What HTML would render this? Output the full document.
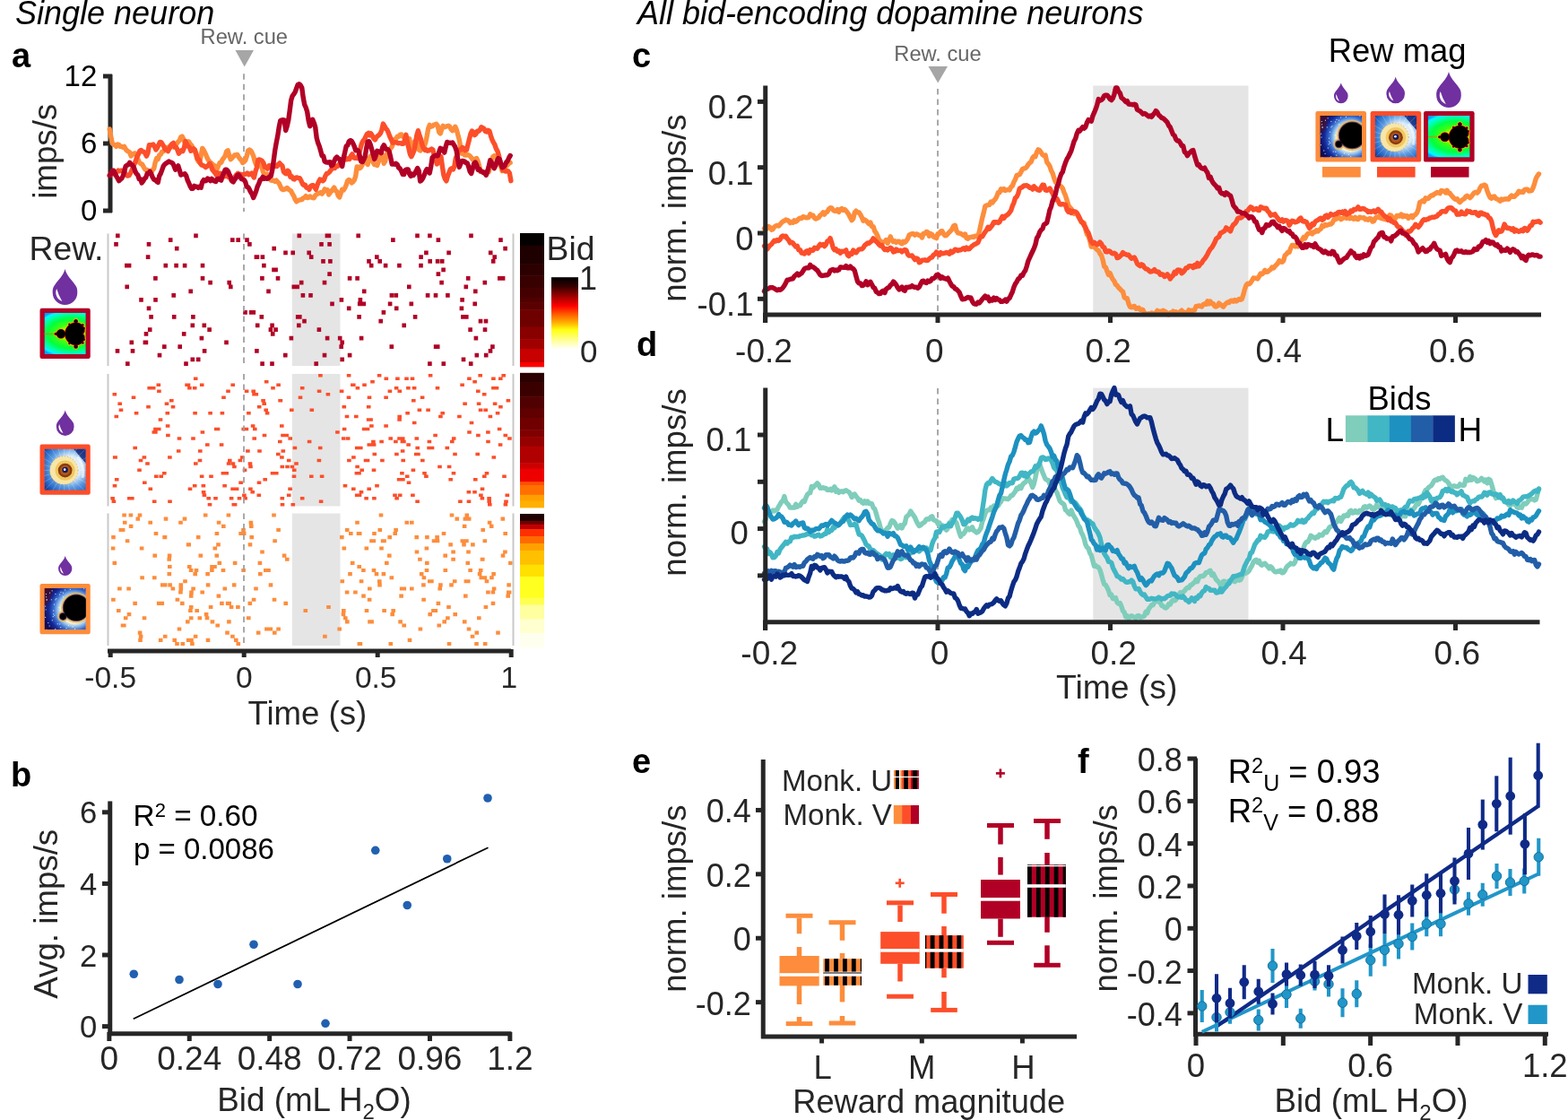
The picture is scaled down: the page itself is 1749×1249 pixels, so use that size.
<!DOCTYPE html><html><head><meta charset="utf-8"><title>Figure</title><style>html,body{margin:0;padding:0;background:#fff;overflow:hidden}svg{display:block}</style></head><body><svg width="1749" height="1249" viewBox="0 0 1749 1249" font-family="'Liberation Sans', Arial, sans-serif"><defs><linearGradient id="hot" x1="0" y1="0" x2="0" y2="1"><stop offset="0" stop-color="#000"/><stop offset="0.12" stop-color="#300000"/><stop offset="0.28" stop-color="#a80000"/><stop offset="0.4" stop-color="#ff0000"/><stop offset="0.52" stop-color="#ff6000"/><stop offset="0.63" stop-color="#ffb000"/><stop offset="0.73" stop-color="#ffff10"/><stop offset="0.87" stop-color="#ffff90"/><stop offset="1" stop-color="#ffffff"/></linearGradient><clipPath id="clip1"><rect x="0" y="0" width="100" height="100"/></clipPath><radialGradient id="g2" gradientUnits="userSpaceOnUse" cx="66" cy="50" r="95" gradientTransform="translate(66 50) scale(1 0.62) translate(-66 -50)"><stop offset="0" stop-color="#ffff00"/><stop offset="0.22" stop-color="#c0ff00"/><stop offset="0.38" stop-color="#40ff10"/><stop offset="0.62" stop-color="#00ff40"/><stop offset="0.8" stop-color="#00ffb0"/><stop offset="0.92" stop-color="#00f8ff"/><stop offset="1" stop-color="#00a0ff"/></radialGradient><clipPath id="clip3"><rect x="0" y="0" width="100" height="100"/></clipPath><radialGradient id="g4" gradientUnits="userSpaceOnUse" cx="62" cy="45" r="80"><stop offset="0" stop-color="#ffffff"/><stop offset="0.35" stop-color="#d8eaf8"/><stop offset="0.6" stop-color="#5a9ae0"/><stop offset="0.85" stop-color="#2060c0"/><stop offset="1" stop-color="#10308a"/></radialGradient><clipPath id="clip5"><rect x="0" y="0" width="100" height="100"/></clipPath><radialGradient id="g6" gradientUnits="userSpaceOnUse" cx="72" cy="52" r="85"><stop offset="0" stop-color="#ffffff"/><stop offset="0.38" stop-color="#fff4d0"/><stop offset="0.46" stop-color="#9cc8f0"/><stop offset="0.58" stop-color="#3a70d0"/><stop offset="0.72" stop-color="#142a98"/><stop offset="0.88" stop-color="#0a0c60"/><stop offset="1" stop-color="#2a0830"/></radialGradient><clipPath id="clip7"><rect x="0" y="0" width="100" height="100"/></clipPath><radialGradient id="g8" gradientUnits="userSpaceOnUse" cx="72" cy="52" r="85"><stop offset="0" stop-color="#ffffff"/><stop offset="0.38" stop-color="#fff4d0"/><stop offset="0.46" stop-color="#9cc8f0"/><stop offset="0.58" stop-color="#3a70d0"/><stop offset="0.72" stop-color="#142a98"/><stop offset="0.88" stop-color="#0a0c60"/><stop offset="1" stop-color="#2a0830"/></radialGradient><clipPath id="clip9"><rect x="0" y="0" width="100" height="100"/></clipPath><radialGradient id="g10" gradientUnits="userSpaceOnUse" cx="62" cy="45" r="80"><stop offset="0" stop-color="#ffffff"/><stop offset="0.35" stop-color="#d8eaf8"/><stop offset="0.6" stop-color="#5a9ae0"/><stop offset="0.85" stop-color="#2060c0"/><stop offset="1" stop-color="#10308a"/></radialGradient><clipPath id="clip11"><rect x="0" y="0" width="100" height="100"/></clipPath><radialGradient id="g12" gradientUnits="userSpaceOnUse" cx="66" cy="50" r="95" gradientTransform="translate(66 50) scale(1 0.62) translate(-66 -50)"><stop offset="0" stop-color="#ffff00"/><stop offset="0.22" stop-color="#c0ff00"/><stop offset="0.38" stop-color="#40ff10"/><stop offset="0.62" stop-color="#00ff40"/><stop offset="0.8" stop-color="#00ffb0"/><stop offset="0.92" stop-color="#00f8ff"/><stop offset="1" stop-color="#00a0ff"/></radialGradient></defs><rect width="1749" height="1249" fill="#fff"/><text x="17" y="27" font-size="36" fill="#000" font-style="italic">Single neuron</text>
<text x="711" y="27" font-size="36" fill="#000" font-style="italic">All bid-encoding dopamine neurons</text>
<text x="13" y="75" font-size="38" fill="#000" font-weight="bold">a</text>
<text x="12" y="877" font-size="38" fill="#000" font-weight="bold">b</text>
<text x="705" y="75" font-size="38" fill="#000" font-weight="bold">c</text>
<text x="710" y="397" font-size="38" fill="#000" font-weight="bold">d</text>
<text x="705" y="862" font-size="38" fill="#000" font-weight="bold">e</text>
<text x="1202" y="862" font-size="38" fill="#000" font-weight="bold">f</text>
<line x1="123.00" y1="83.00" x2="123.00" y2="237.00" stroke="#262626" stroke-width="5"/>
<line x1="115.00" y1="235.00" x2="125.00" y2="235.00" stroke="#262626" stroke-width="5"/>
<text x="108.3" y="246.4" font-size="33" fill="#000" text-anchor="end">0</text>
<line x1="115.00" y1="160.00" x2="125.00" y2="160.00" stroke="#262626" stroke-width="5"/>
<text x="108.3" y="171.4" font-size="33" fill="#000" text-anchor="end">6</text>
<line x1="115.00" y1="85.00" x2="125.00" y2="85.00" stroke="#262626" stroke-width="5"/>
<text x="108.3" y="96.4" font-size="33" fill="#000" text-anchor="end">12</text>
<text transform="translate(63,168.8) rotate(-90)" font-size="36.7" fill="#262626" text-anchor="middle">imps/s</text>
<text x="272.3" y="48.7" font-size="23.7" fill="#666" text-anchor="middle">Rew. cue</text>
<path d="M262.5 56 L283 56 L272.7 74.5Z" fill="#a6a6a6"/>
<line x1="272" y1="82.3" x2="272" y2="236" stroke="#a0a0a0" stroke-width="1.8" stroke-dasharray="6.5 5"/>
<path d="M122.2 144.0 L123.7 152.1 L125.2 159.8 L126.7 161.2 L128.2 161.7 L129.7 163.3 L131.2 161.0 L132.7 161.6 L134.2 163.4 L135.7 163.5 L137.2 164.2 L138.7 163.4 L140.2 166.4 L141.7 168.1 L143.2 168.9 L144.7 170.0 L146.2 174.0 L147.7 172.3 L149.2 171.4 L150.7 170.9 L152.2 173.0 L153.7 177.3 L155.2 180.9 L156.7 182.5 L158.2 182.8 L159.7 185.2 L161.2 188.0 L162.7 189.5 L164.2 189.5 L165.7 192.9 L167.2 192.8 L168.7 192.5 L170.2 189.5 L171.7 188.0 L173.2 180.8 L174.7 176.6 L176.2 177.6 L177.7 173.1 L179.2 172.2 L180.7 169.3 L182.2 168.7 L183.7 167.7 L185.2 165.2 L186.7 164.5 L188.2 164.3 L189.7 163.0 L191.2 163.9 L192.7 162.5 L194.2 164.1 L195.7 160.9 L197.2 160.1 L198.7 158.1 L200.2 156.7 L201.7 152.9 L203.2 152.1 L204.7 155.1 L206.2 158.7 L207.7 158.4 L209.2 157.9 L210.7 158.0 L212.2 160.7 L213.7 162.2 L215.2 165.1 L216.7 167.0 L218.2 171.0 L219.7 176.8 L221.2 180.0 L222.7 181.4 L224.2 173.1 L225.7 165.4 L227.2 167.4 L228.7 170.4 L230.2 173.8 L231.7 177.4 L233.2 179.6 L234.7 181.2 L236.2 182.4 L237.7 183.8 L239.2 184.6 L240.7 186.1 L242.2 188.1 L243.7 184.6 L245.2 181.5 L246.7 181.3 L248.2 177.9 L249.7 176.1 L251.2 173.8 L252.7 168.8 L254.2 167.9 L255.7 173.5 L257.2 177.7 L258.7 176.4 L260.2 174.7 L261.7 172.9 L263.2 172.7 L264.7 172.4 L266.2 175.1 L267.7 177.1 L269.2 178.7 L270.7 181.5 L272.2 180.5 L273.7 178.8 L275.2 174.3 L276.7 168.2 L278.2 167.0 L279.7 168.0 L281.2 170.5 L282.7 174.0 L284.2 179.8 L285.7 183.7 L287.2 184.7 L288.7 184.8 L290.2 184.5 L291.7 185.4 L293.2 190.8 L294.7 194.6 L296.2 194.9 L297.7 194.1 L299.2 195.4 L300.7 197.5 L302.2 201.1 L303.7 201.4 L305.2 201.3 L306.7 202.5 L308.2 201.2 L309.7 202.9 L311.2 204.4 L312.7 207.7 L314.2 210.7 L315.7 211.6 L317.2 211.1 L318.7 210.6 L320.2 209.5 L321.7 211.0 L323.2 212.1 L324.7 213.1 L326.2 216.2 L327.7 218.6 L329.2 222.4 L330.7 224.8 L332.2 223.6 L333.7 223.2 L335.2 222.8 L336.7 222.6 L338.2 220.9 L339.7 220.3 L341.2 218.7 L342.7 220.6 L344.2 220.4 L345.7 218.9 L347.2 219.8 L348.7 220.6 L350.2 220.7 L351.7 217.9 L353.2 216.8 L354.7 215.8 L356.2 215.6 L357.7 214.5 L359.2 216.1 L360.7 214.1 L362.2 210.9 L363.7 212.1 L365.2 211.8 L366.7 217.1 L368.2 214.9 L369.7 213.0 L371.2 211.1 L372.7 209.1 L374.2 212.5 L375.7 213.5 L377.2 218.3 L378.7 220.0 L380.2 215.5 L381.7 211.2 L383.2 212.0 L384.7 209.6 L386.2 206.3 L387.7 201.6 L389.2 200.5 L390.7 201.5 L392.2 203.9 L393.7 202.8 L395.2 200.9 L396.7 196.4 L398.2 185.9 L399.7 186.1 L401.2 187.7 L402.7 186.4 L404.2 183.5 L405.7 179.2 L407.2 176.7 L408.7 181.7 L410.2 183.4 L411.7 176.5 L413.2 174.2 L414.7 177.3 L416.2 181.0 L417.7 183.5 L419.2 183.6 L420.7 184.5 L422.2 180.4 L423.7 175.9 L425.2 171.5 L426.7 173.4 L428.2 182.3 L429.7 179.6 L431.2 171.6 L432.7 170.5 L434.2 167.5 L435.7 165.4 L437.2 163.6 L438.7 159.3 L440.2 155.3 L441.7 154.9 L443.2 152.2 L444.7 152.3 L446.2 150.3 L447.7 149.9 L449.2 152.3 L450.7 152.2 L452.2 155.5 L453.7 154.7 L455.2 154.4 L456.7 154.7 L458.2 163.9 L459.7 171.6 L461.2 165.8 L462.7 157.5 L464.2 156.5 L465.7 160.0 L467.2 166.8 L468.7 168.0 L470.2 165.5 L471.7 164.7 L473.2 162.9 L474.7 159.1 L476.2 151.7 L477.7 143.2 L479.2 139.4 L480.7 141.3 L482.2 140.8 L483.7 139.3 L485.2 138.9 L486.7 138.3 L488.2 140.2 L489.7 147.3 L491.2 148.9 L492.7 144.0 L494.2 140.4 L495.7 141.8 L497.2 141.2 L498.7 140.7 L500.2 140.3 L501.7 141.3 L503.2 144.1 L504.7 145.8 L506.2 144.8 L507.7 141.2 L509.2 144.6 L510.7 149.9 L512.2 155.6 L513.7 163.7 L515.2 171.2 L516.7 170.1 L518.2 172.9 L519.7 173.1 L521.2 172.7 L522.7 173.0 L524.2 174.0 L525.7 175.8 L527.2 177.9 L528.7 178.2 L530.2 177.1 L531.7 176.6 L533.2 180.0 L534.7 185.6 L536.2 191.5 L537.7 191.6 L539.2 191.4 L540.7 193.5 L542.2 192.8 L543.7 191.3 L545.2 191.7 L546.7 185.2 L548.2 180.1 L549.7 175.0 L551.2 173.6 L552.7 174.0 L554.2 175.2 L555.7 179.2 L557.2 183.7 L558.7 185.3 L560.2 190.7 L561.7 188.6 L563.2 186.9 L564.7 185.2 L566.2 184.1 L567.7 181.9 L569.2 181.5" fill="none" stroke="#fd8d3c" stroke-width="5.4" stroke-linejoin="round" stroke-linecap="round"/>
<path d="M122.9 194.4 L124.4 194.9 L125.9 194.0 L127.4 193.0 L128.9 193.3 L130.4 191.6 L131.9 190.1 L133.4 190.8 L134.9 190.1 L136.4 190.2 L137.9 191.0 L139.4 192.7 L140.9 194.8 L142.4 196.1 L143.9 195.7 L145.4 193.4 L146.9 190.3 L148.4 186.0 L149.9 183.1 L151.4 179.2 L152.9 174.5 L154.4 172.0 L155.9 168.3 L157.4 167.5 L158.9 168.9 L160.4 169.3 L161.9 171.0 L163.4 174.1 L164.9 170.7 L166.4 161.8 L167.9 161.9 L169.4 161.5 L170.9 161.1 L172.4 163.5 L173.9 167.0 L175.4 164.9 L176.9 161.6 L178.4 158.5 L179.9 158.7 L181.4 161.1 L182.9 163.6 L184.4 166.9 L185.9 167.2 L187.4 168.6 L188.9 165.5 L190.4 162.4 L191.9 160.4 L193.4 159.4 L194.9 163.8 L196.4 164.0 L197.9 167.0 L199.4 171.2 L200.9 169.5 L202.4 167.8 L203.9 168.6 L205.4 164.7 L206.9 157.6 L208.4 160.6 L209.9 163.1 L211.4 164.3 L212.9 168.3 L214.4 167.4 L215.9 165.9 L217.4 167.1 L218.9 171.6 L220.4 177.3 L221.9 177.8 L223.4 182.1 L224.9 184.0 L226.4 184.6 L227.9 185.2 L229.4 186.6 L230.9 185.5 L232.4 184.1 L233.9 182.3 L235.4 185.3 L236.9 189.3 L238.4 191.1 L239.9 192.9 L241.4 195.2 L242.9 192.7 L244.4 195.1 L245.9 193.3 L247.4 195.3 L248.9 196.1 L250.4 196.7 L251.9 194.5 L253.4 196.5 L254.9 197.6 L256.4 197.1 L257.9 200.9 L259.4 202.1 L260.9 200.3 L262.4 196.7 L263.9 194.7 L265.4 193.3 L266.9 194.7 L268.4 194.2 L269.9 197.3 L271.4 194.5 L272.9 194.3 L274.4 194.1 L275.9 193.1 L277.4 194.8 L278.9 194.1 L280.4 193.2 L281.9 195.6 L283.4 198.0 L284.9 191.3 L286.4 186.8 L287.9 178.4 L289.4 177.9 L290.9 178.6 L292.4 179.6 L293.9 181.7 L295.4 186.4 L296.9 186.4 L298.4 188.2 L299.9 184.7 L301.4 185.0 L302.9 184.6 L304.4 183.7 L305.9 183.7 L307.4 185.6 L308.9 185.6 L310.4 183.3 L311.9 181.9 L313.4 183.8 L314.9 184.9 L316.4 191.5 L317.9 193.0 L319.4 193.8 L320.9 190.2 L322.4 191.6 L323.9 197.2 L325.4 196.7 L326.9 199.4 L328.4 199.9 L329.9 198.2 L331.4 197.9 L332.9 198.6 L334.4 198.8 L335.9 201.5 L337.4 205.0 L338.9 206.5 L340.4 206.2 L341.9 209.4 L343.4 209.5 L344.9 211.4 L346.4 207.7 L347.9 206.7 L349.4 206.7 L350.9 208.9 L352.4 211.3 L353.9 206.3 L355.4 202.9 L356.9 200.0 L358.4 200.4 L359.9 201.7 L361.4 200.6 L362.9 196.2 L364.4 193.4 L365.9 193.2 L367.4 192.0 L368.9 189.9 L370.4 188.0 L371.9 187.6 L373.4 187.5 L374.9 185.1 L376.4 185.5 L377.9 183.7 L379.4 182.1 L380.9 179.7 L382.4 179.9 L383.9 178.2 L385.4 176.3 L386.9 177.8 L388.4 176.8 L389.9 177.4 L391.4 173.8 L392.9 171.9 L394.4 175.5 L395.9 176.3 L397.4 175.9 L398.9 176.6 L400.4 172.4 L401.9 165.9 L403.4 160.2 L404.9 157.2 L406.4 155.7 L407.9 152.5 L409.4 149.4 L410.9 148.4 L412.4 151.0 L413.9 148.9 L415.4 151.7 L416.9 154.3 L418.4 155.9 L419.9 152.8 L421.4 151.6 L422.9 150.4 L424.4 148.6 L425.9 144.7 L427.4 138.1 L428.9 140.6 L430.4 143.3 L431.9 145.0 L433.4 148.4 L434.9 152.5 L436.4 155.7 L437.9 159.2 L439.4 158.8 L440.9 158.9 L442.4 158.8 L443.9 159.8 L445.4 159.6 L446.9 159.6 L448.4 160.4 L449.9 160.4 L451.4 156.1 L452.9 150.3 L454.4 158.7 L455.9 165.1 L457.4 171.9 L458.9 174.7 L460.4 171.5 L461.9 168.0 L463.4 160.0 L464.9 150.7 L466.4 145.7 L467.9 150.9 L469.4 155.0 L470.9 161.4 L472.4 165.5 L473.9 167.5 L475.4 166.8 L476.9 168.2 L478.4 167.8 L479.9 167.0 L481.4 166.1 L482.9 167.0 L484.4 174.2 L485.9 178.1 L487.4 182.9 L488.9 181.2 L490.4 176.9 L491.9 174.6 L493.4 185.7 L494.9 195.4 L496.4 199.5 L497.9 201.8 L499.4 196.6 L500.9 192.5 L502.4 188.7 L503.9 187.7 L505.4 189.0 L506.9 185.2 L508.4 176.2 L509.9 173.4 L511.4 167.7 L512.9 166.7 L514.4 166.8 L515.9 164.5 L517.4 165.5 L518.9 167.8 L520.4 167.3 L521.9 161.4 L523.4 155.5 L524.9 149.3 L526.4 146.0 L527.9 147.2 L529.4 150.6 L530.9 149.4 L532.4 146.2 L533.9 146.4 L535.4 144.9 L536.9 141.7 L538.4 142.6 L539.9 143.6 L541.4 146.5 L542.9 147.0 L544.4 145.3 L545.9 146.1 L547.4 151.3 L548.9 155.7 L550.4 158.7 L551.9 161.4 L553.4 165.9 L554.9 168.4 L556.4 173.3 L557.9 180.4 L559.4 184.9 L560.9 189.8 L562.4 188.6 L563.9 191.1 L565.4 190.7 L566.9 191.0 L568.4 193.1 L569.9 201.7" fill="none" stroke="#fc4e2a" stroke-width="5.4" stroke-linejoin="round" stroke-linecap="round"/>
<path d="M122.2 195.7 L123.7 194.1 L125.2 190.3 L126.7 190.3 L128.2 193.2 L129.7 196.4 L131.2 198.9 L132.7 201.6 L134.2 200.3 L135.7 199.0 L137.2 196.3 L138.7 191.0 L140.2 185.2 L141.7 184.3 L143.2 183.6 L144.7 181.3 L146.2 183.3 L147.7 184.2 L149.2 186.4 L150.7 190.7 L152.2 193.7 L153.7 195.2 L155.2 199.7 L156.7 199.7 L158.2 204.0 L159.7 202.0 L161.2 199.1 L162.7 198.0 L164.2 193.5 L165.7 193.3 L167.2 191.2 L168.7 194.1 L170.2 197.6 L171.7 200.1 L173.2 200.6 L174.7 202.3 L176.2 203.4 L177.7 196.3 L179.2 193.6 L180.7 189.6 L182.2 185.4 L183.7 183.3 L185.2 182.1 L186.7 181.2 L188.2 180.0 L189.7 180.7 L191.2 181.2 L192.7 182.2 L194.2 185.4 L195.7 189.2 L197.2 186.4 L198.7 184.9 L200.2 189.5 L201.7 195.1 L203.2 194.3 L204.7 194.4 L206.2 193.7 L207.7 196.0 L209.2 201.0 L210.7 204.2 L212.2 207.8 L213.7 210.2 L215.2 210.3 L216.7 207.3 L218.2 208.2 L219.7 208.1 L221.2 209.4 L222.7 208.0 L224.2 209.2 L225.7 202.9 L227.2 200.6 L228.7 201.8 L230.2 201.4 L231.7 199.0 L233.2 200.2 L234.7 201.7 L236.2 199.4 L237.7 201.1 L239.2 202.0 L240.7 202.5 L242.2 199.6 L243.7 199.3 L245.2 200.4 L246.7 201.1 L248.2 195.9 L249.7 192.8 L251.2 189.3 L252.7 189.3 L254.2 190.7 L255.7 194.1 L257.2 197.1 L258.7 201.7 L260.2 202.8 L261.7 200.2 L263.2 198.4 L264.7 195.5 L266.2 194.8 L267.7 196.7 L269.2 199.4 L270.7 200.0 L272.2 200.5 L273.7 202.9 L275.2 208.4 L276.7 208.6 L278.2 211.2 L279.7 214.2 L281.2 216.5 L282.7 220.5 L284.2 217.0 L285.7 213.1 L287.2 208.0 L288.7 204.9 L290.2 200.7 L291.7 199.9 L293.2 197.3 L294.7 199.3 L296.2 198.6 L297.7 199.3 L299.2 199.1 L300.7 196.8 L302.2 196.4 L303.7 189.7 L305.2 179.4 L306.7 167.9 L308.2 159.2 L309.7 151.8 L311.2 142.1 L312.7 134.7 L314.2 133.9 L315.7 133.8 L317.2 133.9 L318.7 145.5 L320.2 140.6 L321.7 134.2 L323.2 123.4 L324.7 111.7 L326.2 106.9 L327.7 105.0 L329.2 102.6 L330.7 98.5 L332.2 94.4 L333.7 93.8 L335.2 94.9 L336.7 97.7 L338.2 108.8 L339.7 116.7 L341.2 120.0 L342.7 124.8 L344.2 134.7 L345.7 140.7 L347.2 137.6 L348.7 133.2 L350.2 136.9 L351.7 141.7 L353.2 153.8 L354.7 159.4 L356.2 163.0 L357.7 168.2 L359.2 173.7 L360.7 174.0 L362.2 180.0 L363.7 180.9 L365.2 181.2 L366.7 180.9 L368.2 180.7 L369.7 184.8 L371.2 183.8 L372.7 179.8 L374.2 176.6 L375.7 175.0 L377.2 176.7 L378.7 177.5 L380.2 181.0 L381.7 185.6 L383.2 176.2 L384.7 169.8 L386.2 163.1 L387.7 162.1 L389.2 157.8 L390.7 156.6 L392.2 157.2 L393.7 159.9 L395.2 163.1 L396.7 167.7 L398.2 167.3 L399.7 168.1 L401.2 173.6 L402.7 180.0 L404.2 180.6 L405.7 177.9 L407.2 174.4 L408.7 165.4 L410.2 157.9 L411.7 157.7 L413.2 161.3 L414.7 166.8 L416.2 172.2 L417.7 177.5 L419.2 173.5 L420.7 168.3 L422.2 169.3 L423.7 168.9 L425.2 170.6 L426.7 164.3 L428.2 161.8 L429.7 164.7 L431.2 166.6 L432.7 166.7 L434.2 169.2 L435.7 175.4 L437.2 183.0 L438.7 182.8 L440.2 183.3 L441.7 182.3 L443.2 183.5 L444.7 187.1 L446.2 187.9 L447.7 190.7 L449.2 194.4 L450.7 194.5 L452.2 189.7 L453.7 188.9 L455.2 188.9 L456.7 193.9 L458.2 196.5 L459.7 194.2 L461.2 195.5 L462.7 193.5 L464.2 190.6 L465.7 187.5 L467.2 190.4 L468.7 202.1 L470.2 201.0 L471.7 198.8 L473.2 195.3 L474.7 191.4 L476.2 188.6 L477.7 190.7 L479.2 192.9 L480.7 185.7 L482.2 175.6 L483.7 174.5 L485.2 173.5 L486.7 173.5 L488.2 173.8 L489.7 169.6 L491.2 165.4 L492.7 166.0 L494.2 167.8 L495.7 170.1 L497.2 163.6 L498.7 158.4 L500.2 159.3 L501.7 159.2 L503.2 159.6 L504.7 159.0 L506.2 161.4 L507.7 163.8 L509.2 168.1 L510.7 178.0 L512.2 186.4 L513.7 183.0 L515.2 179.4 L516.7 179.5 L518.2 180.0 L519.7 181.5 L521.2 181.9 L522.7 186.0 L524.2 191.3 L525.7 193.5 L527.2 188.1 L528.7 182.5 L530.2 181.0 L531.7 183.8 L533.2 189.4 L534.7 188.6 L536.2 191.0 L537.7 191.4 L539.2 192.5 L540.7 192.4 L542.2 195.3 L543.7 191.0 L545.2 185.7 L546.7 178.7 L548.2 181.2 L549.7 184.5 L551.2 187.7 L552.7 184.7 L554.2 180.1 L555.7 176.5 L557.2 177.7 L558.7 182.3 L560.2 186.7 L561.7 186.0 L563.2 184.5 L564.7 181.0 L566.2 179.5 L567.7 176.0 L569.2 173.5" fill="none" stroke="#b10026" stroke-width="5.4" stroke-linejoin="round" stroke-linecap="round"/>
<rect x="325.84" y="260.50" width="53.64" height="147.50" fill="#e5e5e5"/>
<path d="M523.2 260.5h4.6v4.76h-4.6zM331.5 260.5h4.6v4.76h-4.6zM364.6 260.5h4.6v4.76h-4.6zM129.0 260.5h4.6v4.76h-4.6zM463.2 260.5h4.6v4.76h-4.6zM477.1 260.5h4.6v4.76h-4.6zM397.4 260.5h4.6v4.76h-4.6zM216.2 260.5h4.6v4.76h-4.6zM362.6 260.5h4.6v4.76h-4.6zM187.9 265.3h4.6v4.76h-4.6zM257.0 265.3h4.6v4.76h-4.6zM273.2 265.3h4.6v4.76h-4.6zM486.6 265.3h4.6v4.76h-4.6zM263.4 265.3h4.6v4.76h-4.6zM436.1 265.3h4.6v4.76h-4.6zM556.2 265.3h4.6v4.76h-4.6zM127.2 270.0h4.6v4.76h-4.6zM276.1 270.0h4.6v4.76h-4.6zM356.2 270.0h4.6v4.76h-4.6zM163.7 270.0h4.6v4.76h-4.6zM365.3 270.0h4.6v4.76h-4.6zM194.9 274.8h4.6v4.76h-4.6zM561.3 274.8h4.6v4.76h-4.6zM303.4 274.8h4.6v4.76h-4.6zM342.4 279.5h4.6v4.76h-4.6zM544.9 279.5h4.6v4.76h-4.6zM473.1 279.5h4.6v4.76h-4.6zM316.2 279.5h4.6v4.76h-4.6zM498.3 279.5h4.6v4.76h-4.6zM324.4 279.5h4.6v4.76h-4.6zM290.6 284.3h4.6v4.76h-4.6zM549.4 284.3h4.6v4.76h-4.6zM344.9 284.3h4.6v4.76h-4.6zM162.8 284.3h4.6v4.76h-4.6zM283.6 284.3h4.6v4.76h-4.6zM467.3 284.3h4.6v4.76h-4.6zM418.0 284.3h4.6v4.76h-4.6zM284.6 284.3h4.6v4.76h-4.6zM366.1 289.0h4.6v4.76h-4.6zM421.4 289.0h4.6v4.76h-4.6zM485.8 289.0h4.6v4.76h-4.6zM477.4 289.0h4.6v4.76h-4.6zM409.2 289.0h4.6v4.76h-4.6zM490.9 289.0h4.6v4.76h-4.6zM547.9 289.0h4.6v4.76h-4.6zM358.2 289.0h4.6v4.76h-4.6zM467.2 293.8h4.6v4.76h-4.6zM443.1 293.8h4.6v4.76h-4.6zM194.3 293.8h4.6v4.76h-4.6zM411.9 293.8h4.6v4.76h-4.6zM427.8 293.8h4.6v4.76h-4.6zM141.8 293.8h4.6v4.76h-4.6zM223.7 293.8h4.6v4.76h-4.6zM182.5 293.8h4.6v4.76h-4.6zM203.8 293.8h4.6v4.76h-4.6zM139.0 293.8h4.6v4.76h-4.6zM292.1 293.8h4.6v4.76h-4.6zM303.2 298.6h4.6v4.76h-4.6zM305.3 298.6h4.6v4.76h-4.6zM492.3 298.6h4.6v4.76h-4.6zM365.3 303.3h4.6v4.76h-4.6zM486.6 303.3h4.6v4.76h-4.6zM519.9 308.1h4.6v4.76h-4.6zM171.1 308.1h4.6v4.76h-4.6zM396.3 308.1h4.6v4.76h-4.6zM290.1 308.1h4.6v4.76h-4.6zM223.7 308.1h4.6v4.76h-4.6zM555.0 308.1h4.6v4.76h-4.6zM387.8 308.1h4.6v4.76h-4.6zM558.8 308.1h4.6v4.76h-4.6zM307.7 308.1h4.6v4.76h-4.6zM490.3 312.8h4.6v4.76h-4.6zM359.7 312.8h4.6v4.76h-4.6zM538.5 312.8h4.6v4.76h-4.6zM232.3 312.8h4.6v4.76h-4.6zM253.4 312.8h4.6v4.76h-4.6zM333.9 312.8h4.6v4.76h-4.6zM255.0 317.6h4.6v4.76h-4.6zM329.4 317.6h4.6v4.76h-4.6zM454.0 317.6h4.6v4.76h-4.6zM139.4 317.6h4.6v4.76h-4.6zM325.5 317.6h4.6v4.76h-4.6zM517.5 317.6h4.6v4.76h-4.6zM403.9 322.4h4.6v4.76h-4.6zM528.0 322.4h4.6v4.76h-4.6zM297.2 322.4h4.6v4.76h-4.6zM210.4 322.4h4.6v4.76h-4.6zM335.6 327.1h4.6v4.76h-4.6zM344.2 327.1h4.6v4.76h-4.6zM191.4 327.1h4.6v4.76h-4.6zM483.7 327.1h4.6v4.76h-4.6zM474.8 327.1h4.6v4.76h-4.6zM434.6 327.1h4.6v4.76h-4.6zM497.1 327.1h4.6v4.76h-4.6zM439.5 327.1h4.6v4.76h-4.6zM399.6 331.9h4.6v4.76h-4.6zM171.2 331.9h4.6v4.76h-4.6zM155.2 331.9h4.6v4.76h-4.6zM378.6 331.9h4.6v4.76h-4.6zM513.3 331.9h4.6v4.76h-4.6zM432.8 336.6h4.6v4.76h-4.6zM403.5 336.6h4.6v4.76h-4.6zM527.4 336.6h4.6v4.76h-4.6zM398.9 336.6h4.6v4.76h-4.6zM368.2 336.6h4.6v4.76h-4.6zM456.5 336.6h4.6v4.76h-4.6zM439.9 341.4h4.6v4.76h-4.6zM163.7 341.4h4.6v4.76h-4.6zM386.9 341.4h4.6v4.76h-4.6zM512.6 341.4h4.6v4.76h-4.6zM425.6 346.1h4.6v4.76h-4.6zM280.5 346.1h4.6v4.76h-4.6zM271.2 346.1h4.6v4.76h-4.6zM278.0 346.1h4.6v4.76h-4.6zM166.3 350.9h4.6v4.76h-4.6zM213.1 350.9h4.6v4.76h-4.6zM518.0 350.9h4.6v4.76h-4.6zM460.8 350.9h4.6v4.76h-4.6zM332.0 350.9h4.6v4.76h-4.6zM398.3 350.9h4.6v4.76h-4.6zM329.9 350.9h4.6v4.76h-4.6zM191.9 350.9h4.6v4.76h-4.6zM289.5 350.9h4.6v4.76h-4.6zM514.1 350.9h4.6v4.76h-4.6zM337.2 355.7h4.6v4.76h-4.6zM533.7 355.7h4.6v4.76h-4.6zM539.7 355.7h4.6v4.76h-4.6zM422.4 355.7h4.6v4.76h-4.6zM212.5 360.4h4.6v4.76h-4.6zM225.5 360.4h4.6v4.76h-4.6zM301.3 360.4h4.6v4.76h-4.6zM284.9 360.4h4.6v4.76h-4.6zM331.0 360.4h4.6v4.76h-4.6zM448.4 360.4h4.6v4.76h-4.6zM305.3 365.2h4.6v4.76h-4.6zM353.6 365.2h4.6v4.76h-4.6zM164.9 365.2h4.6v4.76h-4.6zM522.3 365.2h4.6v4.76h-4.6zM538.7 365.2h4.6v4.76h-4.6zM231.3 365.2h4.6v4.76h-4.6zM299.6 365.2h4.6v4.76h-4.6zM202.9 369.9h4.6v4.76h-4.6zM301.9 369.9h4.6v4.76h-4.6zM160.7 369.9h4.6v4.76h-4.6zM362.8 374.7h4.6v4.76h-4.6zM376.9 374.7h4.6v4.76h-4.6zM400.8 374.7h4.6v4.76h-4.6zM528.6 374.7h4.6v4.76h-4.6zM322.6 374.7h4.6v4.76h-4.6zM222.6 374.7h4.6v4.76h-4.6zM159.6 379.5h4.6v4.76h-4.6zM160.6 379.5h4.6v4.76h-4.6zM379.4 379.5h4.6v4.76h-4.6zM144.5 379.5h4.6v4.76h-4.6zM250.2 379.5h4.6v4.76h-4.6zM378.4 384.2h4.6v4.76h-4.6zM485.9 384.2h4.6v4.76h-4.6zM547.1 384.2h4.6v4.76h-4.6zM434.5 384.2h4.6v4.76h-4.6zM483.8 384.2h4.6v4.76h-4.6zM181.0 384.2h4.6v4.76h-4.6zM198.4 384.2h4.6v4.76h-4.6zM145.7 389.0h4.6v4.76h-4.6zM544.7 389.0h4.6v4.76h-4.6zM225.8 389.0h4.6v4.76h-4.6zM284.1 389.0h4.6v4.76h-4.6zM128.7 389.0h4.6v4.76h-4.6zM539.9 393.7h4.6v4.76h-4.6zM175.7 393.7h4.6v4.76h-4.6zM529.5 393.7h4.6v4.76h-4.6zM316.0 393.7h4.6v4.76h-4.6zM359.7 393.7h4.6v4.76h-4.6zM387.8 393.7h4.6v4.76h-4.6zM379.4 398.5h4.6v4.76h-4.6zM514.7 398.5h4.6v4.76h-4.6zM218.9 398.5h4.6v4.76h-4.6zM212.5 398.5h4.6v4.76h-4.6zM301.2 403.2h4.6v4.76h-4.6zM492.5 403.2h4.6v4.76h-4.6zM140.0 403.2h4.6v4.76h-4.6zM522.9 403.2h4.6v4.76h-4.6zM477.1 403.2h4.6v4.76h-4.6zM290.3 403.2h4.6v4.76h-4.6zM350.4 403.2h4.6v4.76h-4.6zM205.2 403.2h4.6v4.76h-4.6z" fill="#b10026"/>
<line x1="120.50" y1="260.50" x2="120.50" y2="408.00" stroke="#c8c8c8" stroke-width="2"/>
<line x1="572.50" y1="260.50" x2="572.50" y2="408.00" stroke="#c8c8c8" stroke-width="2"/>
<line x1="272" y1="260.5" x2="272" y2="408" stroke="#a0a0a0" stroke-width="1.8" stroke-dasharray="6.5 5"/>
<rect x="325.84" y="417.00" width="53.64" height="147.50" fill="#e5e5e5"/>
<path d="M559.4 417.0h4.6v3.51h-4.6zM533.4 417.0h4.6v3.51h-4.6zM420.8 417.0h4.6v3.51h-4.6zM477.8 417.0h4.6v3.51h-4.6zM386.8 417.0h4.6v3.51h-4.6zM355.1 417.0h4.6v3.51h-4.6zM441.1 420.5h4.6v3.51h-4.6zM457.7 420.5h4.6v3.51h-4.6zM548.1 420.5h4.6v3.51h-4.6zM428.5 420.5h4.6v3.51h-4.6zM451.2 420.5h4.6v3.51h-4.6zM215.9 420.5h4.6v3.51h-4.6zM521.1 420.5h4.6v3.51h-4.6zM556.0 420.5h4.6v3.51h-4.6zM413.2 424.0h4.6v3.51h-4.6zM527.3 424.0h4.6v3.51h-4.6zM294.9 424.0h4.6v3.51h-4.6zM404.2 427.5h4.6v3.51h-4.6zM222.9 427.5h4.6v3.51h-4.6zM513.3 427.5h4.6v3.51h-4.6zM308.3 427.5h4.6v3.51h-4.6zM257.4 427.5h4.6v3.51h-4.6zM392.0 427.5h4.6v3.51h-4.6zM206.3 427.5h4.6v3.51h-4.6zM174.5 427.5h4.6v3.51h-4.6zM391.1 427.5h4.6v3.51h-4.6zM207.7 427.5h4.6v3.51h-4.6zM334.9 431.0h4.6v3.51h-4.6zM209.1 431.0h4.6v3.51h-4.6zM164.4 431.0h4.6v3.51h-4.6zM396.6 431.0h4.6v3.51h-4.6zM459.8 431.0h4.6v3.51h-4.6zM485.7 431.0h4.6v3.51h-4.6zM439.8 431.0h4.6v3.51h-4.6zM548.1 431.0h4.6v3.51h-4.6zM551.7 431.0h4.6v3.51h-4.6zM168.9 431.0h4.6v3.51h-4.6zM214.9 431.0h4.6v3.51h-4.6zM453.1 431.0h4.6v3.51h-4.6zM302.2 431.0h4.6v3.51h-4.6zM443.5 434.6h4.6v3.51h-4.6zM175.1 434.6h4.6v3.51h-4.6zM280.4 434.6h4.6v3.51h-4.6zM531.0 434.6h4.6v3.51h-4.6zM252.2 434.6h4.6v3.51h-4.6zM432.6 434.6h4.6v3.51h-4.6zM378.8 434.6h4.6v3.51h-4.6zM272.8 434.6h4.6v3.51h-4.6zM353.8 434.6h4.6v3.51h-4.6zM363.6 438.1h4.6v3.51h-4.6zM537.9 438.1h4.6v3.51h-4.6zM281.2 438.1h4.6v3.51h-4.6zM125.5 438.1h4.6v3.51h-4.6zM283.5 438.1h4.6v3.51h-4.6zM332.7 441.6h4.6v3.51h-4.6zM247.2 441.6h4.6v3.51h-4.6zM428.3 441.6h4.6v3.51h-4.6zM146.7 441.6h4.6v3.51h-4.6zM468.8 441.6h4.6v3.51h-4.6zM386.7 441.6h4.6v3.51h-4.6zM409.7 441.6h4.6v3.51h-4.6zM291.3 445.1h4.6v3.51h-4.6zM459.0 445.1h4.6v3.51h-4.6zM189.0 445.1h4.6v3.51h-4.6zM310.6 445.1h4.6v3.51h-4.6zM564.6 445.1h4.6v3.51h-4.6zM310.3 445.1h4.6v3.51h-4.6zM292.4 448.6h4.6v3.51h-4.6zM516.3 448.6h4.6v3.51h-4.6zM131.4 448.6h4.6v3.51h-4.6zM549.8 448.6h4.6v3.51h-4.6zM183.7 448.6h4.6v3.51h-4.6zM531.8 448.6h4.6v3.51h-4.6zM190.7 452.1h4.6v3.51h-4.6zM556.1 452.1h4.6v3.51h-4.6zM163.2 452.1h4.6v3.51h-4.6zM408.9 452.1h4.6v3.51h-4.6zM286.9 452.1h4.6v3.51h-4.6zM381.5 452.1h4.6v3.51h-4.6zM465.6 455.6h4.6v3.51h-4.6zM475.3 455.6h4.6v3.51h-4.6zM345.5 455.6h4.6v3.51h-4.6zM294.4 455.6h4.6v3.51h-4.6zM132.7 455.6h4.6v3.51h-4.6zM323.0 455.6h4.6v3.51h-4.6zM533.8 455.6h4.6v3.51h-4.6zM539.4 455.6h4.6v3.51h-4.6zM184.5 459.1h4.6v3.51h-4.6zM215.3 459.1h4.6v3.51h-4.6zM149.8 459.1h4.6v3.51h-4.6zM275.1 459.1h4.6v3.51h-4.6zM552.8 459.1h4.6v3.51h-4.6zM245.6 459.1h4.6v3.51h-4.6zM452.3 459.1h4.6v3.51h-4.6zM491.4 459.1h4.6v3.51h-4.6zM295.8 459.1h4.6v3.51h-4.6zM232.3 459.1h4.6v3.51h-4.6zM127.5 462.7h4.6v3.51h-4.6zM489.1 462.7h4.6v3.51h-4.6zM510.1 462.7h4.6v3.51h-4.6zM384.7 462.7h4.6v3.51h-4.6zM443.4 462.7h4.6v3.51h-4.6zM395.0 462.7h4.6v3.51h-4.6zM544.6 462.7h4.6v3.51h-4.6zM411.3 466.2h4.6v3.51h-4.6zM443.3 466.2h4.6v3.51h-4.6zM408.8 466.2h4.6v3.51h-4.6zM176.7 466.2h4.6v3.51h-4.6zM459.9 469.7h4.6v3.51h-4.6zM523.7 469.7h4.6v3.51h-4.6zM279.8 473.2h4.6v3.51h-4.6zM312.0 473.2h4.6v3.51h-4.6zM412.1 473.2h4.6v3.51h-4.6zM184.8 473.2h4.6v3.51h-4.6zM428.3 473.2h4.6v3.51h-4.6zM171.1 476.7h4.6v3.51h-4.6zM282.0 476.7h4.6v3.51h-4.6zM240.7 476.7h4.6v3.51h-4.6zM407.7 476.7h4.6v3.51h-4.6zM174.9 476.7h4.6v3.51h-4.6zM272.6 476.7h4.6v3.51h-4.6zM403.8 476.7h4.6v3.51h-4.6zM381.8 476.7h4.6v3.51h-4.6zM554.8 476.7h4.6v3.51h-4.6zM405.7 476.7h4.6v3.51h-4.6zM238.9 476.7h4.6v3.51h-4.6zM269.4 476.7h4.6v3.51h-4.6zM542.1 480.2h4.6v3.51h-4.6zM521.2 480.2h4.6v3.51h-4.6zM169.5 480.2h4.6v3.51h-4.6zM223.6 480.2h4.6v3.51h-4.6zM374.1 480.2h4.6v3.51h-4.6zM171.1 480.2h4.6v3.51h-4.6zM561.5 483.7h4.6v3.51h-4.6zM317.4 483.7h4.6v3.51h-4.6zM313.2 483.7h4.6v3.51h-4.6zM292.7 483.7h4.6v3.51h-4.6zM531.1 483.7h4.6v3.51h-4.6zM483.3 483.7h4.6v3.51h-4.6zM185.1 483.7h4.6v3.51h-4.6zM213.2 487.2h4.6v3.51h-4.6zM446.9 487.2h4.6v3.51h-4.6zM566.1 487.2h4.6v3.51h-4.6zM197.7 487.2h4.6v3.51h-4.6zM321.4 487.2h4.6v3.51h-4.6zM503.9 487.2h4.6v3.51h-4.6zM433.4 487.2h4.6v3.51h-4.6zM380.9 487.2h4.6v3.51h-4.6zM281.4 487.2h4.6v3.51h-4.6zM443.2 487.2h4.6v3.51h-4.6zM462.5 487.2h4.6v3.51h-4.6zM385.9 487.2h4.6v3.51h-4.6zM414.1 490.8h4.6v3.51h-4.6zM446.6 490.8h4.6v3.51h-4.6zM542.2 490.8h4.6v3.51h-4.6zM502.0 490.8h4.6v3.51h-4.6zM310.0 490.8h4.6v3.51h-4.6zM423.3 490.8h4.6v3.51h-4.6zM448.1 490.8h4.6v3.51h-4.6zM439.1 490.8h4.6v3.51h-4.6zM476.6 490.8h4.6v3.51h-4.6zM342.8 490.8h4.6v3.51h-4.6zM555.8 494.3h4.6v3.51h-4.6zM229.0 494.3h4.6v3.51h-4.6zM412.3 494.3h4.6v3.51h-4.6zM409.5 494.3h4.6v3.51h-4.6zM244.8 494.3h4.6v3.51h-4.6zM414.8 494.3h4.6v3.51h-4.6zM453.3 494.3h4.6v3.51h-4.6zM496.5 497.8h4.6v3.51h-4.6zM148.4 497.8h4.6v3.51h-4.6zM463.4 497.8h4.6v3.51h-4.6zM326.6 497.8h4.6v3.51h-4.6zM479.7 497.8h4.6v3.51h-4.6zM354.9 497.8h4.6v3.51h-4.6zM476.3 497.8h4.6v3.51h-4.6zM400.0 497.8h4.6v3.51h-4.6zM395.9 497.8h4.6v3.51h-4.6zM274.1 501.3h4.6v3.51h-4.6zM287.2 501.3h4.6v3.51h-4.6zM221.0 501.3h4.6v3.51h-4.6zM313.5 501.3h4.6v3.51h-4.6zM446.8 501.3h4.6v3.51h-4.6zM196.9 501.3h4.6v3.51h-4.6zM464.1 504.8h4.6v3.51h-4.6zM505.2 504.8h4.6v3.51h-4.6zM461.9 504.8h4.6v3.51h-4.6zM530.4 504.8h4.6v3.51h-4.6zM308.0 504.8h4.6v3.51h-4.6zM415.5 504.8h4.6v3.51h-4.6zM440.1 504.8h4.6v3.51h-4.6zM392.1 508.3h4.6v3.51h-4.6zM187.1 508.3h4.6v3.51h-4.6zM126.3 508.3h4.6v3.51h-4.6zM312.1 508.3h4.6v3.51h-4.6zM125.9 508.3h4.6v3.51h-4.6zM548.5 508.3h4.6v3.51h-4.6zM268.0 508.3h4.6v3.51h-4.6zM158.6 508.3h4.6v3.51h-4.6zM126.2 508.3h4.6v3.51h-4.6zM254.0 511.8h4.6v3.51h-4.6zM154.7 511.8h4.6v3.51h-4.6zM220.7 511.8h4.6v3.51h-4.6zM387.1 511.8h4.6v3.51h-4.6zM447.4 511.8h4.6v3.51h-4.6zM265.6 511.8h4.6v3.51h-4.6zM469.0 511.8h4.6v3.51h-4.6zM424.1 511.8h4.6v3.51h-4.6zM353.6 511.8h4.6v3.51h-4.6zM407.7 511.8h4.6v3.51h-4.6zM405.7 511.8h4.6v3.51h-4.6zM319.9 511.8h4.6v3.51h-4.6zM257.6 515.3h4.6v3.51h-4.6zM252.8 515.3h4.6v3.51h-4.6zM276.7 515.3h4.6v3.51h-4.6zM162.2 515.3h4.6v3.51h-4.6zM216.0 515.3h4.6v3.51h-4.6zM328.2 515.3h4.6v3.51h-4.6zM488.2 518.8h4.6v3.51h-4.6zM277.2 518.8h4.6v3.51h-4.6zM498.8 518.8h4.6v3.51h-4.6zM323.6 518.8h4.6v3.51h-4.6zM396.3 518.8h4.6v3.51h-4.6zM312.5 518.8h4.6v3.51h-4.6zM318.2 518.8h4.6v3.51h-4.6zM259.1 518.8h4.6v3.51h-4.6zM458.6 522.4h4.6v3.51h-4.6zM153.2 522.4h4.6v3.51h-4.6zM401.4 522.4h4.6v3.51h-4.6zM414.7 522.4h4.6v3.51h-4.6zM325.9 522.4h4.6v3.51h-4.6zM270.7 522.4h4.6v3.51h-4.6zM471.2 525.9h4.6v3.51h-4.6zM540.7 525.9h4.6v3.51h-4.6zM503.7 525.9h4.6v3.51h-4.6zM181.0 525.9h4.6v3.51h-4.6zM446.1 525.9h4.6v3.51h-4.6zM246.6 525.9h4.6v3.51h-4.6zM306.0 525.9h4.6v3.51h-4.6zM301.7 525.9h4.6v3.51h-4.6zM398.2 525.9h4.6v3.51h-4.6zM395.6 525.9h4.6v3.51h-4.6zM250.4 525.9h4.6v3.51h-4.6zM538.0 529.4h4.6v3.51h-4.6zM345.0 529.4h4.6v3.51h-4.6zM356.8 529.4h4.6v3.51h-4.6zM222.8 529.4h4.6v3.51h-4.6zM473.1 529.4h4.6v3.51h-4.6zM325.7 529.4h4.6v3.51h-4.6zM177.4 529.4h4.6v3.51h-4.6zM560.2 529.4h4.6v3.51h-4.6zM233.2 529.4h4.6v3.51h-4.6zM172.0 529.4h4.6v3.51h-4.6zM451.9 529.4h4.6v3.51h-4.6zM442.8 532.9h4.6v3.51h-4.6zM127.9 532.9h4.6v3.51h-4.6zM500.4 532.9h4.6v3.51h-4.6zM447.1 532.9h4.6v3.51h-4.6zM528.0 532.9h4.6v3.51h-4.6zM293.4 532.9h4.6v3.51h-4.6zM159.0 536.4h4.6v3.51h-4.6zM286.7 536.4h4.6v3.51h-4.6zM453.7 536.4h4.6v3.51h-4.6zM266.3 536.4h4.6v3.51h-4.6zM382.7 539.9h4.6v3.51h-4.6zM125.7 539.9h4.6v3.51h-4.6zM224.6 539.9h4.6v3.51h-4.6zM418.2 539.9h4.6v3.51h-4.6zM248.3 539.9h4.6v3.51h-4.6zM214.9 539.9h4.6v3.51h-4.6zM165.5 543.4h4.6v3.51h-4.6zM277.1 543.4h4.6v3.51h-4.6zM257.3 543.4h4.6v3.51h-4.6zM392.0 543.4h4.6v3.51h-4.6zM261.8 543.4h4.6v3.51h-4.6zM409.4 543.4h4.6v3.51h-4.6zM321.3 543.4h4.6v3.51h-4.6zM209.7 543.4h4.6v3.51h-4.6zM535.7 543.4h4.6v3.51h-4.6zM527.2 546.9h4.6v3.51h-4.6zM279.4 546.9h4.6v3.51h-4.6zM400.7 546.9h4.6v3.51h-4.6zM224.8 546.9h4.6v3.51h-4.6zM520.6 546.9h4.6v3.51h-4.6zM270.1 550.5h4.6v3.51h-4.6zM286.5 550.5h4.6v3.51h-4.6zM395.9 550.5h4.6v3.51h-4.6zM534.1 550.5h4.6v3.51h-4.6zM438.2 550.5h4.6v3.51h-4.6zM225.6 550.5h4.6v3.51h-4.6zM398.7 550.5h4.6v3.51h-4.6zM458.1 550.5h4.6v3.51h-4.6zM443.9 550.5h4.6v3.51h-4.6zM319.9 550.5h4.6v3.51h-4.6zM563.5 550.5h4.6v3.51h-4.6zM312.5 554.0h4.6v3.51h-4.6zM543.3 554.0h4.6v3.51h-4.6zM271.3 554.0h4.6v3.51h-4.6zM406.3 554.0h4.6v3.51h-4.6zM440.3 554.0h4.6v3.51h-4.6zM415.1 554.0h4.6v3.51h-4.6zM145.0 554.0h4.6v3.51h-4.6zM264.7 554.0h4.6v3.51h-4.6zM142.0 554.0h4.6v3.51h-4.6zM535.6 554.0h4.6v3.51h-4.6zM255.8 554.0h4.6v3.51h-4.6zM230.4 554.0h4.6v3.51h-4.6zM334.9 554.0h4.6v3.51h-4.6zM238.2 554.0h4.6v3.51h-4.6zM123.3 554.0h4.6v3.51h-4.6zM355.8 557.5h4.6v3.51h-4.6zM187.2 557.5h4.6v3.51h-4.6zM169.9 557.5h4.6v3.51h-4.6zM463.3 557.5h4.6v3.51h-4.6zM511.1 557.5h4.6v3.51h-4.6zM543.4 557.5h4.6v3.51h-4.6zM520.7 557.5h4.6v3.51h-4.6zM124.6 557.5h4.6v3.51h-4.6zM562.2 557.5h4.6v3.51h-4.6zM561.6 561.0h4.6v3.51h-4.6zM258.5 561.0h4.6v3.51h-4.6zM312.7 561.0h4.6v3.51h-4.6zM324.5 561.0h4.6v3.51h-4.6zM544.0 561.0h4.6v3.51h-4.6zM259.8 561.0h4.6v3.51h-4.6zM231.7 561.0h4.6v3.51h-4.6z" fill="#fc4e2a"/>
<line x1="120.50" y1="417.00" x2="120.50" y2="564.50" stroke="#c8c8c8" stroke-width="2"/>
<line x1="572.50" y1="417.00" x2="572.50" y2="564.50" stroke="#c8c8c8" stroke-width="2"/>
<line x1="272" y1="417" x2="272" y2="564.5" stroke="#a0a0a0" stroke-width="1.8" stroke-dasharray="6.5 5"/>
<rect x="325.84" y="572.50" width="53.64" height="147.50" fill="#e5e5e5"/>
<path d="M136.3 572.5h4.6v4.10h-4.6zM303.2 572.5h4.6v4.10h-4.6zM422.7 572.5h4.6v4.10h-4.6zM226.9 572.5h4.6v4.10h-4.6zM501.7 572.5h4.6v4.10h-4.6zM153.7 572.5h4.6v4.10h-4.6zM518.5 572.5h4.6v4.10h-4.6zM252.6 572.5h4.6v4.10h-4.6zM143.6 572.5h4.6v4.10h-4.6zM151.5 576.6h4.6v4.10h-4.6zM203.7 576.6h4.6v4.10h-4.6zM520.9 576.6h4.6v4.10h-4.6zM182.7 576.6h4.6v4.10h-4.6zM507.5 576.6h4.6v4.10h-4.6zM516.6 576.6h4.6v4.10h-4.6zM558.5 576.6h4.6v4.10h-4.6zM277.6 580.7h4.6v4.10h-4.6zM199.2 580.7h4.6v4.10h-4.6zM241.8 580.7h4.6v4.10h-4.6zM543.8 580.7h4.6v4.10h-4.6zM457.0 580.7h4.6v4.10h-4.6zM136.9 580.7h4.6v4.10h-4.6zM165.4 580.7h4.6v4.10h-4.6zM451.5 580.7h4.6v4.10h-4.6zM396.2 580.7h4.6v4.10h-4.6zM545.9 584.8h4.6v4.10h-4.6zM278.0 584.8h4.6v4.10h-4.6zM247.0 584.8h4.6v4.10h-4.6zM515.8 584.8h4.6v4.10h-4.6zM143.8 584.8h4.6v4.10h-4.6zM536.4 588.9h4.6v4.10h-4.6zM384.9 588.9h4.6v4.10h-4.6zM439.3 588.9h4.6v4.10h-4.6zM308.3 588.9h4.6v4.10h-4.6zM132.6 588.9h4.6v4.10h-4.6zM269.2 588.9h4.6v4.10h-4.6zM134.8 588.9h4.6v4.10h-4.6zM421.5 588.9h4.6v4.10h-4.6zM438.4 593.0h4.6v4.10h-4.6zM492.7 593.0h4.6v4.10h-4.6zM397.7 593.0h4.6v4.10h-4.6zM266.3 593.0h4.6v4.10h-4.6zM269.9 593.0h4.6v4.10h-4.6zM415.2 593.0h4.6v4.10h-4.6zM239.6 593.0h4.6v4.10h-4.6zM171.7 593.0h4.6v4.10h-4.6zM389.0 593.0h4.6v4.10h-4.6zM398.9 593.0h4.6v4.10h-4.6zM561.4 593.0h4.6v4.10h-4.6zM379.0 597.1h4.6v4.10h-4.6zM181.3 597.1h4.6v4.10h-4.6zM278.4 597.1h4.6v4.10h-4.6zM485.3 597.1h4.6v4.10h-4.6zM462.4 597.1h4.6v4.10h-4.6zM181.7 597.1h4.6v4.10h-4.6zM218.9 597.1h4.6v4.10h-4.6zM432.4 597.1h4.6v4.10h-4.6zM124.2 597.1h4.6v4.10h-4.6zM474.1 597.1h4.6v4.10h-4.6zM412.2 601.2h4.6v4.10h-4.6zM304.3 601.2h4.6v4.10h-4.6zM426.2 601.2h4.6v4.10h-4.6zM139.8 601.2h4.6v4.10h-4.6zM414.5 601.2h4.6v4.10h-4.6zM485.7 601.2h4.6v4.10h-4.6zM424.8 601.2h4.6v4.10h-4.6zM518.1 601.2h4.6v4.10h-4.6zM513.5 601.2h4.6v4.10h-4.6zM481.7 601.2h4.6v4.10h-4.6zM538.5 601.2h4.6v4.10h-4.6zM500.3 605.3h4.6v4.10h-4.6zM207.8 605.3h4.6v4.10h-4.6zM276.7 605.3h4.6v4.10h-4.6zM208.4 605.3h4.6v4.10h-4.6zM515.2 605.3h4.6v4.10h-4.6zM241.2 605.3h4.6v4.10h-4.6zM525.1 605.3h4.6v4.10h-4.6zM123.8 609.4h4.6v4.10h-4.6zM237.5 609.4h4.6v4.10h-4.6zM155.8 609.4h4.6v4.10h-4.6zM423.2 609.4h4.6v4.10h-4.6zM381.5 609.4h4.6v4.10h-4.6zM473.6 609.4h4.6v4.10h-4.6zM406.5 609.4h4.6v4.10h-4.6zM520.2 613.5h4.6v4.10h-4.6zM503.3 613.5h4.6v4.10h-4.6zM290.2 613.5h4.6v4.10h-4.6zM462.7 613.5h4.6v4.10h-4.6zM561.1 613.5h4.6v4.10h-4.6zM221.5 617.6h4.6v4.10h-4.6zM186.8 617.6h4.6v4.10h-4.6zM239.5 617.6h4.6v4.10h-4.6zM170.4 617.6h4.6v4.10h-4.6zM558.7 617.6h4.6v4.10h-4.6zM494.4 617.6h4.6v4.10h-4.6zM432.0 617.6h4.6v4.10h-4.6zM314.8 617.6h4.6v4.10h-4.6zM186.4 621.7h4.6v4.10h-4.6zM318.0 621.7h4.6v4.10h-4.6zM466.1 621.7h4.6v4.10h-4.6zM503.3 621.7h4.6v4.10h-4.6zM536.0 621.7h4.6v4.10h-4.6zM535.7 621.7h4.6v4.10h-4.6zM242.5 625.8h4.6v4.10h-4.6zM287.6 625.8h4.6v4.10h-4.6zM125.5 625.8h4.6v4.10h-4.6zM519.5 625.8h4.6v4.10h-4.6zM429.0 625.8h4.6v4.10h-4.6zM390.9 625.8h4.6v4.10h-4.6zM474.0 625.8h4.6v4.10h-4.6zM259.8 625.8h4.6v4.10h-4.6zM567.1 625.8h4.6v4.10h-4.6zM237.2 629.9h4.6v4.10h-4.6zM234.2 629.9h4.6v4.10h-4.6zM187.0 629.9h4.6v4.10h-4.6zM209.0 629.9h4.6v4.10h-4.6zM398.4 629.9h4.6v4.10h-4.6zM216.7 634.0h4.6v4.10h-4.6zM473.7 634.0h4.6v4.10h-4.6zM234.1 634.0h4.6v4.10h-4.6zM533.9 634.0h4.6v4.10h-4.6zM246.7 634.0h4.6v4.10h-4.6zM297.2 634.0h4.6v4.10h-4.6zM414.7 634.0h4.6v4.10h-4.6zM522.3 634.0h4.6v4.10h-4.6zM294.0 634.0h4.6v4.10h-4.6zM210.8 634.0h4.6v4.10h-4.6zM494.5 634.0h4.6v4.10h-4.6zM269.3 634.0h4.6v4.10h-4.6zM403.1 634.0h4.6v4.10h-4.6zM532.8 638.1h4.6v4.10h-4.6zM425.6 638.1h4.6v4.10h-4.6zM229.3 638.1h4.6v4.10h-4.6zM548.3 638.1h4.6v4.10h-4.6zM186.5 638.1h4.6v4.10h-4.6zM288.0 638.1h4.6v4.10h-4.6zM467.9 638.1h4.6v4.10h-4.6zM215.4 638.1h4.6v4.10h-4.6zM388.2 638.1h4.6v4.10h-4.6zM417.7 638.1h4.6v4.10h-4.6zM434.5 642.2h4.6v4.10h-4.6zM470.6 642.2h4.6v4.10h-4.6zM534.5 642.2h4.6v4.10h-4.6zM156.3 642.2h4.6v4.10h-4.6zM546.1 642.2h4.6v4.10h-4.6zM538.5 642.2h4.6v4.10h-4.6zM170.0 642.2h4.6v4.10h-4.6zM479.1 646.2h4.6v4.10h-4.6zM421.0 646.2h4.6v4.10h-4.6zM540.7 646.2h4.6v4.10h-4.6zM400.8 646.2h4.6v4.10h-4.6zM504.9 646.2h4.6v4.10h-4.6zM517.6 646.2h4.6v4.10h-4.6zM477.0 646.2h4.6v4.10h-4.6zM204.2 646.2h4.6v4.10h-4.6zM379.5 646.2h4.6v4.10h-4.6zM519.9 646.2h4.6v4.10h-4.6zM421.2 650.3h4.6v4.10h-4.6zM470.1 650.3h4.6v4.10h-4.6zM489.1 650.3h4.6v4.10h-4.6zM199.5 650.3h4.6v4.10h-4.6zM179.0 650.3h4.6v4.10h-4.6zM565.3 650.3h4.6v4.10h-4.6zM229.8 650.3h4.6v4.10h-4.6zM501.2 650.3h4.6v4.10h-4.6zM258.9 650.3h4.6v4.10h-4.6zM181.9 650.3h4.6v4.10h-4.6zM299.7 650.3h4.6v4.10h-4.6zM187.3 650.3h4.6v4.10h-4.6zM190.6 654.4h4.6v4.10h-4.6zM548.8 654.4h4.6v4.10h-4.6zM248.5 654.4h4.6v4.10h-4.6zM199.5 654.4h4.6v4.10h-4.6zM131.1 654.4h4.6v4.10h-4.6zM445.8 654.4h4.6v4.10h-4.6zM410.0 654.4h4.6v4.10h-4.6zM283.2 654.4h4.6v4.10h-4.6zM141.3 654.4h4.6v4.10h-4.6zM448.5 654.4h4.6v4.10h-4.6zM213.3 654.4h4.6v4.10h-4.6zM457.0 654.4h4.6v4.10h-4.6zM488.4 654.4h4.6v4.10h-4.6zM542.1 658.5h4.6v4.10h-4.6zM565.8 658.5h4.6v4.10h-4.6zM211.2 658.5h4.6v4.10h-4.6zM199.1 658.5h4.6v4.10h-4.6zM547.6 658.5h4.6v4.10h-4.6zM223.4 658.5h4.6v4.10h-4.6zM384.8 658.5h4.6v4.10h-4.6zM565.0 658.5h4.6v4.10h-4.6zM394.1 658.5h4.6v4.10h-4.6zM564.4 662.6h4.6v4.10h-4.6zM403.2 662.6h4.6v4.10h-4.6zM517.0 662.6h4.6v4.10h-4.6zM445.3 662.6h4.6v4.10h-4.6zM210.9 662.6h4.6v4.10h-4.6zM241.6 662.6h4.6v4.10h-4.6zM409.8 666.7h4.6v4.10h-4.6zM280.8 666.7h4.6v4.10h-4.6zM195.6 666.7h4.6v4.10h-4.6zM470.3 666.7h4.6v4.10h-4.6zM124.1 666.7h4.6v4.10h-4.6zM303.7 666.7h4.6v4.10h-4.6zM486.6 670.8h4.6v4.10h-4.6zM245.1 670.8h4.6v4.10h-4.6zM148.3 670.8h4.6v4.10h-4.6zM547.7 670.8h4.6v4.10h-4.6zM253.4 670.8h4.6v4.10h-4.6zM174.9 670.8h4.6v4.10h-4.6zM276.5 670.8h4.6v4.10h-4.6zM251.8 670.8h4.6v4.10h-4.6zM316.4 670.8h4.6v4.10h-4.6zM201.0 670.8h4.6v4.10h-4.6zM178.5 670.8h4.6v4.10h-4.6zM364.2 674.9h4.6v4.10h-4.6zM255.8 674.9h4.6v4.10h-4.6zM498.2 674.9h4.6v4.10h-4.6zM263.1 674.9h4.6v4.10h-4.6zM232.8 674.9h4.6v4.10h-4.6zM539.6 674.9h4.6v4.10h-4.6zM210.9 674.9h4.6v4.10h-4.6zM217.4 679.0h4.6v4.10h-4.6zM338.5 679.0h4.6v4.10h-4.6zM381.0 679.0h4.6v4.10h-4.6zM426.3 679.0h4.6v4.10h-4.6zM436.4 679.0h4.6v4.10h-4.6zM406.7 679.0h4.6v4.10h-4.6zM130.0 679.0h4.6v4.10h-4.6zM483.5 679.0h4.6v4.10h-4.6zM481.1 679.0h4.6v4.10h-4.6zM210.1 679.0h4.6v4.10h-4.6zM227.8 683.1h4.6v4.10h-4.6zM435.4 683.1h4.6v4.10h-4.6zM380.7 683.1h4.6v4.10h-4.6zM477.4 683.1h4.6v4.10h-4.6zM505.4 683.1h4.6v4.10h-4.6zM141.7 683.1h4.6v4.10h-4.6zM220.5 687.2h4.6v4.10h-4.6zM210.9 687.2h4.6v4.10h-4.6zM497.1 687.2h4.6v4.10h-4.6zM383.0 687.2h4.6v4.10h-4.6zM228.7 687.2h4.6v4.10h-4.6zM532.0 687.2h4.6v4.10h-4.6zM137.9 687.2h4.6v4.10h-4.6zM158.7 687.2h4.6v4.10h-4.6zM275.0 687.2h4.6v4.10h-4.6zM412.3 691.3h4.6v4.10h-4.6zM493.4 691.3h4.6v4.10h-4.6zM444.3 691.3h4.6v4.10h-4.6zM207.0 691.3h4.6v4.10h-4.6zM253.1 691.3h4.6v4.10h-4.6zM234.6 691.3h4.6v4.10h-4.6zM410.2 691.3h4.6v4.10h-4.6zM385.0 691.3h4.6v4.10h-4.6zM515.9 691.3h4.6v4.10h-4.6zM448.4 695.4h4.6v4.10h-4.6zM487.5 695.4h4.6v4.10h-4.6zM134.7 695.4h4.6v4.10h-4.6zM240.4 695.4h4.6v4.10h-4.6zM136.0 695.4h4.6v4.10h-4.6zM520.7 699.5h4.6v4.10h-4.6zM376.4 699.5h4.6v4.10h-4.6zM299.5 699.5h4.6v4.10h-4.6zM295.1 699.5h4.6v4.10h-4.6zM197.7 699.5h4.6v4.10h-4.6zM308.3 699.5h4.6v4.10h-4.6zM466.6 699.5h4.6v4.10h-4.6zM304.0 703.6h4.6v4.10h-4.6zM251.2 703.6h4.6v4.10h-4.6zM529.5 703.6h4.6v4.10h-4.6zM553.2 703.6h4.6v4.10h-4.6zM153.8 703.6h4.6v4.10h-4.6zM285.9 703.6h4.6v4.10h-4.6zM257.1 707.7h4.6v4.10h-4.6zM215.8 707.7h4.6v4.10h-4.6zM154.8 707.7h4.6v4.10h-4.6zM181.9 707.7h4.6v4.10h-4.6zM524.7 707.7h4.6v4.10h-4.6zM360.1 707.7h4.6v4.10h-4.6zM192.4 711.8h4.6v4.10h-4.6zM211.2 711.8h4.6v4.10h-4.6zM229.7 711.8h4.6v4.10h-4.6zM207.9 711.8h4.6v4.10h-4.6zM154.2 711.8h4.6v4.10h-4.6zM176.9 711.8h4.6v4.10h-4.6zM261.0 711.8h4.6v4.10h-4.6zM454.7 711.8h4.6v4.10h-4.6zM538.9 715.9h4.6v4.10h-4.6zM201.5 715.9h4.6v4.10h-4.6zM398.6 715.9h4.6v4.10h-4.6zM498.7 715.9h4.6v4.10h-4.6zM399.6 715.9h4.6v4.10h-4.6zM263.5 715.9h4.6v4.10h-4.6zM433.5 715.9h4.6v4.10h-4.6zM212.1 715.9h4.6v4.10h-4.6zM195.2 715.9h4.6v4.10h-4.6zM529.2 715.9h4.6v4.10h-4.6z" fill="#fd8d3c"/>
<line x1="120.50" y1="572.50" x2="120.50" y2="720.00" stroke="#c8c8c8" stroke-width="2"/>
<line x1="572.50" y1="572.50" x2="572.50" y2="720.00" stroke="#c8c8c8" stroke-width="2"/>
<line x1="272" y1="572.5" x2="272" y2="720" stroke="#a0a0a0" stroke-width="1.8" stroke-dasharray="6.5 5"/>
<rect x="580.00" y="260.00" width="27.00" height="14.29" fill="#050000"/>
<rect x="580.00" y="273.69" width="27.00" height="20.98" fill="#1e0000"/>
<rect x="580.00" y="294.06" width="27.00" height="13.69" fill="#2c0000"/>
<rect x="580.00" y="307.15" width="27.00" height="14.14" fill="#380000"/>
<rect x="580.00" y="320.69" width="27.00" height="11.61" fill="#440000"/>
<rect x="580.00" y="331.70" width="27.00" height="5.96" fill="#500000"/>
<rect x="580.00" y="337.05" width="27.00" height="8.78" fill="#5a0000"/>
<rect x="580.00" y="345.23" width="27.00" height="19.79" fill="#6e0000"/>
<rect x="580.00" y="364.42" width="27.00" height="14.29" fill="#880000"/>
<rect x="580.00" y="378.11" width="27.00" height="11.46" fill="#a00000"/>
<rect x="580.00" y="388.97" width="27.00" height="15.62" fill="#c80000"/>
<rect x="580.00" y="403.99" width="27.00" height="5.36" fill="#ff0000"/>
<rect x="580.00" y="415.80" width="27.00" height="11.16" fill="#2a0000"/>
<rect x="580.00" y="426.36" width="27.00" height="16.45" fill="#3a0000"/>
<rect x="580.00" y="442.21" width="27.00" height="13.80" fill="#500000"/>
<rect x="580.00" y="455.41" width="27.00" height="11.16" fill="#600000"/>
<rect x="580.00" y="465.98" width="27.00" height="13.80" fill="#700000"/>
<rect x="580.00" y="479.18" width="27.00" height="8.52" fill="#800000"/>
<rect x="580.00" y="487.10" width="27.00" height="11.16" fill="#950000"/>
<rect x="580.00" y="497.67" width="27.00" height="19.09" fill="#b00000"/>
<rect x="580.00" y="516.15" width="27.00" height="7.20" fill="#cc0000"/>
<rect x="580.00" y="522.75" width="27.00" height="15.12" fill="#ee0000"/>
<rect x="580.00" y="537.28" width="27.00" height="4.56" fill="#ff5000"/>
<rect x="580.00" y="541.24" width="27.00" height="11.16" fill="#ff7000"/>
<rect x="580.00" y="551.80" width="27.00" height="7.20" fill="#ffa000"/>
<rect x="580.00" y="558.41" width="27.00" height="7.99" fill="#ffb000"/>
<rect x="580.00" y="573.00" width="27.00" height="8.51" fill="#200000"/>
<rect x="580.00" y="580.91" width="27.00" height="4.56" fill="#700000"/>
<rect x="580.00" y="584.87" width="27.00" height="5.87" fill="#c00000"/>
<rect x="580.00" y="590.14" width="27.00" height="8.51" fill="#ff3000"/>
<rect x="580.00" y="598.05" width="27.00" height="8.51" fill="#ff6a00"/>
<rect x="580.00" y="605.96" width="27.00" height="8.51" fill="#ffa000"/>
<rect x="580.00" y="613.88" width="27.00" height="16.42" fill="#ffc000"/>
<rect x="580.00" y="629.70" width="27.00" height="13.79" fill="#ffe000"/>
<rect x="580.00" y="642.88" width="27.00" height="24.33" fill="#ffff20"/>
<rect x="580.00" y="666.62" width="27.00" height="8.51" fill="#ffff50"/>
<rect x="580.00" y="674.53" width="27.00" height="16.42" fill="#ffffa0"/>
<rect x="580.00" y="690.35" width="27.00" height="16.42" fill="#ffffd0"/>
<rect x="580.00" y="706.18" width="27.00" height="16.42" fill="#fffff0"/>
<rect x="615.00" y="309.20" width="30.00" height="80.30" fill="url(#hot)"/>
<text x="609.5" y="290" font-size="37.3" fill="#262626">Bid</text>
<text x="646" y="322.5" font-size="36" fill="#262626">1</text>
<text x="647" y="403.5" font-size="35" fill="#262626">0</text>
<text x="32.5" y="289.6" font-size="37.3" fill="#262626">Rew.</text>
<path d="M72.50 300.00 C74.16 307.20 80.09 312.00 83.82 317.64 C86.58 321.37 86.30 324.13 86.30 326.20 A13.80 13.80 0 0 1 58.70 326.20 C58.70 324.13 58.42 321.37 61.18 317.64 C64.91 312.00 70.84 307.20 72.50 300.00Z" fill="#7030a0"/>
<path d="M63.24 321.88 A10.21 10.21 0 0 0 69.34 335.91 A51.06 51.06 0 0 1 63.24 321.88 Z" fill="#fff"/>
<rect x="44.50" y="343.75" width="56.25" height="56.25" rx="2.2" fill="#b10026"/>
<g transform="translate(49.50,348.75) scale(0.4625)" clip-path="url(#clip1)"><rect x="0" y="0" width="100" height="100" fill="url(#g2)"/><line x1="-1.00" y1="51.00" x2="31.80" y2="51.00" stroke="#ffe000" stroke-width="1.30"/><line x1="-1.00" y1="51.00" x2="31.80" y2="51.00" stroke="#ff3000" stroke-width="0.80"/><line x1="-1.00" y1="51.00" x2="31.80" y2="51.00" stroke="#700000" stroke-width="0.35"/><path d="M91.25 51.00 L91.28 51.00 L91.36 50.99 L91.50 50.96 L91.69 50.91 L91.92 50.82 L92.20 50.69 L92.52 50.51 L92.87 50.28 L93.24 49.99 L93.63 49.63 L94.02 49.20 L94.42 48.70 L94.80 48.12 L95.16 47.48 L95.50 46.75 L95.79 45.96 L96.03 45.09 L96.22 44.16 L96.33 43.17 L96.38 42.12 L96.33 41.03 L96.20 39.89 L95.96 38.72 L95.63 37.53 L95.18 36.32 L94.63 35.12 L93.96 33.92 L93.17 32.74 L92.27 31.60 L91.25 30.50 L90.12 29.46 L88.88 28.48 L87.54 27.58 L86.10 26.78 L84.57 26.07 L82.96 25.48 L81.27 25.00 L79.52 24.66 L77.72 24.44 L75.88 24.37 L74.00 24.44 L72.12 24.67 L70.23 25.04 L68.35 25.57 L66.50 26.25 L64.69 27.09 L62.94 28.07 L61.25 29.20 L59.64 30.47 L58.12 31.87 L56.71 33.40 L55.41 35.04 L54.24 36.79 L53.21 38.64 L52.32 40.57 L51.58 42.57 L51.00 44.63 L50.59 46.73 L50.33 48.86 L50.25 51.00 L50.33 53.14 L50.59 55.27 L51.00 57.37 L51.58 59.43 L52.32 61.43 L53.21 63.36 L54.24 65.21 L55.41 66.96 L56.71 68.60 L58.12 70.13 L59.64 71.53 L61.25 72.80 L62.94 73.93 L64.69 74.91 L66.50 75.75 L68.35 76.43 L70.23 76.96 L72.12 77.33 L74.00 77.56 L75.87 77.63 L77.72 77.56 L79.52 77.34 L81.27 77.00 L82.96 76.52 L84.57 75.93 L86.10 75.22 L87.54 74.42 L88.88 73.52 L90.12 72.54 L91.25 71.50 L92.27 70.40 L93.17 69.26 L93.96 68.08 L94.63 66.88 L95.18 65.68 L95.63 64.47 L95.96 63.28 L96.20 62.11 L96.33 60.97 L96.38 59.88 L96.33 58.83 L96.22 57.84 L96.03 56.91 L95.79 56.04 L95.50 55.25 L95.16 54.52 L94.80 53.88 L94.42 53.30 L94.02 52.80 L93.63 52.37 L93.24 52.01 L92.87 51.72 L92.52 51.49 L92.20 51.31 L91.92 51.18 L91.69 51.09 L91.50 51.04 L91.36 51.01 L91.28 51.00 L91.25 51.00Z" fill="#ffe000" stroke="#ffe000" stroke-width="5.20" stroke-linejoin="round"/><circle cx="40.00" cy="51.00" r="10.25" fill="#ffe000" stroke="#ffe000" stroke-width="5.20"/><circle cx="75.97" cy="20.46" r="3.90" fill="#ffe000" stroke="#ffe000" stroke-width="5.20"/><circle cx="75.97" cy="81.54" r="3.90" fill="#ffe000" stroke="#ffe000" stroke-width="5.20"/><circle cx="27.26" cy="51.00" r="2.38" fill="#ffe000" stroke="#ffe000" stroke-width="5.20"/><circle cx="92.57" cy="29.27" r="1.80" fill="#ffe000" stroke="#ffe000" stroke-width="5.20"/><circle cx="92.57" cy="72.73" r="1.80" fill="#ffe000" stroke="#ffe000" stroke-width="5.20"/><circle cx="60.32" cy="27.93" r="1.52" fill="#ffe000" stroke="#ffe000" stroke-width="5.20"/><circle cx="60.32" cy="74.07" r="1.52" fill="#ffe000" stroke="#ffe000" stroke-width="5.20"/><circle cx="96.56" cy="37.27" r="1.23" fill="#ffe000" stroke="#ffe000" stroke-width="5.20"/><circle cx="96.56" cy="64.73" r="1.23" fill="#ffe000" stroke="#ffe000" stroke-width="5.20"/><path d="M91.25 51.00 L91.28 51.00 L91.36 50.99 L91.50 50.96 L91.69 50.91 L91.92 50.82 L92.20 50.69 L92.52 50.51 L92.87 50.28 L93.24 49.99 L93.63 49.63 L94.02 49.20 L94.42 48.70 L94.80 48.12 L95.16 47.48 L95.50 46.75 L95.79 45.96 L96.03 45.09 L96.22 44.16 L96.33 43.17 L96.38 42.12 L96.33 41.03 L96.20 39.89 L95.96 38.72 L95.63 37.53 L95.18 36.32 L94.63 35.12 L93.96 33.92 L93.17 32.74 L92.27 31.60 L91.25 30.50 L90.12 29.46 L88.88 28.48 L87.54 27.58 L86.10 26.78 L84.57 26.07 L82.96 25.48 L81.27 25.00 L79.52 24.66 L77.72 24.44 L75.88 24.37 L74.00 24.44 L72.12 24.67 L70.23 25.04 L68.35 25.57 L66.50 26.25 L64.69 27.09 L62.94 28.07 L61.25 29.20 L59.64 30.47 L58.12 31.87 L56.71 33.40 L55.41 35.04 L54.24 36.79 L53.21 38.64 L52.32 40.57 L51.58 42.57 L51.00 44.63 L50.59 46.73 L50.33 48.86 L50.25 51.00 L50.33 53.14 L50.59 55.27 L51.00 57.37 L51.58 59.43 L52.32 61.43 L53.21 63.36 L54.24 65.21 L55.41 66.96 L56.71 68.60 L58.12 70.13 L59.64 71.53 L61.25 72.80 L62.94 73.93 L64.69 74.91 L66.50 75.75 L68.35 76.43 L70.23 76.96 L72.12 77.33 L74.00 77.56 L75.87 77.63 L77.72 77.56 L79.52 77.34 L81.27 77.00 L82.96 76.52 L84.57 75.93 L86.10 75.22 L87.54 74.42 L88.88 73.52 L90.12 72.54 L91.25 71.50 L92.27 70.40 L93.17 69.26 L93.96 68.08 L94.63 66.88 L95.18 65.68 L95.63 64.47 L95.96 63.28 L96.20 62.11 L96.33 60.97 L96.38 59.88 L96.33 58.83 L96.22 57.84 L96.03 56.91 L95.79 56.04 L95.50 55.25 L95.16 54.52 L94.80 53.88 L94.42 53.30 L94.02 52.80 L93.63 52.37 L93.24 52.01 L92.87 51.72 L92.52 51.49 L92.20 51.31 L91.92 51.18 L91.69 51.09 L91.50 51.04 L91.36 51.01 L91.28 51.00 L91.25 51.00Z" fill="#ff3000" stroke="#ff3000" stroke-width="3.20" stroke-linejoin="round"/><circle cx="40.00" cy="51.00" r="10.25" fill="#ff3000" stroke="#ff3000" stroke-width="3.20"/><circle cx="75.97" cy="20.46" r="3.90" fill="#ff3000" stroke="#ff3000" stroke-width="3.20"/><circle cx="75.97" cy="81.54" r="3.90" fill="#ff3000" stroke="#ff3000" stroke-width="3.20"/><circle cx="27.26" cy="51.00" r="2.38" fill="#ff3000" stroke="#ff3000" stroke-width="3.20"/><circle cx="92.57" cy="29.27" r="1.80" fill="#ff3000" stroke="#ff3000" stroke-width="3.20"/><circle cx="92.57" cy="72.73" r="1.80" fill="#ff3000" stroke="#ff3000" stroke-width="3.20"/><circle cx="60.32" cy="27.93" r="1.52" fill="#ff3000" stroke="#ff3000" stroke-width="3.20"/><circle cx="60.32" cy="74.07" r="1.52" fill="#ff3000" stroke="#ff3000" stroke-width="3.20"/><circle cx="96.56" cy="37.27" r="1.23" fill="#ff3000" stroke="#ff3000" stroke-width="3.20"/><circle cx="96.56" cy="64.73" r="1.23" fill="#ff3000" stroke="#ff3000" stroke-width="3.20"/><path d="M91.25 51.00 L91.28 51.00 L91.36 50.99 L91.50 50.96 L91.69 50.91 L91.92 50.82 L92.20 50.69 L92.52 50.51 L92.87 50.28 L93.24 49.99 L93.63 49.63 L94.02 49.20 L94.42 48.70 L94.80 48.12 L95.16 47.48 L95.50 46.75 L95.79 45.96 L96.03 45.09 L96.22 44.16 L96.33 43.17 L96.38 42.12 L96.33 41.03 L96.20 39.89 L95.96 38.72 L95.63 37.53 L95.18 36.32 L94.63 35.12 L93.96 33.92 L93.17 32.74 L92.27 31.60 L91.25 30.50 L90.12 29.46 L88.88 28.48 L87.54 27.58 L86.10 26.78 L84.57 26.07 L82.96 25.48 L81.27 25.00 L79.52 24.66 L77.72 24.44 L75.88 24.37 L74.00 24.44 L72.12 24.67 L70.23 25.04 L68.35 25.57 L66.50 26.25 L64.69 27.09 L62.94 28.07 L61.25 29.20 L59.64 30.47 L58.12 31.87 L56.71 33.40 L55.41 35.04 L54.24 36.79 L53.21 38.64 L52.32 40.57 L51.58 42.57 L51.00 44.63 L50.59 46.73 L50.33 48.86 L50.25 51.00 L50.33 53.14 L50.59 55.27 L51.00 57.37 L51.58 59.43 L52.32 61.43 L53.21 63.36 L54.24 65.21 L55.41 66.96 L56.71 68.60 L58.12 70.13 L59.64 71.53 L61.25 72.80 L62.94 73.93 L64.69 74.91 L66.50 75.75 L68.35 76.43 L70.23 76.96 L72.12 77.33 L74.00 77.56 L75.87 77.63 L77.72 77.56 L79.52 77.34 L81.27 77.00 L82.96 76.52 L84.57 75.93 L86.10 75.22 L87.54 74.42 L88.88 73.52 L90.12 72.54 L91.25 71.50 L92.27 70.40 L93.17 69.26 L93.96 68.08 L94.63 66.88 L95.18 65.68 L95.63 64.47 L95.96 63.28 L96.20 62.11 L96.33 60.97 L96.38 59.88 L96.33 58.83 L96.22 57.84 L96.03 56.91 L95.79 56.04 L95.50 55.25 L95.16 54.52 L94.80 53.88 L94.42 53.30 L94.02 52.80 L93.63 52.37 L93.24 52.01 L92.87 51.72 L92.52 51.49 L92.20 51.31 L91.92 51.18 L91.69 51.09 L91.50 51.04 L91.36 51.01 L91.28 51.00 L91.25 51.00Z" fill="#700000" stroke="#700000" stroke-width="1.40" stroke-linejoin="round"/><circle cx="40.00" cy="51.00" r="10.25" fill="#700000" stroke="#700000" stroke-width="1.40"/><circle cx="75.97" cy="20.46" r="3.90" fill="#700000" stroke="#700000" stroke-width="1.40"/><circle cx="75.97" cy="81.54" r="3.90" fill="#700000" stroke="#700000" stroke-width="1.40"/><circle cx="27.26" cy="51.00" r="2.38" fill="#700000" stroke="#700000" stroke-width="1.40"/><circle cx="92.57" cy="29.27" r="1.80" fill="#700000" stroke="#700000" stroke-width="1.40"/><circle cx="92.57" cy="72.73" r="1.80" fill="#700000" stroke="#700000" stroke-width="1.40"/><circle cx="60.32" cy="27.93" r="1.52" fill="#700000" stroke="#700000" stroke-width="1.40"/><circle cx="60.32" cy="74.07" r="1.52" fill="#700000" stroke="#700000" stroke-width="1.40"/><circle cx="96.56" cy="37.27" r="1.23" fill="#700000" stroke="#700000" stroke-width="1.40"/><circle cx="96.56" cy="64.73" r="1.23" fill="#700000" stroke="#700000" stroke-width="1.40"/><path d="M91.25 51.00 L91.28 51.00 L91.36 50.99 L91.50 50.96 L91.69 50.91 L91.92 50.82 L92.20 50.69 L92.52 50.51 L92.87 50.28 L93.24 49.99 L93.63 49.63 L94.02 49.20 L94.42 48.70 L94.80 48.12 L95.16 47.48 L95.50 46.75 L95.79 45.96 L96.03 45.09 L96.22 44.16 L96.33 43.17 L96.38 42.12 L96.33 41.03 L96.20 39.89 L95.96 38.72 L95.63 37.53 L95.18 36.32 L94.63 35.12 L93.96 33.92 L93.17 32.74 L92.27 31.60 L91.25 30.50 L90.12 29.46 L88.88 28.48 L87.54 27.58 L86.10 26.78 L84.57 26.07 L82.96 25.48 L81.27 25.00 L79.52 24.66 L77.72 24.44 L75.88 24.37 L74.00 24.44 L72.12 24.67 L70.23 25.04 L68.35 25.57 L66.50 26.25 L64.69 27.09 L62.94 28.07 L61.25 29.20 L59.64 30.47 L58.12 31.87 L56.71 33.40 L55.41 35.04 L54.24 36.79 L53.21 38.64 L52.32 40.57 L51.58 42.57 L51.00 44.63 L50.59 46.73 L50.33 48.86 L50.25 51.00 L50.33 53.14 L50.59 55.27 L51.00 57.37 L51.58 59.43 L52.32 61.43 L53.21 63.36 L54.24 65.21 L55.41 66.96 L56.71 68.60 L58.12 70.13 L59.64 71.53 L61.25 72.80 L62.94 73.93 L64.69 74.91 L66.50 75.75 L68.35 76.43 L70.23 76.96 L72.12 77.33 L74.00 77.56 L75.87 77.63 L77.72 77.56 L79.52 77.34 L81.27 77.00 L82.96 76.52 L84.57 75.93 L86.10 75.22 L87.54 74.42 L88.88 73.52 L90.12 72.54 L91.25 71.50 L92.27 70.40 L93.17 69.26 L93.96 68.08 L94.63 66.88 L95.18 65.68 L95.63 64.47 L95.96 63.28 L96.20 62.11 L96.33 60.97 L96.38 59.88 L96.33 58.83 L96.22 57.84 L96.03 56.91 L95.79 56.04 L95.50 55.25 L95.16 54.52 L94.80 53.88 L94.42 53.30 L94.02 52.80 L93.63 52.37 L93.24 52.01 L92.87 51.72 L92.52 51.49 L92.20 51.31 L91.92 51.18 L91.69 51.09 L91.50 51.04 L91.36 51.01 L91.28 51.00 L91.25 51.00Z" fill="#000"/><circle cx="40.00" cy="51.00" r="10.25" fill="#000"/><circle cx="75.97" cy="20.46" r="3.90" fill="#000"/><circle cx="75.97" cy="81.54" r="3.90" fill="#000"/><circle cx="27.26" cy="51.00" r="2.38" fill="#000"/><circle cx="92.57" cy="29.27" r="1.80" fill="#000"/><circle cx="92.57" cy="72.73" r="1.80" fill="#000"/><circle cx="60.32" cy="27.93" r="1.52" fill="#000"/><circle cx="60.32" cy="74.07" r="1.52" fill="#000"/><circle cx="96.56" cy="37.27" r="1.23" fill="#000"/><circle cx="96.56" cy="64.73" r="1.23" fill="#000"/></g>
<path d="M72.70 457.50 C73.88 462.63 78.11 466.05 80.76 470.07 C82.73 472.73 82.53 474.69 82.53 476.17 A9.83 9.83 0 0 1 62.87 476.17 C62.87 474.69 62.67 472.73 64.64 470.07 C67.29 466.05 71.52 462.63 72.70 457.50Z" fill="#7030a0"/>
<path d="M66.11 473.09 A7.28 7.28 0 0 0 70.45 483.09 A36.38 36.38 0 0 1 66.11 473.09 Z" fill="#fff"/>
<rect x="44.50" y="495.50" width="56.25" height="56.25" rx="2.2" fill="#fc4e2a"/>
<g transform="translate(49.50,500.50) scale(0.4625)" clip-path="url(#clip3)"><rect x="0" y="0" width="100" height="100" fill="url(#g4)"/><path d="M70 0 L100 0 L100 35 Z" fill="#0a1c70" opacity="0.8"/><line x1="68.0" y1="52.0" x2="123.0" y2="52.0" stroke="#ffffff" stroke-width="0.9" opacity="0.55"/><line x1="67.3" y1="57.2" x2="120.4" y2="71.4" stroke="#ffffff" stroke-width="0.9" opacity="0.55"/><line x1="65.3" y1="62.0" x2="113.0" y2="89.5" stroke="#ffffff" stroke-width="0.9" opacity="0.55"/><line x1="62.1" y1="66.1" x2="101.0" y2="105.0" stroke="#ffffff" stroke-width="0.9" opacity="0.55"/><line x1="58.0" y1="69.3" x2="85.5" y2="117.0" stroke="#ffffff" stroke-width="0.9" opacity="0.55"/><line x1="53.2" y1="71.3" x2="67.4" y2="124.4" stroke="#ffffff" stroke-width="0.9" opacity="0.55"/><line x1="48.0" y1="72.0" x2="48.0" y2="127.0" stroke="#ffffff" stroke-width="0.9" opacity="0.55"/><line x1="42.8" y1="71.3" x2="28.6" y2="124.4" stroke="#ffffff" stroke-width="0.9" opacity="0.55"/><line x1="38.0" y1="69.3" x2="10.5" y2="117.0" stroke="#ffffff" stroke-width="0.9" opacity="0.55"/><line x1="33.9" y1="66.1" x2="-5.0" y2="105.0" stroke="#ffffff" stroke-width="0.9" opacity="0.55"/><line x1="30.7" y1="62.0" x2="-17.0" y2="89.5" stroke="#ffffff" stroke-width="0.9" opacity="0.55"/><line x1="28.7" y1="57.2" x2="-24.4" y2="71.4" stroke="#ffffff" stroke-width="0.9" opacity="0.55"/><line x1="28.0" y1="52.0" x2="-27.0" y2="52.0" stroke="#ffffff" stroke-width="0.9" opacity="0.55"/><line x1="28.7" y1="46.8" x2="-24.4" y2="32.6" stroke="#ffffff" stroke-width="0.9" opacity="0.55"/><line x1="30.7" y1="42.0" x2="-17.0" y2="14.5" stroke="#ffffff" stroke-width="0.9" opacity="0.55"/><line x1="33.9" y1="37.9" x2="-5.0" y2="-1.0" stroke="#ffffff" stroke-width="0.9" opacity="0.55"/><line x1="38.0" y1="34.7" x2="10.5" y2="-13.0" stroke="#ffffff" stroke-width="0.9" opacity="0.55"/><line x1="42.8" y1="32.7" x2="28.6" y2="-20.4" stroke="#ffffff" stroke-width="0.9" opacity="0.55"/><line x1="48.0" y1="32.0" x2="48.0" y2="-23.0" stroke="#ffffff" stroke-width="0.9" opacity="0.55"/><line x1="53.2" y1="32.7" x2="67.4" y2="-20.4" stroke="#ffffff" stroke-width="0.9" opacity="0.55"/><line x1="58.0" y1="34.7" x2="85.5" y2="-13.0" stroke="#ffffff" stroke-width="0.9" opacity="0.55"/><line x1="62.1" y1="37.9" x2="101.0" y2="-1.0" stroke="#ffffff" stroke-width="0.9" opacity="0.55"/><line x1="65.3" y1="42.0" x2="113.0" y2="14.5" stroke="#ffffff" stroke-width="0.9" opacity="0.55"/><line x1="67.3" y1="46.8" x2="120.4" y2="32.6" stroke="#ffffff" stroke-width="0.9" opacity="0.55"/><circle cx="47" cy="52" r="34" fill="#f8e6a8"/><circle cx="47" cy="52" r="34" fill="none" stroke="#d09030" stroke-width="1.5" stroke-dasharray="2 5"/><circle cx="50" cy="52" r="24" fill="#f0c860"/><circle cx="50" cy="52" r="17" fill="#8a3a10"/><circle cx="50" cy="52" r="12" fill="#b05a18"/><circle cx="50" cy="51" r="7" fill="#101a60"/><circle cx="49" cy="50" r="2.8" fill="#ffffff"/><path d="M80 20 Q98 40 92 70" stroke="#ffffff" stroke-width="6" fill="none" opacity="0.6"/></g>
<path d="M72.70 620.00 C73.61 623.96 76.87 626.60 78.92 629.70 C80.44 631.75 80.29 633.27 80.29 634.41 A7.59 7.59 0 0 1 65.11 634.41 C65.11 633.27 64.96 631.75 66.48 629.70 C68.53 626.60 71.79 623.96 72.70 620.00Z" fill="#7030a0"/>
<path d="M67.61 632.04 A5.62 5.62 0 0 0 70.96 639.75 A28.08 28.08 0 0 1 67.61 632.04 Z" fill="#fff"/>
<rect x="44.50" y="651.00" width="56.25" height="56.25" rx="2.2" fill="#fd8d3c"/>
<g transform="translate(49.50,656.00) scale(0.4625)" clip-path="url(#clip5)"><rect x="0" y="0" width="100" height="100" fill="url(#g6)"/><path d="M0 0 L20 0 L14 30 L0 45Z" fill="#5a1020" opacity="0.55"/><rect x="11.0" y="89.8" width="2.4" height="2.4" fill="#ffffff" opacity="0.75"/><rect x="25.5" y="12.7" width="2.4" height="2.4" fill="#ffffff" opacity="0.75"/><rect x="35.8" y="13.8" width="2.4" height="2.4" fill="#ffffff" opacity="0.75"/><rect x="38.1" y="93.5" width="2.4" height="2.4" fill="#ffffff" opacity="0.75"/><rect x="17.6" y="4.9" width="2.4" height="2.4" fill="#ffffff" opacity="0.75"/><rect x="34.5" y="45.4" width="2.4" height="2.4" fill="#ffffff" opacity="0.75"/><rect x="4.5" y="27.0" width="2.4" height="2.4" fill="#ffffff" opacity="0.75"/><rect x="72.4" y="96.9" width="2.4" height="2.4" fill="#ffffff" opacity="0.75"/><rect x="17.9" y="76.2" width="2.4" height="2.4" fill="#ffffff" opacity="0.75"/><rect x="45.0" y="77.1" width="2.4" height="2.4" fill="#ffffff" opacity="0.75"/><rect x="43.9" y="9.9" width="2.4" height="2.4" fill="#ffffff" opacity="0.75"/><rect x="2.9" y="12.8" width="2.4" height="2.4" fill="#ffffff" opacity="0.75"/><rect x="51.8" y="95.2" width="2.4" height="2.4" fill="#ffffff" opacity="0.75"/><rect x="3.2" y="19.9" width="2.4" height="2.4" fill="#ffffff" opacity="0.75"/><rect x="30.8" y="84.8" width="2.4" height="2.4" fill="#ffffff" opacity="0.75"/><rect x="72.5" y="84.7" width="2.4" height="2.4" fill="#ffffff" opacity="0.75"/><rect x="2.3" y="50.5" width="2.4" height="2.4" fill="#ffffff" opacity="0.75"/><rect x="20.7" y="61.0" width="2.4" height="2.4" fill="#ffffff" opacity="0.75"/><rect x="61.2" y="1.7" width="2.4" height="2.4" fill="#ffffff" opacity="0.75"/><rect x="11.8" y="10.0" width="2.4" height="2.4" fill="#ffffff" opacity="0.75"/><rect x="67.3" y="91.9" width="2.4" height="2.4" fill="#ffffff" opacity="0.75"/><rect x="48.6" y="2.9" width="2.4" height="2.4" fill="#ffffff" opacity="0.75"/><rect x="39.5" y="74.5" width="2.4" height="2.4" fill="#ffffff" opacity="0.75"/><rect x="4.0" y="98.9" width="2.4" height="2.4" fill="#ffffff" opacity="0.75"/><rect x="35.9" y="85.3" width="2.4" height="2.4" fill="#ffffff" opacity="0.75"/><rect x="23.0" y="64.2" width="2.4" height="2.4" fill="#ffffff" opacity="0.75"/><rect x="20.6" y="52.9" width="2.4" height="2.4" fill="#ffffff" opacity="0.75"/><rect x="27.7" y="24.0" width="2.4" height="2.4" fill="#ffffff" opacity="0.75"/><rect x="44.3" y="19.8" width="2.4" height="2.4" fill="#ffffff" opacity="0.75"/><rect x="94.4" y="0.2" width="2.4" height="2.4" fill="#ffffff" opacity="0.75"/><rect x="22.3" y="99.5" width="2.4" height="2.4" fill="#ffffff" opacity="0.75"/><rect x="38.6" y="8.2" width="2.4" height="2.4" fill="#ffffff" opacity="0.75"/><rect x="1.1" y="68.9" width="2.4" height="2.4" fill="#ffffff" opacity="0.75"/><rect x="1.3" y="42.3" width="2.4" height="2.4" fill="#ffffff" opacity="0.75"/><rect x="19.9" y="67.1" width="2.4" height="2.4" fill="#ffffff" opacity="0.75"/><rect x="8.0" y="82.4" width="2.4" height="2.4" fill="#ffffff" opacity="0.75"/><rect x="22.4" y="38.0" width="2.4" height="2.4" fill="#ffffff" opacity="0.75"/><rect x="25.6" y="26.5" width="2.4" height="2.4" fill="#ffffff" opacity="0.75"/><rect x="15.7" y="26.5" width="2.4" height="2.4" fill="#ffffff" opacity="0.75"/><rect x="25.2" y="97.1" width="2.4" height="2.4" fill="#ffffff" opacity="0.75"/><rect x="56.9" y="88.8" width="2.4" height="2.4" fill="#ffffff" opacity="0.75"/><rect x="4.6" y="26.4" width="2.4" height="2.4" fill="#ffffff" opacity="0.75"/><circle cx="77" cy="47" r="37" fill="#e8b860" opacity="0.85"/><circle cx="45" cy="68" r="13.5" fill="#e8b860" opacity="0.85"/><circle cx="77" cy="47" r="33.2" fill="#604060"/><circle cx="45" cy="68" r="9.7" fill="#604060"/><circle cx="77" cy="47" r="31" fill="#000"/><circle cx="45" cy="68" r="7.5" fill="#000"/></g>
<line x1="120.00" y1="726.00" x2="570.00" y2="726.00" stroke="#262626" stroke-width="5"/>
<line x1="123.20" y1="724.00" x2="123.20" y2="733.00" stroke="#262626" stroke-width="5"/>
<text x="123.2" y="766.8" font-size="33.5" fill="#262626" text-anchor="middle">-0.5</text>
<line x1="272.20" y1="724.00" x2="272.20" y2="733.00" stroke="#262626" stroke-width="5"/>
<text x="272.2" y="766.8" font-size="33.5" fill="#262626" text-anchor="middle">0</text>
<line x1="421.20" y1="724.00" x2="421.20" y2="733.00" stroke="#262626" stroke-width="5"/>
<text x="419.2" y="766.8" font-size="33.5" fill="#262626" text-anchor="middle">0.5</text>
<line x1="570.20" y1="724.00" x2="570.20" y2="733.00" stroke="#262626" stroke-width="5"/>
<text x="567.7" y="766.8" font-size="33.5" fill="#262626" text-anchor="middle">1</text>
<text x="342.8" y="807.5" font-size="36.6" fill="#262626" text-anchor="middle">Time (s)</text>
<line x1="122.75" y1="893.50" x2="122.75" y2="1155.00" stroke="#262626" stroke-width="5"/>
<line x1="120.50" y1="1152.75" x2="570.50" y2="1152.75" stroke="#262626" stroke-width="5"/>
<line x1="114.00" y1="1144.60" x2="124.00" y2="1144.60" stroke="#262626" stroke-width="5"/>
<text x="108.2" y="1157.1999999999998" font-size="34.6" fill="#262626" text-anchor="end">0</text>
<line x1="114.00" y1="1065.00" x2="124.00" y2="1065.00" stroke="#262626" stroke-width="5"/>
<text x="108.2" y="1077.6" font-size="34.6" fill="#262626" text-anchor="end">2</text>
<line x1="114.00" y1="985.40" x2="124.00" y2="985.40" stroke="#262626" stroke-width="5"/>
<text x="108.2" y="997.9999999999999" font-size="34.6" fill="#262626" text-anchor="end">4</text>
<line x1="114.00" y1="905.80" x2="124.00" y2="905.80" stroke="#262626" stroke-width="5"/>
<text x="108.2" y="918.4" font-size="34.6" fill="#262626" text-anchor="end">6</text>
<line x1="121.85" y1="1151.00" x2="121.85" y2="1161.00" stroke="#262626" stroke-width="5"/>
<text x="121.85" y="1192.5" font-size="37" fill="#262626" text-anchor="middle">0</text>
<line x1="211.25" y1="1151.00" x2="211.25" y2="1161.00" stroke="#262626" stroke-width="5"/>
<text x="211.25" y="1192.5" font-size="37" fill="#262626" text-anchor="middle">0.24</text>
<line x1="300.65" y1="1151.00" x2="300.65" y2="1161.00" stroke="#262626" stroke-width="5"/>
<text x="300.65" y="1192.5" font-size="37" fill="#262626" text-anchor="middle">0.48</text>
<line x1="390.05" y1="1151.00" x2="390.05" y2="1161.00" stroke="#262626" stroke-width="5"/>
<text x="390.04999999999995" y="1192.5" font-size="37" fill="#262626" text-anchor="middle">0.72</text>
<line x1="479.45" y1="1151.00" x2="479.45" y2="1161.00" stroke="#262626" stroke-width="5"/>
<text x="479.44999999999993" y="1192.5" font-size="37" fill="#262626" text-anchor="middle">0.96</text>
<line x1="568.85" y1="1151.00" x2="568.85" y2="1161.00" stroke="#262626" stroke-width="5"/>
<text x="568.85" y="1192.5" font-size="37" fill="#262626" text-anchor="middle">1.2</text>
<text transform="translate(64,1019.3) rotate(-90)" font-size="36.7" fill="#262626" text-anchor="middle">Avg. imps/s</text>
<text x="350.5" y="1239.3" font-size="36.8" fill="#262626" text-anchor="middle">Bid (mL H<tspan font-size="24" dy="9">2</tspan><tspan dy="-9">O)</tspan></text>
<text x="148.6" y="921" font-size="33.3" fill="#000">R<tspan font-size="22" dy="-10.2">2</tspan><tspan dy="10.2"> = 0.60</tspan></text>
<text x="149" y="957.5" font-size="33" fill="#000">p = 0.0086</text>
<line x1="148.75" y1="1136.25" x2="544.50" y2="945.25" stroke="#000" stroke-width="1.8"/>
<circle cx="149.25" cy="1086.25" r="4.8" fill="#2160b0"/>
<circle cx="200" cy="1092.5" r="4.8" fill="#2160b0"/>
<circle cx="243" cy="1097.5" r="4.8" fill="#2160b0"/>
<circle cx="283" cy="1053.25" r="4.8" fill="#2160b0"/>
<circle cx="332" cy="1097.5" r="4.8" fill="#2160b0"/>
<circle cx="363" cy="1141.3" r="4.8" fill="#2160b0"/>
<circle cx="418.75" cy="948.3" r="4.8" fill="#2160b0"/>
<circle cx="454.25" cy="1009.5" r="4.8" fill="#2160b0"/>
<circle cx="498.75" cy="957.75" r="4.8" fill="#2160b0"/>
<circle cx="544" cy="890" r="4.8" fill="#2160b0"/>
<rect x="1219.25" y="95.50" width="173.25" height="255.00" fill="#e5e5e5"/>
<line x1="1046" y1="99" x2="1046" y2="349" stroke="#a0a0a0" stroke-width="1.8" stroke-dasharray="6.5 5"/>
<text x="1046" y="67.7" font-size="23.7" fill="#666" text-anchor="middle">Rew. cue</text>
<path d="M1035.5 74 L1057 74 L1046.2 92.5Z" fill="#a6a6a6"/>
<path d="M852.5 254.8 L854.1 256.2 L855.7 253.9 L857.3 252.5 L858.9 253.5 L860.5 256.2 L862.1 255.6 L863.7 253.0 L865.3 252.0 L866.9 251.4 L868.5 252.0 L870.1 250.4 L871.7 248.4 L873.3 247.0 L874.9 246.3 L876.5 245.0 L878.1 245.5 L879.7 246.2 L881.3 248.6 L882.9 247.4 L884.5 248.3 L886.1 245.8 L887.7 247.2 L889.3 246.0 L890.9 244.0 L892.5 243.1 L894.1 243.6 L895.7 241.7 L897.3 242.2 L898.9 242.7 L900.5 242.8 L902.1 242.4 L903.7 238.8 L905.3 240.3 L906.9 240.2 L908.5 243.2 L910.1 244.1 L911.7 243.4 L913.3 242.5 L914.9 240.0 L916.5 239.0 L918.1 236.8 L919.7 239.1 L921.3 236.7 L922.9 236.1 L924.5 233.1 L926.1 231.8 L927.7 231.9 L929.3 234.3 L930.9 235.4 L932.5 235.2 L934.1 233.7 L935.7 236.4 L937.3 233.5 L938.9 232.5 L940.5 234.4 L942.1 233.5 L943.7 235.0 L945.3 237.2 L946.9 239.3 L948.5 242.8 L950.1 245.7 L951.7 243.8 L953.3 237.1 L954.9 235.2 L956.5 236.8 L958.1 236.9 L959.7 239.2 L961.3 242.3 L962.9 246.2 L964.5 245.0 L966.1 246.1 L967.7 247.9 L969.3 249.7 L970.9 248.2 L972.5 252.6 L974.1 252.6 L975.7 257.6 L977.3 259.8 L978.9 263.0 L980.5 267.2 L982.1 269.0 L983.7 270.1 L985.3 270.0 L986.9 269.6 L988.5 267.5 L990.1 271.2 L991.7 267.6 L993.3 263.9 L994.9 267.8 L996.5 269.6 L998.1 268.8 L999.7 270.5 L1001.3 269.2 L1002.9 269.1 L1004.5 270.9 L1006.1 271.8 L1007.7 269.3 L1009.3 270.2 L1010.9 268.7 L1012.5 266.3 L1014.1 262.2 L1015.7 261.3 L1017.3 260.6 L1018.9 260.8 L1020.5 262.2 L1022.1 260.9 L1023.7 261.5 L1025.3 262.5 L1026.9 262.4 L1028.5 265.0 L1030.1 260.4 L1031.7 260.3 L1033.3 258.4 L1034.9 259.0 L1036.5 263.3 L1038.1 260.6 L1039.7 261.5 L1041.3 263.9 L1042.9 264.9 L1044.5 265.6 L1046.1 260.6 L1047.7 260.7 L1049.3 258.0 L1050.9 257.8 L1052.5 260.8 L1054.1 262.7 L1055.7 262.5 L1057.3 260.7 L1058.9 259.0 L1060.5 257.4 L1062.1 255.3 L1063.7 252.0 L1065.3 251.2 L1066.9 257.3 L1068.5 259.9 L1070.1 260.2 L1071.7 260.5 L1073.3 261.5 L1074.9 262.7 L1076.5 261.0 L1078.1 265.6 L1079.7 266.3 L1081.3 264.8 L1082.9 264.6 L1084.5 264.0 L1086.1 264.5 L1087.7 263.1 L1089.3 263.6 L1090.9 264.0 L1092.5 257.7 L1094.1 250.4 L1095.7 243.0 L1097.3 237.0 L1098.9 229.9 L1100.5 229.0 L1102.1 228.7 L1103.7 228.3 L1105.3 225.0 L1106.9 226.0 L1108.5 223.9 L1110.1 222.1 L1111.7 219.4 L1113.3 214.8 L1114.9 214.7 L1116.5 210.7 L1118.1 211.9 L1119.7 210.6 L1121.3 212.4 L1122.9 211.8 L1124.5 211.4 L1126.1 211.9 L1127.7 208.5 L1129.3 207.3 L1130.9 203.0 L1132.5 200.0 L1134.1 195.7 L1135.7 195.2 L1137.3 194.5 L1138.9 191.8 L1140.5 188.5 L1142.1 187.9 L1143.7 187.7 L1145.3 186.1 L1146.9 183.3 L1148.5 181.6 L1150.1 180.7 L1151.7 176.1 L1153.3 174.3 L1154.9 174.8 L1156.5 169.6 L1158.1 166.9 L1159.7 167.7 L1161.3 170.1 L1162.9 172.7 L1164.5 173.5 L1166.1 173.1 L1167.7 180.7 L1169.3 182.7 L1170.9 185.2 L1172.5 190.1 L1174.1 193.0 L1175.7 198.4 L1177.3 202.9 L1178.9 204.6 L1180.5 206.2 L1182.1 207.1 L1183.7 208.0 L1185.3 209.9 L1186.9 214.7 L1188.5 218.2 L1190.1 223.4 L1191.7 228.8 L1193.3 231.1 L1194.9 232.6 L1196.5 236.6 L1198.1 238.4 L1199.7 237.1 L1201.3 238.4 L1202.9 241.7 L1204.5 243.3 L1206.1 247.8 L1207.7 247.7 L1209.3 248.7 L1210.9 255.9 L1212.5 261.4 L1214.1 263.1 L1215.7 268.4 L1217.3 275.2 L1218.9 274.9 L1220.5 275.5 L1222.1 276.7 L1223.7 278.6 L1225.3 279.4 L1226.9 282.7 L1228.5 284.7 L1230.1 289.8 L1231.7 297.2 L1233.3 297.9 L1234.9 302.6 L1236.5 306.5 L1238.1 304.6 L1239.7 308.4 L1241.3 311.5 L1242.9 313.7 L1244.5 317.3 L1246.1 318.3 L1247.7 320.9 L1249.3 322.2 L1250.9 324.1 L1252.5 325.2 L1254.1 331.6 L1255.7 332.7 L1257.3 332.8 L1258.9 338.6 L1260.5 342.2 L1262.1 342.7 L1263.7 342.0 L1265.3 341.4 L1266.9 344.3 L1268.5 343.8 L1270.1 343.2 L1271.7 345.4 L1273.3 345.2 L1274.9 345.7 L1276.5 349.1 L1278.1 349.6 L1279.7 350.3 L1281.3 349.6 L1282.9 350.5 L1284.5 348.9 L1286.1 349.8 L1287.7 350.5 L1289.3 348.8 L1290.9 346.4 L1292.5 347.5 L1294.1 347.1 L1295.7 347.8 L1297.3 346.3 L1298.9 347.0 L1300.5 347.9 L1302.1 350.4 L1303.7 350.8 L1305.3 348.8 L1306.9 349.6 L1308.5 347.1 L1310.1 348.4 L1311.7 347.7 L1313.3 349.2 L1314.9 348.6 L1316.5 347.5 L1318.1 346.2 L1319.7 348.6 L1321.3 348.1 L1322.9 349.0 L1324.5 349.2 L1326.1 345.6 L1327.7 347.6 L1329.3 346.3 L1330.9 346.2 L1332.5 345.8 L1334.1 341.7 L1335.7 341.3 L1337.3 341.0 L1338.9 341.2 L1340.5 342.0 L1342.1 339.7 L1343.7 338.8 L1345.3 339.3 L1346.9 335.7 L1348.5 338.8 L1350.1 336.1 L1351.7 338.7 L1353.3 338.7 L1354.9 341.5 L1356.5 342.1 L1358.1 341.0 L1359.7 338.2 L1361.3 339.6 L1362.9 340.9 L1364.5 342.2 L1366.1 339.9 L1367.7 338.3 L1369.3 337.0 L1370.9 337.5 L1372.5 335.5 L1374.1 335.1 L1375.7 336.1 L1377.3 334.5 L1378.9 336.0 L1380.5 335.0 L1382.1 333.4 L1383.7 334.2 L1385.3 333.5 L1386.9 328.4 L1388.5 322.4 L1390.1 317.8 L1391.7 316.2 L1393.3 316.8 L1394.9 315.4 L1396.5 312.9 L1398.1 310.0 L1399.7 310.3 L1401.3 310.3 L1402.9 310.9 L1404.5 308.2 L1406.1 305.0 L1407.7 305.8 L1409.3 304.3 L1410.9 301.3 L1412.5 303.4 L1414.1 303.1 L1415.7 301.5 L1417.3 300.5 L1418.9 298.1 L1420.5 299.0 L1422.1 297.0 L1423.7 295.4 L1425.3 293.6 L1426.9 290.7 L1428.5 291.6 L1430.1 292.3 L1431.7 290.7 L1433.3 284.8 L1434.9 283.5 L1436.5 281.5 L1438.1 281.3 L1439.7 276.6 L1441.3 273.4 L1442.9 273.4 L1444.5 274.8 L1446.1 273.1 L1447.7 275.0 L1449.3 270.8 L1450.9 269.1 L1452.5 267.2 L1454.1 264.6 L1455.7 265.8 L1457.3 262.5 L1458.9 260.6 L1460.5 260.2 L1462.1 259.3 L1463.7 260.8 L1465.3 258.7 L1466.9 258.7 L1468.5 256.8 L1470.1 257.9 L1471.7 256.2 L1473.3 255.2 L1474.9 251.4 L1476.5 252.4 L1478.1 250.5 L1479.7 251.3 L1481.3 250.7 L1482.9 250.0 L1484.5 250.1 L1486.1 248.6 L1487.7 245.4 L1489.3 244.8 L1490.9 244.1 L1492.5 241.6 L1494.1 242.9 L1495.7 244.6 L1497.3 243.6 L1498.9 242.7 L1500.5 242.5 L1502.1 243.5 L1503.7 242.1 L1505.3 243.7 L1506.9 242.2 L1508.5 243.5 L1510.1 244.3 L1511.7 242.3 L1513.3 244.1 L1514.9 244.6 L1516.5 242.2 L1518.1 242.7 L1519.7 242.9 L1521.3 242.8 L1522.9 244.7 L1524.5 244.1 L1526.1 245.2 L1527.7 243.8 L1529.3 244.0 L1530.9 247.1 L1532.5 246.5 L1534.1 243.1 L1535.7 242.0 L1537.3 242.5 L1538.9 240.4 L1540.5 243.5 L1542.1 243.9 L1543.7 244.2 L1545.3 244.7 L1546.9 244.0 L1548.5 243.1 L1550.1 239.8 L1551.7 240.4 L1553.3 242.6 L1554.9 244.3 L1556.5 243.6 L1558.1 240.4 L1559.7 240.7 L1561.3 241.1 L1562.9 239.0 L1564.5 241.7 L1566.1 240.3 L1567.7 241.4 L1569.3 240.7 L1570.9 243.5 L1572.5 241.5 L1574.1 240.5 L1575.7 242.6 L1577.3 240.0 L1578.9 239.4 L1580.5 237.4 L1582.1 233.2 L1583.7 225.6 L1585.3 225.0 L1586.9 223.7 L1588.5 224.9 L1590.1 220.7 L1591.7 221.7 L1593.3 221.3 L1594.9 219.4 L1596.5 217.9 L1598.1 218.1 L1599.7 216.5 L1601.3 215.8 L1602.9 214.5 L1604.5 214.9 L1606.1 215.7 L1607.7 212.5 L1609.3 212.9 L1610.9 213.2 L1612.5 215.0 L1614.1 212.3 L1615.7 215.3 L1617.3 215.5 L1618.9 217.9 L1620.5 219.6 L1622.1 221.4 L1623.7 222.3 L1625.3 221.8 L1626.9 224.3 L1628.5 225.6 L1630.1 223.7 L1631.7 222.5 L1633.3 221.6 L1634.9 219.3 L1636.5 218.3 L1638.1 219.5 L1639.7 220.6 L1641.3 219.0 L1642.9 216.7 L1644.5 214.9 L1646.1 214.2 L1647.7 215.2 L1649.3 213.5 L1650.9 209.6 L1652.5 207.1 L1654.1 207.1 L1655.7 206.2 L1657.3 207.1 L1658.9 213.1 L1660.5 217.0 L1662.1 220.2 L1663.7 221.3 L1665.3 219.4 L1666.9 219.0 L1668.5 221.4 L1670.1 222.0 L1671.7 222.9 L1673.3 224.3 L1674.9 222.1 L1676.5 222.8 L1678.1 222.0 L1679.7 222.0 L1681.3 221.8 L1682.9 222.2 L1684.5 219.5 L1686.1 218.1 L1687.7 219.3 L1689.3 219.4 L1690.9 217.4 L1692.5 216.3 L1694.1 213.2 L1695.7 214.4 L1697.3 213.8 L1698.9 214.4 L1700.5 211.6 L1702.1 211.1 L1703.7 211.1 L1705.3 213.0 L1706.9 212.8 L1708.5 212.5 L1710.1 209.3 L1711.7 204.6 L1713.3 199.1 L1714.9 196.1 L1716.5 194.0" fill="none" stroke="#fd8d3c" stroke-width="5.4" stroke-linejoin="round" stroke-linecap="round"/>
<path d="M852.5 274.5 L854.1 273.3 L855.7 277.9 L857.3 275.6 L858.9 273.6 L860.5 272.5 L862.1 270.2 L863.7 268.3 L865.3 268.9 L866.9 267.5 L868.5 268.5 L870.1 267.2 L871.7 263.8 L873.3 263.0 L874.9 264.0 L876.5 263.2 L878.1 266.1 L879.7 267.7 L881.3 270.9 L882.9 270.1 L884.5 271.1 L886.1 273.3 L887.7 275.1 L889.3 274.4 L890.9 278.8 L892.5 278.6 L894.1 282.0 L895.7 282.3 L897.3 283.0 L898.9 280.5 L900.5 279.7 L902.1 282.5 L903.7 278.5 L905.3 279.0 L906.9 279.2 L908.5 276.3 L910.1 276.8 L911.7 277.2 L913.3 274.5 L914.9 272.4 L916.5 273.5 L918.1 272.6 L919.7 274.6 L921.3 272.7 L922.9 268.9 L924.5 268.2 L926.1 265.7 L927.7 270.5 L929.3 276.4 L930.9 278.8 L932.5 277.9 L934.1 280.3 L935.7 279.8 L937.3 282.2 L938.9 280.3 L940.5 280.5 L942.1 280.0 L943.7 278.9 L945.3 284.3 L946.9 285.6 L948.5 282.6 L950.1 283.3 L951.7 279.1 L953.3 281.2 L954.9 281.8 L956.5 279.6 L958.1 278.1 L959.7 277.9 L961.3 277.9 L962.9 276.3 L964.5 273.7 L966.1 272.5 L967.7 271.0 L969.3 271.4 L970.9 269.9 L972.5 268.7 L974.1 265.9 L975.7 267.7 L977.3 269.3 L978.9 270.7 L980.5 272.7 L982.1 274.1 L983.7 273.4 L985.3 276.6 L986.9 278.5 L988.5 277.5 L990.1 278.9 L991.7 277.4 L993.3 276.3 L994.9 277.4 L996.5 280.9 L998.1 280.4 L999.7 278.0 L1001.3 279.6 L1002.9 279.4 L1004.5 279.2 L1006.1 280.9 L1007.7 279.2 L1009.3 278.5 L1010.9 279.1 L1012.5 283.7 L1014.1 285.1 L1015.7 285.1 L1017.3 285.0 L1018.9 287.2 L1020.5 289.6 L1022.1 287.9 L1023.7 288.7 L1025.3 292.7 L1026.9 292.1 L1028.5 290.1 L1030.1 290.1 L1031.7 289.8 L1033.3 290.5 L1034.9 290.4 L1036.5 288.7 L1038.1 287.3 L1039.7 286.8 L1041.3 284.3 L1042.9 283.6 L1044.5 281.1 L1046.1 282.6 L1047.7 284.5 L1049.3 281.7 L1050.9 282.9 L1052.5 282.5 L1054.1 282.2 L1055.7 281.5 L1057.3 281.9 L1058.9 283.2 L1060.5 280.1 L1062.1 281.7 L1063.7 280.4 L1065.3 278.2 L1066.9 278.4 L1068.5 279.5 L1070.1 278.8 L1071.7 278.9 L1073.3 277.8 L1074.9 276.7 L1076.5 278.4 L1078.1 276.2 L1079.7 277.8 L1081.3 277.6 L1082.9 275.7 L1084.5 274.3 L1086.1 273.0 L1087.7 272.3 L1089.3 271.4 L1090.9 270.4 L1092.5 266.5 L1094.1 263.6 L1095.7 263.8 L1097.3 261.2 L1098.9 258.6 L1100.5 256.6 L1102.1 253.2 L1103.7 255.2 L1105.3 253.1 L1106.9 251.0 L1108.5 247.7 L1110.1 248.2 L1111.7 247.6 L1113.3 248.5 L1114.9 247.7 L1116.5 244.2 L1118.1 241.3 L1119.7 243.4 L1121.3 241.0 L1122.9 240.2 L1124.5 238.9 L1126.1 237.0 L1127.7 234.7 L1129.3 229.6 L1130.9 226.1 L1132.5 220.8 L1134.1 219.5 L1135.7 216.0 L1137.3 210.1 L1138.9 209.3 L1140.5 208.5 L1142.1 206.9 L1143.7 207.0 L1145.3 206.8 L1146.9 207.7 L1148.5 209.2 L1150.1 209.2 L1151.7 211.1 L1153.3 207.8 L1154.9 209.4 L1156.5 211.0 L1158.1 212.1 L1159.7 212.2 L1161.3 209.1 L1162.9 206.2 L1164.5 206.4 L1166.1 212.0 L1167.7 212.4 L1169.3 211.5 L1170.9 210.1 L1172.5 213.1 L1174.1 215.6 L1175.7 219.7 L1177.3 222.7 L1178.9 221.6 L1180.5 224.6 L1182.1 227.9 L1183.7 228.0 L1185.3 227.6 L1186.9 227.9 L1188.5 228.1 L1190.1 233.9 L1191.7 236.3 L1193.3 234.9 L1194.9 237.5 L1196.5 235.5 L1198.1 235.8 L1199.7 236.1 L1201.3 237.7 L1202.9 240.3 L1204.5 244.4 L1206.1 246.9 L1207.7 248.6 L1209.3 251.4 L1210.9 253.8 L1212.5 257.6 L1214.1 259.9 L1215.7 264.7 L1217.3 269.5 L1218.9 271.4 L1220.5 270.2 L1222.1 271.7 L1223.7 272.7 L1225.3 272.0 L1226.9 270.1 L1228.5 271.8 L1230.1 275.3 L1231.7 275.9 L1233.3 280.6 L1234.9 281.0 L1236.5 279.7 L1238.1 280.3 L1239.7 282.0 L1241.3 282.8 L1242.9 282.2 L1244.5 283.2 L1246.1 287.6 L1247.7 287.1 L1249.3 285.8 L1250.9 284.3 L1252.5 281.5 L1254.1 283.3 L1255.7 283.5 L1257.3 284.4 L1258.9 284.3 L1260.5 286.4 L1262.1 288.2 L1263.7 287.5 L1265.3 287.0 L1266.9 290.1 L1268.5 294.1 L1270.1 295.5 L1271.7 296.6 L1273.3 294.8 L1274.9 295.6 L1276.5 298.3 L1278.1 299.8 L1279.7 300.1 L1281.3 301.5 L1282.9 303.0 L1284.5 302.9 L1286.1 302.0 L1287.7 300.7 L1289.3 302.7 L1290.9 303.2 L1292.5 303.3 L1294.1 306.2 L1295.7 305.6 L1297.3 306.3 L1298.9 308.5 L1300.5 307.8 L1302.1 305.9 L1303.7 307.8 L1305.3 311.0 L1306.9 308.7 L1308.5 307.2 L1310.1 303.2 L1311.7 305.0 L1313.3 301.2 L1314.9 301.0 L1316.5 301.4 L1318.1 304.7 L1319.7 303.6 L1321.3 301.5 L1322.9 298.9 L1324.5 298.8 L1326.1 296.9 L1327.7 296.5 L1329.3 296.9 L1330.9 298.5 L1332.5 295.5 L1334.1 297.5 L1335.7 293.4 L1337.3 296.7 L1338.9 294.4 L1340.5 293.2 L1342.1 290.3 L1343.7 288.7 L1345.3 286.3 L1346.9 283.5 L1348.5 280.3 L1350.1 277.7 L1351.7 276.1 L1353.3 273.3 L1354.9 270.4 L1356.5 266.4 L1358.1 265.2 L1359.7 264.0 L1361.3 259.9 L1362.9 259.5 L1364.5 258.2 L1366.1 257.5 L1367.7 253.9 L1369.3 255.2 L1370.9 256.5 L1372.5 257.8 L1374.1 253.5 L1375.7 250.7 L1377.3 249.5 L1378.9 247.5 L1380.5 243.7 L1382.1 242.7 L1383.7 243.1 L1385.3 242.2 L1386.9 240.3 L1388.5 240.3 L1390.1 235.5 L1391.7 235.1 L1393.3 232.5 L1394.9 230.8 L1396.5 231.7 L1398.1 234.0 L1399.7 233.4 L1401.3 232.5 L1402.9 234.3 L1404.5 234.6 L1406.1 230.8 L1407.7 231.4 L1409.3 232.1 L1410.9 232.7 L1412.5 232.2 L1414.1 235.5 L1415.7 236.8 L1417.3 240.2 L1418.9 239.3 L1420.5 239.7 L1422.1 238.9 L1423.7 241.4 L1425.3 243.4 L1426.9 245.7 L1428.5 246.4 L1430.1 244.8 L1431.7 247.1 L1433.3 245.6 L1434.9 245.6 L1436.5 246.7 L1438.1 251.2 L1439.7 248.7 L1441.3 246.3 L1442.9 246.6 L1444.5 247.9 L1446.1 247.4 L1447.7 246.8 L1449.3 244.1 L1450.9 243.0 L1452.5 246.3 L1454.1 247.0 L1455.7 246.8 L1457.3 247.6 L1458.9 251.2 L1460.5 254.3 L1462.1 253.1 L1463.7 249.5 L1465.3 250.7 L1466.9 247.4 L1468.5 246.2 L1470.1 245.4 L1471.7 244.1 L1473.3 243.2 L1474.9 245.2 L1476.5 244.2 L1478.1 240.9 L1479.7 240.1 L1481.3 242.4 L1482.9 240.9 L1484.5 238.6 L1486.1 239.9 L1487.7 239.7 L1489.3 238.7 L1490.9 238.6 L1492.5 236.8 L1494.1 236.5 L1495.7 237.3 L1497.3 236.0 L1498.9 237.9 L1500.5 235.6 L1502.1 239.0 L1503.7 237.8 L1505.3 237.7 L1506.9 235.0 L1508.5 235.8 L1510.1 233.5 L1511.7 233.8 L1513.3 232.9 L1514.9 230.8 L1516.5 233.2 L1518.1 233.2 L1519.7 232.5 L1521.3 232.6 L1522.9 233.9 L1524.5 234.6 L1526.1 236.4 L1527.7 235.6 L1529.3 236.5 L1530.9 235.6 L1532.5 234.9 L1534.1 236.7 L1535.7 235.3 L1537.3 233.3 L1538.9 235.6 L1540.5 236.0 L1542.1 238.5 L1543.7 240.2 L1545.3 241.6 L1546.9 242.3 L1548.5 245.4 L1550.1 243.8 L1551.7 246.8 L1553.3 247.0 L1554.9 248.3 L1556.5 248.5 L1558.1 251.4 L1559.7 253.2 L1561.3 253.5 L1562.9 255.2 L1564.5 257.4 L1566.1 258.5 L1567.7 262.2 L1569.3 260.6 L1570.9 257.9 L1572.5 258.1 L1574.1 256.8 L1575.7 254.5 L1577.3 253.2 L1578.9 250.2 L1580.5 251.7 L1582.1 253.3 L1583.7 251.5 L1585.3 249.0 L1586.9 246.0 L1588.5 244.7 L1590.1 245.4 L1591.7 244.5 L1593.3 244.3 L1594.9 242.9 L1596.5 242.7 L1598.1 242.2 L1599.7 242.2 L1601.3 241.6 L1602.9 241.1 L1604.5 239.0 L1606.1 238.3 L1607.7 236.1 L1609.3 235.6 L1610.9 235.7 L1612.5 236.1 L1614.1 233.3 L1615.7 231.9 L1617.3 231.7 L1618.9 231.7 L1620.5 233.4 L1622.1 234.8 L1623.7 235.2 L1625.3 239.2 L1626.9 238.8 L1628.5 239.1 L1630.1 236.1 L1631.7 238.3 L1633.3 238.7 L1634.9 238.7 L1636.5 235.1 L1638.1 236.2 L1639.7 235.8 L1641.3 237.1 L1642.9 237.3 L1644.5 236.8 L1646.1 236.7 L1647.7 239.2 L1649.3 240.5 L1650.9 237.1 L1652.5 237.2 L1654.1 238.9 L1655.7 238.5 L1657.3 239.8 L1658.9 239.7 L1660.5 242.8 L1662.1 243.5 L1663.7 246.9 L1665.3 254.1 L1666.9 259.5 L1668.5 262.5 L1670.1 259.8 L1671.7 256.7 L1673.3 258.3 L1674.9 257.9 L1676.5 254.9 L1678.1 250.1 L1679.7 253.1 L1681.3 254.6 L1682.9 254.2 L1684.5 254.8 L1686.1 256.2 L1687.7 254.8 L1689.3 258.1 L1690.9 256.3 L1692.5 257.5 L1694.1 258.2 L1695.7 257.6 L1697.3 256.3 L1698.9 257.7 L1700.5 254.5 L1702.1 254.8 L1703.7 257.1 L1705.3 254.6 L1706.9 251.7 L1708.5 251.4 L1710.1 247.2 L1711.7 247.8 L1713.3 247.2 L1714.9 247.1 L1716.5 246.6 L1718.1 248.2" fill="none" stroke="#fc4e2a" stroke-width="5.4" stroke-linejoin="round" stroke-linecap="round"/>
<path d="M852.5 324.8 L854.1 321.8 L855.7 322.4 L857.3 321.9 L858.9 320.8 L860.5 320.7 L862.1 320.8 L863.7 321.6 L865.3 322.7 L866.9 323.7 L868.5 322.8 L870.1 323.3 L871.7 322.4 L873.3 320.8 L874.9 318.5 L876.5 315.5 L878.1 312.3 L879.7 312.1 L881.3 311.3 L882.9 311.0 L884.5 310.8 L886.1 307.9 L887.7 306.8 L889.3 305.2 L890.9 307.0 L892.5 305.6 L894.1 304.7 L895.7 302.2 L897.3 299.7 L898.9 298.9 L900.5 298.6 L902.1 298.7 L903.7 295.4 L905.3 297.5 L906.9 297.7 L908.5 298.9 L910.1 300.3 L911.7 301.5 L913.3 304.0 L914.9 306.5 L916.5 307.6 L918.1 307.2 L919.7 307.1 L921.3 306.6 L922.9 306.7 L924.5 305.5 L926.1 301.8 L927.7 300.8 L929.3 300.5 L930.9 302.0 L932.5 301.0 L934.1 301.7 L935.7 300.9 L937.3 298.0 L938.9 298.0 L940.5 298.4 L942.1 298.4 L943.7 296.6 L945.3 298.8 L946.9 298.9 L948.5 297.0 L950.1 299.2 L951.7 299.7 L953.3 301.9 L954.9 308.0 L956.5 313.8 L958.1 315.9 L959.7 316.0 L961.3 318.6 L962.9 318.3 L964.5 316.5 L966.1 313.9 L967.7 317.8 L969.3 315.8 L970.9 314.4 L972.5 317.3 L974.1 320.5 L975.7 321.4 L977.3 325.3 L978.9 326.2 L980.5 327.6 L982.1 327.4 L983.7 325.0 L985.3 324.3 L986.9 326.5 L988.5 322.3 L990.1 321.1 L991.7 320.5 L993.3 318.0 L994.9 316.8 L996.5 314.0 L998.1 315.6 L999.7 317.7 L1001.3 320.9 L1002.9 322.9 L1004.5 321.6 L1006.1 320.0 L1007.7 323.5 L1009.3 324.1 L1010.9 320.3 L1012.5 320.6 L1014.1 320.0 L1015.7 320.1 L1017.3 318.6 L1018.9 319.8 L1020.5 320.3 L1022.1 320.2 L1023.7 321.3 L1025.3 320.1 L1026.9 316.8 L1028.5 313.6 L1030.1 313.2 L1031.7 315.0 L1033.3 315.5 L1034.9 313.1 L1036.5 314.1 L1038.1 313.2 L1039.7 310.7 L1041.3 310.6 L1042.9 309.4 L1044.5 306.8 L1046.1 306.1 L1047.7 307.5 L1049.3 310.4 L1050.9 308.8 L1052.5 310.1 L1054.1 310.7 L1055.7 311.3 L1057.3 310.1 L1058.9 313.5 L1060.5 316.5 L1062.1 319.2 L1063.7 319.6 L1065.3 322.0 L1066.9 322.6 L1068.5 324.2 L1070.1 326.0 L1071.7 330.2 L1073.3 333.7 L1074.9 333.6 L1076.5 333.4 L1078.1 332.2 L1079.7 331.5 L1081.3 332.1 L1082.9 332.0 L1084.5 336.1 L1086.1 338.5 L1087.7 339.1 L1089.3 339.2 L1090.9 337.1 L1092.5 337.9 L1094.1 335.9 L1095.7 333.7 L1097.3 331.9 L1098.9 330.1 L1100.5 332.3 L1102.1 331.2 L1103.7 335.6 L1105.3 333.8 L1106.9 335.0 L1108.5 332.1 L1110.1 334.5 L1111.7 332.7 L1113.3 334.0 L1114.9 334.6 L1116.5 336.3 L1118.1 336.2 L1119.7 335.6 L1121.3 334.1 L1122.9 336.2 L1124.5 333.4 L1126.1 332.4 L1127.7 328.8 L1129.3 325.5 L1130.9 320.3 L1132.5 316.6 L1134.1 314.3 L1135.7 311.1 L1137.3 310.1 L1138.9 306.9 L1140.5 307.3 L1142.1 303.8 L1143.7 301.7 L1145.3 296.7 L1146.9 291.0 L1148.5 287.5 L1150.1 283.9 L1151.7 280.5 L1153.3 277.1 L1154.9 272.8 L1156.5 265.6 L1158.1 263.2 L1159.7 258.8 L1161.3 256.4 L1162.9 255.2 L1164.5 250.4 L1166.1 249.6 L1167.7 248.3 L1169.3 241.7 L1170.9 234.3 L1172.5 230.4 L1174.1 224.0 L1175.7 220.3 L1177.3 216.7 L1178.9 208.7 L1180.5 205.1 L1182.1 198.4 L1183.7 194.1 L1185.3 191.7 L1186.9 185.8 L1188.5 181.3 L1190.1 177.4 L1191.7 174.8 L1193.3 171.5 L1194.9 168.1 L1196.5 162.7 L1198.1 157.4 L1199.7 154.4 L1201.3 148.8 L1202.9 145.3 L1204.5 146.1 L1206.1 143.7 L1207.7 141.7 L1209.3 143.1 L1210.9 141.5 L1212.5 136.5 L1214.1 133.7 L1215.7 134.7 L1217.3 135.2 L1218.9 129.3 L1220.5 125.7 L1222.1 121.8 L1223.7 117.2 L1225.3 110.6 L1226.9 112.1 L1228.5 111.5 L1230.1 110.0 L1231.7 106.7 L1233.3 106.1 L1234.9 106.1 L1236.5 108.0 L1238.1 110.5 L1239.7 111.6 L1241.3 109.5 L1242.9 105.2 L1244.5 98.0 L1246.1 98.0 L1247.7 101.9 L1249.3 103.8 L1250.9 109.0 L1252.5 110.1 L1254.1 111.7 L1255.7 113.6 L1257.3 112.6 L1258.9 116.1 L1260.5 116.4 L1262.1 116.4 L1263.7 116.9 L1265.3 116.3 L1266.9 116.9 L1268.5 122.2 L1270.1 123.1 L1271.7 123.9 L1273.3 125.5 L1274.9 127.2 L1276.5 126.4 L1278.1 127.2 L1279.7 128.7 L1281.3 130.0 L1282.9 129.1 L1284.5 130.4 L1286.1 128.1 L1287.7 126.3 L1289.3 123.5 L1290.9 125.1 L1292.5 128.4 L1294.1 129.7 L1295.7 131.4 L1297.3 131.9 L1298.9 133.2 L1300.5 134.7 L1302.1 136.6 L1303.7 140.1 L1305.3 141.9 L1306.9 145.9 L1308.5 149.9 L1310.1 151.1 L1311.7 155.4 L1313.3 157.0 L1314.9 157.0 L1316.5 159.3 L1318.1 162.4 L1319.7 162.7 L1321.3 169.5 L1322.9 170.7 L1324.5 173.7 L1326.1 171.1 L1327.7 169.6 L1329.3 168.1 L1330.9 167.6 L1332.5 173.6 L1334.1 178.9 L1335.7 183.9 L1337.3 183.4 L1338.9 186.5 L1340.5 187.7 L1342.1 188.2 L1343.7 187.2 L1345.3 190.4 L1346.9 192.6 L1348.5 198.6 L1350.1 197.3 L1351.7 201.3 L1353.3 204.1 L1354.9 205.8 L1356.5 207.5 L1358.1 210.0 L1359.7 209.4 L1361.3 214.5 L1362.9 215.8 L1364.5 215.8 L1366.1 217.5 L1367.7 214.8 L1369.3 216.0 L1370.9 217.4 L1372.5 218.1 L1374.1 223.2 L1375.7 229.1 L1377.3 231.1 L1378.9 232.9 L1380.5 236.1 L1382.1 235.8 L1383.7 236.7 L1385.3 237.9 L1386.9 237.8 L1388.5 237.9 L1390.1 239.5 L1391.7 240.9 L1393.3 243.1 L1394.9 241.6 L1396.5 241.9 L1398.1 243.6 L1399.7 247.2 L1401.3 247.5 L1402.9 252.3 L1404.5 256.2 L1406.1 255.9 L1407.7 259.5 L1409.3 255.1 L1410.9 254.1 L1412.5 250.5 L1414.1 251.7 L1415.7 251.2 L1417.3 249.7 L1418.9 247.4 L1420.5 247.2 L1422.1 250.0 L1423.7 250.8 L1425.3 253.6 L1426.9 252.4 L1428.5 255.3 L1430.1 257.3 L1431.7 254.6 L1433.3 255.1 L1434.9 256.6 L1436.5 258.1 L1438.1 257.6 L1439.7 260.4 L1441.3 260.8 L1442.9 264.0 L1444.5 264.0 L1446.1 265.9 L1447.7 270.7 L1449.3 270.6 L1450.9 273.9 L1452.5 276.4 L1454.1 276.2 L1455.7 272.6 L1457.3 275.6 L1458.9 272.7 L1460.5 272.9 L1462.1 274.0 L1463.7 273.6 L1465.3 275.4 L1466.9 271.8 L1468.5 274.7 L1470.1 276.9 L1471.7 277.6 L1473.3 278.5 L1474.9 280.6 L1476.5 281.6 L1478.1 280.0 L1479.7 281.4 L1481.3 282.9 L1482.9 282.3 L1484.5 283.1 L1486.1 280.3 L1487.7 280.9 L1489.3 284.8 L1490.9 284.9 L1492.5 289.2 L1494.1 292.7 L1495.7 292.2 L1497.3 290.1 L1498.9 288.8 L1500.5 287.8 L1502.1 287.2 L1503.7 284.4 L1505.3 282.4 L1506.9 279.8 L1508.5 282.1 L1510.1 282.3 L1511.7 285.6 L1513.3 287.5 L1514.9 285.6 L1516.5 288.0 L1518.1 285.4 L1519.7 286.7 L1521.3 283.9 L1522.9 285.3 L1524.5 284.8 L1526.1 284.0 L1527.7 280.0 L1529.3 276.1 L1530.9 274.6 L1532.5 269.5 L1534.1 268.0 L1535.7 266.0 L1537.3 264.6 L1538.9 260.8 L1540.5 259.7 L1542.1 259.4 L1543.7 264.2 L1545.3 264.4 L1546.9 266.1 L1548.5 266.1 L1550.1 266.2 L1551.7 268.8 L1553.3 263.7 L1554.9 263.7 L1556.5 262.5 L1558.1 261.2 L1559.7 259.2 L1561.3 257.8 L1562.9 257.2 L1564.5 260.1 L1566.1 260.2 L1567.7 260.9 L1569.3 262.1 L1570.9 264.4 L1572.5 266.6 L1574.1 266.9 L1575.7 268.7 L1577.3 271.8 L1578.9 272.8 L1580.5 276.0 L1582.1 280.9 L1583.7 279.2 L1585.3 278.1 L1586.9 276.7 L1588.5 278.5 L1590.1 280.5 L1591.7 280.2 L1593.3 278.2 L1594.9 278.2 L1596.5 275.5 L1598.1 274.1 L1599.7 271.3 L1601.3 275.3 L1602.9 277.8 L1604.5 278.6 L1606.1 279.3 L1607.7 285.3 L1609.3 284.1 L1610.9 284.5 L1612.5 283.3 L1614.1 288.3 L1615.7 291.0 L1617.3 292.6 L1618.9 287.9 L1620.5 286.4 L1622.1 283.2 L1623.7 279.6 L1625.3 279.0 L1626.9 280.3 L1628.5 280.3 L1630.1 279.8 L1631.7 281.4 L1633.3 281.5 L1634.9 280.7 L1636.5 281.6 L1638.1 281.3 L1639.7 281.5 L1641.3 281.1 L1642.9 280.4 L1644.5 277.6 L1646.1 278.6 L1647.7 278.2 L1649.3 274.9 L1650.9 275.1 L1652.5 272.9 L1654.1 269.4 L1655.7 269.2 L1657.3 267.7 L1658.9 270.5 L1660.5 268.5 L1662.1 271.6 L1663.7 269.9 L1665.3 270.1 L1666.9 272.4 L1668.5 273.7 L1670.1 272.8 L1671.7 275.5 L1673.3 275.4 L1674.9 280.0 L1676.5 278.7 L1678.1 279.2 L1679.7 279.3 L1681.3 277.1 L1682.9 278.6 L1684.5 281.4 L1686.1 278.9 L1687.7 277.8 L1689.3 278.6 L1690.9 281.1 L1692.5 280.6 L1694.1 282.6 L1695.7 284.7 L1697.3 287.6 L1698.9 285.6 L1700.5 289.2 L1702.1 290.4 L1703.7 285.9 L1705.3 284.2 L1706.9 284.9 L1708.5 284.0 L1710.1 284.0 L1711.7 284.9 L1713.3 284.5 L1714.9 284.6 L1716.5 286.1 L1718.1 286.1" fill="none" stroke="#b10026" stroke-width="5.4" stroke-linejoin="round" stroke-linecap="round"/>
<line x1="853.75" y1="95.50" x2="853.75" y2="360.00" stroke="#262626" stroke-width="5"/>
<line x1="851.50" y1="351.00" x2="1719.00" y2="351.00" stroke="#262626" stroke-width="5"/>
<line x1="845.00" y1="113.40" x2="855.00" y2="113.40" stroke="#262626" stroke-width="5"/>
<text x="840.5" y="132.4" font-size="36.5" fill="#262626" text-anchor="end">0.2</text>
<line x1="845.00" y1="186.70" x2="855.00" y2="186.70" stroke="#262626" stroke-width="5"/>
<text x="840.5" y="205.7" font-size="36.5" fill="#262626" text-anchor="end">0.1</text>
<line x1="845.00" y1="260.00" x2="855.00" y2="260.00" stroke="#262626" stroke-width="5"/>
<text x="840.5" y="279" font-size="36.5" fill="#262626" text-anchor="end">0</text>
<line x1="845.00" y1="333.30" x2="855.00" y2="333.30" stroke="#262626" stroke-width="5"/>
<text x="840.5" y="352.3" font-size="36.5" fill="#262626" text-anchor="end">-0.1</text>
<line x1="853.50" y1="349.00" x2="853.50" y2="360.00" stroke="#262626" stroke-width="5"/>
<text x="852.0" y="403.75" font-size="37" fill="#262626" text-anchor="middle">-0.2</text>
<line x1="1046.00" y1="349.00" x2="1046.00" y2="360.00" stroke="#262626" stroke-width="5"/>
<text x="1042.2" y="403.75" font-size="37" fill="#262626" text-anchor="middle">0</text>
<line x1="1238.50" y1="349.00" x2="1238.50" y2="360.00" stroke="#262626" stroke-width="5"/>
<text x="1236.2" y="403.75" font-size="37" fill="#262626" text-anchor="middle">0.2</text>
<line x1="1431.00" y1="349.00" x2="1431.00" y2="360.00" stroke="#262626" stroke-width="5"/>
<text x="1426.3" y="403.75" font-size="37" fill="#262626" text-anchor="middle">0.4</text>
<line x1="1623.50" y1="349.00" x2="1623.50" y2="360.00" stroke="#262626" stroke-width="5"/>
<text x="1619.8" y="403.75" font-size="37" fill="#262626" text-anchor="middle">0.6</text>
<text transform="translate(764.5,232.2) rotate(-90)" font-size="36.6" fill="#262626" text-anchor="middle">norm. imps/s</text>
<text x="1558.6" y="68.7" font-size="36.4" fill="#000" text-anchor="middle">Rew mag</text>
<path d="M1495.80 92.60 C1496.74 96.67 1500.09 99.38 1502.19 102.57 C1503.75 104.67 1503.60 106.23 1503.60 107.40 A7.80 7.80 0 0 1 1488.00 107.40 C1488.00 106.23 1487.85 104.67 1489.41 102.57 C1491.51 99.38 1494.86 96.67 1495.80 92.60Z" fill="#7030a0"/>
<path d="M1490.57 104.96 A5.77 5.77 0 0 0 1494.02 112.89 A28.85 28.85 0 0 1 1490.57 104.96 Z" fill="#fff"/>
<path d="M1556.70 85.50 C1557.93 90.85 1562.34 94.41 1565.10 98.60 C1567.15 101.37 1566.95 103.42 1566.95 104.95 A10.25 10.25 0 0 1 1546.45 104.95 C1546.45 103.42 1546.25 101.37 1548.30 98.60 C1551.06 94.41 1555.47 90.85 1556.70 85.50Z" fill="#7030a0"/>
<path d="M1549.83 101.75 A7.58 7.58 0 0 0 1554.36 112.16 A37.91 37.91 0 0 1 1549.83 101.75 Z" fill="#fff"/>
<path d="M1616.00 80.00 C1617.66 87.20 1623.59 92.00 1627.32 97.64 C1630.08 101.37 1629.80 104.13 1629.80 106.20 A13.80 13.80 0 0 1 1602.20 106.20 C1602.20 104.13 1601.92 101.37 1604.68 97.64 C1608.41 92.00 1614.34 87.20 1616.00 80.00Z" fill="#7030a0"/>
<path d="M1606.74 101.88 A10.21 10.21 0 0 0 1612.84 115.91 A51.06 51.06 0 0 1 1606.74 101.88 Z" fill="#fff"/>
<rect x="1467.40" y="124.00" width="56.60" height="56.60" rx="2.2" fill="#fd8d3c"/>
<g transform="translate(1472.40,129.00) scale(0.4660)" clip-path="url(#clip7)"><rect x="0" y="0" width="100" height="100" fill="url(#g8)"/><path d="M0 0 L20 0 L14 30 L0 45Z" fill="#5a1020" opacity="0.55"/><rect x="11.0" y="89.8" width="2.4" height="2.4" fill="#ffffff" opacity="0.75"/><rect x="25.5" y="12.7" width="2.4" height="2.4" fill="#ffffff" opacity="0.75"/><rect x="35.8" y="13.8" width="2.4" height="2.4" fill="#ffffff" opacity="0.75"/><rect x="38.1" y="93.5" width="2.4" height="2.4" fill="#ffffff" opacity="0.75"/><rect x="17.6" y="4.9" width="2.4" height="2.4" fill="#ffffff" opacity="0.75"/><rect x="34.5" y="45.4" width="2.4" height="2.4" fill="#ffffff" opacity="0.75"/><rect x="4.5" y="27.0" width="2.4" height="2.4" fill="#ffffff" opacity="0.75"/><rect x="72.4" y="96.9" width="2.4" height="2.4" fill="#ffffff" opacity="0.75"/><rect x="17.9" y="76.2" width="2.4" height="2.4" fill="#ffffff" opacity="0.75"/><rect x="45.0" y="77.1" width="2.4" height="2.4" fill="#ffffff" opacity="0.75"/><rect x="43.9" y="9.9" width="2.4" height="2.4" fill="#ffffff" opacity="0.75"/><rect x="2.9" y="12.8" width="2.4" height="2.4" fill="#ffffff" opacity="0.75"/><rect x="51.8" y="95.2" width="2.4" height="2.4" fill="#ffffff" opacity="0.75"/><rect x="3.2" y="19.9" width="2.4" height="2.4" fill="#ffffff" opacity="0.75"/><rect x="30.8" y="84.8" width="2.4" height="2.4" fill="#ffffff" opacity="0.75"/><rect x="72.5" y="84.7" width="2.4" height="2.4" fill="#ffffff" opacity="0.75"/><rect x="2.3" y="50.5" width="2.4" height="2.4" fill="#ffffff" opacity="0.75"/><rect x="20.7" y="61.0" width="2.4" height="2.4" fill="#ffffff" opacity="0.75"/><rect x="61.2" y="1.7" width="2.4" height="2.4" fill="#ffffff" opacity="0.75"/><rect x="11.8" y="10.0" width="2.4" height="2.4" fill="#ffffff" opacity="0.75"/><rect x="67.3" y="91.9" width="2.4" height="2.4" fill="#ffffff" opacity="0.75"/><rect x="48.6" y="2.9" width="2.4" height="2.4" fill="#ffffff" opacity="0.75"/><rect x="39.5" y="74.5" width="2.4" height="2.4" fill="#ffffff" opacity="0.75"/><rect x="4.0" y="98.9" width="2.4" height="2.4" fill="#ffffff" opacity="0.75"/><rect x="35.9" y="85.3" width="2.4" height="2.4" fill="#ffffff" opacity="0.75"/><rect x="23.0" y="64.2" width="2.4" height="2.4" fill="#ffffff" opacity="0.75"/><rect x="20.6" y="52.9" width="2.4" height="2.4" fill="#ffffff" opacity="0.75"/><rect x="27.7" y="24.0" width="2.4" height="2.4" fill="#ffffff" opacity="0.75"/><rect x="44.3" y="19.8" width="2.4" height="2.4" fill="#ffffff" opacity="0.75"/><rect x="94.4" y="0.2" width="2.4" height="2.4" fill="#ffffff" opacity="0.75"/><rect x="22.3" y="99.5" width="2.4" height="2.4" fill="#ffffff" opacity="0.75"/><rect x="38.6" y="8.2" width="2.4" height="2.4" fill="#ffffff" opacity="0.75"/><rect x="1.1" y="68.9" width="2.4" height="2.4" fill="#ffffff" opacity="0.75"/><rect x="1.3" y="42.3" width="2.4" height="2.4" fill="#ffffff" opacity="0.75"/><rect x="19.9" y="67.1" width="2.4" height="2.4" fill="#ffffff" opacity="0.75"/><rect x="8.0" y="82.4" width="2.4" height="2.4" fill="#ffffff" opacity="0.75"/><rect x="22.4" y="38.0" width="2.4" height="2.4" fill="#ffffff" opacity="0.75"/><rect x="25.6" y="26.5" width="2.4" height="2.4" fill="#ffffff" opacity="0.75"/><rect x="15.7" y="26.5" width="2.4" height="2.4" fill="#ffffff" opacity="0.75"/><rect x="25.2" y="97.1" width="2.4" height="2.4" fill="#ffffff" opacity="0.75"/><rect x="56.9" y="88.8" width="2.4" height="2.4" fill="#ffffff" opacity="0.75"/><rect x="4.6" y="26.4" width="2.4" height="2.4" fill="#ffffff" opacity="0.75"/><circle cx="77" cy="47" r="37" fill="#e8b860" opacity="0.85"/><circle cx="45" cy="68" r="13.5" fill="#e8b860" opacity="0.85"/><circle cx="77" cy="47" r="33.2" fill="#604060"/><circle cx="45" cy="68" r="9.7" fill="#604060"/><circle cx="77" cy="47" r="31" fill="#000"/><circle cx="45" cy="68" r="7.5" fill="#000"/></g>
<rect x="1528.60" y="124.00" width="56.60" height="56.60" rx="2.2" fill="#fc4e2a"/>
<g transform="translate(1533.60,129.00) scale(0.4660)" clip-path="url(#clip9)"><rect x="0" y="0" width="100" height="100" fill="url(#g10)"/><path d="M70 0 L100 0 L100 35 Z" fill="#0a1c70" opacity="0.8"/><line x1="68.0" y1="52.0" x2="123.0" y2="52.0" stroke="#ffffff" stroke-width="0.9" opacity="0.55"/><line x1="67.3" y1="57.2" x2="120.4" y2="71.4" stroke="#ffffff" stroke-width="0.9" opacity="0.55"/><line x1="65.3" y1="62.0" x2="113.0" y2="89.5" stroke="#ffffff" stroke-width="0.9" opacity="0.55"/><line x1="62.1" y1="66.1" x2="101.0" y2="105.0" stroke="#ffffff" stroke-width="0.9" opacity="0.55"/><line x1="58.0" y1="69.3" x2="85.5" y2="117.0" stroke="#ffffff" stroke-width="0.9" opacity="0.55"/><line x1="53.2" y1="71.3" x2="67.4" y2="124.4" stroke="#ffffff" stroke-width="0.9" opacity="0.55"/><line x1="48.0" y1="72.0" x2="48.0" y2="127.0" stroke="#ffffff" stroke-width="0.9" opacity="0.55"/><line x1="42.8" y1="71.3" x2="28.6" y2="124.4" stroke="#ffffff" stroke-width="0.9" opacity="0.55"/><line x1="38.0" y1="69.3" x2="10.5" y2="117.0" stroke="#ffffff" stroke-width="0.9" opacity="0.55"/><line x1="33.9" y1="66.1" x2="-5.0" y2="105.0" stroke="#ffffff" stroke-width="0.9" opacity="0.55"/><line x1="30.7" y1="62.0" x2="-17.0" y2="89.5" stroke="#ffffff" stroke-width="0.9" opacity="0.55"/><line x1="28.7" y1="57.2" x2="-24.4" y2="71.4" stroke="#ffffff" stroke-width="0.9" opacity="0.55"/><line x1="28.0" y1="52.0" x2="-27.0" y2="52.0" stroke="#ffffff" stroke-width="0.9" opacity="0.55"/><line x1="28.7" y1="46.8" x2="-24.4" y2="32.6" stroke="#ffffff" stroke-width="0.9" opacity="0.55"/><line x1="30.7" y1="42.0" x2="-17.0" y2="14.5" stroke="#ffffff" stroke-width="0.9" opacity="0.55"/><line x1="33.9" y1="37.9" x2="-5.0" y2="-1.0" stroke="#ffffff" stroke-width="0.9" opacity="0.55"/><line x1="38.0" y1="34.7" x2="10.5" y2="-13.0" stroke="#ffffff" stroke-width="0.9" opacity="0.55"/><line x1="42.8" y1="32.7" x2="28.6" y2="-20.4" stroke="#ffffff" stroke-width="0.9" opacity="0.55"/><line x1="48.0" y1="32.0" x2="48.0" y2="-23.0" stroke="#ffffff" stroke-width="0.9" opacity="0.55"/><line x1="53.2" y1="32.7" x2="67.4" y2="-20.4" stroke="#ffffff" stroke-width="0.9" opacity="0.55"/><line x1="58.0" y1="34.7" x2="85.5" y2="-13.0" stroke="#ffffff" stroke-width="0.9" opacity="0.55"/><line x1="62.1" y1="37.9" x2="101.0" y2="-1.0" stroke="#ffffff" stroke-width="0.9" opacity="0.55"/><line x1="65.3" y1="42.0" x2="113.0" y2="14.5" stroke="#ffffff" stroke-width="0.9" opacity="0.55"/><line x1="67.3" y1="46.8" x2="120.4" y2="32.6" stroke="#ffffff" stroke-width="0.9" opacity="0.55"/><circle cx="47" cy="52" r="34" fill="#f8e6a8"/><circle cx="47" cy="52" r="34" fill="none" stroke="#d09030" stroke-width="1.5" stroke-dasharray="2 5"/><circle cx="50" cy="52" r="24" fill="#f0c860"/><circle cx="50" cy="52" r="17" fill="#8a3a10"/><circle cx="50" cy="52" r="12" fill="#b05a18"/><circle cx="50" cy="51" r="7" fill="#101a60"/><circle cx="49" cy="50" r="2.8" fill="#ffffff"/><path d="M80 20 Q98 40 92 70" stroke="#ffffff" stroke-width="6" fill="none" opacity="0.6"/></g>
<rect x="1588.00" y="124.00" width="56.60" height="56.60" rx="2.2" fill="#b10026"/>
<g transform="translate(1593.00,129.00) scale(0.4660)" clip-path="url(#clip11)"><rect x="0" y="0" width="100" height="100" fill="url(#g12)"/><line x1="-1.00" y1="51.00" x2="31.80" y2="51.00" stroke="#ffe000" stroke-width="1.30"/><line x1="-1.00" y1="51.00" x2="31.80" y2="51.00" stroke="#ff3000" stroke-width="0.80"/><line x1="-1.00" y1="51.00" x2="31.80" y2="51.00" stroke="#700000" stroke-width="0.35"/><path d="M91.25 51.00 L91.28 51.00 L91.36 50.99 L91.50 50.96 L91.69 50.91 L91.92 50.82 L92.20 50.69 L92.52 50.51 L92.87 50.28 L93.24 49.99 L93.63 49.63 L94.02 49.20 L94.42 48.70 L94.80 48.12 L95.16 47.48 L95.50 46.75 L95.79 45.96 L96.03 45.09 L96.22 44.16 L96.33 43.17 L96.38 42.12 L96.33 41.03 L96.20 39.89 L95.96 38.72 L95.63 37.53 L95.18 36.32 L94.63 35.12 L93.96 33.92 L93.17 32.74 L92.27 31.60 L91.25 30.50 L90.12 29.46 L88.88 28.48 L87.54 27.58 L86.10 26.78 L84.57 26.07 L82.96 25.48 L81.27 25.00 L79.52 24.66 L77.72 24.44 L75.88 24.37 L74.00 24.44 L72.12 24.67 L70.23 25.04 L68.35 25.57 L66.50 26.25 L64.69 27.09 L62.94 28.07 L61.25 29.20 L59.64 30.47 L58.12 31.87 L56.71 33.40 L55.41 35.04 L54.24 36.79 L53.21 38.64 L52.32 40.57 L51.58 42.57 L51.00 44.63 L50.59 46.73 L50.33 48.86 L50.25 51.00 L50.33 53.14 L50.59 55.27 L51.00 57.37 L51.58 59.43 L52.32 61.43 L53.21 63.36 L54.24 65.21 L55.41 66.96 L56.71 68.60 L58.12 70.13 L59.64 71.53 L61.25 72.80 L62.94 73.93 L64.69 74.91 L66.50 75.75 L68.35 76.43 L70.23 76.96 L72.12 77.33 L74.00 77.56 L75.87 77.63 L77.72 77.56 L79.52 77.34 L81.27 77.00 L82.96 76.52 L84.57 75.93 L86.10 75.22 L87.54 74.42 L88.88 73.52 L90.12 72.54 L91.25 71.50 L92.27 70.40 L93.17 69.26 L93.96 68.08 L94.63 66.88 L95.18 65.68 L95.63 64.47 L95.96 63.28 L96.20 62.11 L96.33 60.97 L96.38 59.88 L96.33 58.83 L96.22 57.84 L96.03 56.91 L95.79 56.04 L95.50 55.25 L95.16 54.52 L94.80 53.88 L94.42 53.30 L94.02 52.80 L93.63 52.37 L93.24 52.01 L92.87 51.72 L92.52 51.49 L92.20 51.31 L91.92 51.18 L91.69 51.09 L91.50 51.04 L91.36 51.01 L91.28 51.00 L91.25 51.00Z" fill="#ffe000" stroke="#ffe000" stroke-width="5.20" stroke-linejoin="round"/><circle cx="40.00" cy="51.00" r="10.25" fill="#ffe000" stroke="#ffe000" stroke-width="5.20"/><circle cx="75.97" cy="20.46" r="3.90" fill="#ffe000" stroke="#ffe000" stroke-width="5.20"/><circle cx="75.97" cy="81.54" r="3.90" fill="#ffe000" stroke="#ffe000" stroke-width="5.20"/><circle cx="27.26" cy="51.00" r="2.38" fill="#ffe000" stroke="#ffe000" stroke-width="5.20"/><circle cx="92.57" cy="29.27" r="1.80" fill="#ffe000" stroke="#ffe000" stroke-width="5.20"/><circle cx="92.57" cy="72.73" r="1.80" fill="#ffe000" stroke="#ffe000" stroke-width="5.20"/><circle cx="60.32" cy="27.93" r="1.52" fill="#ffe000" stroke="#ffe000" stroke-width="5.20"/><circle cx="60.32" cy="74.07" r="1.52" fill="#ffe000" stroke="#ffe000" stroke-width="5.20"/><circle cx="96.56" cy="37.27" r="1.23" fill="#ffe000" stroke="#ffe000" stroke-width="5.20"/><circle cx="96.56" cy="64.73" r="1.23" fill="#ffe000" stroke="#ffe000" stroke-width="5.20"/><path d="M91.25 51.00 L91.28 51.00 L91.36 50.99 L91.50 50.96 L91.69 50.91 L91.92 50.82 L92.20 50.69 L92.52 50.51 L92.87 50.28 L93.24 49.99 L93.63 49.63 L94.02 49.20 L94.42 48.70 L94.80 48.12 L95.16 47.48 L95.50 46.75 L95.79 45.96 L96.03 45.09 L96.22 44.16 L96.33 43.17 L96.38 42.12 L96.33 41.03 L96.20 39.89 L95.96 38.72 L95.63 37.53 L95.18 36.32 L94.63 35.12 L93.96 33.92 L93.17 32.74 L92.27 31.60 L91.25 30.50 L90.12 29.46 L88.88 28.48 L87.54 27.58 L86.10 26.78 L84.57 26.07 L82.96 25.48 L81.27 25.00 L79.52 24.66 L77.72 24.44 L75.88 24.37 L74.00 24.44 L72.12 24.67 L70.23 25.04 L68.35 25.57 L66.50 26.25 L64.69 27.09 L62.94 28.07 L61.25 29.20 L59.64 30.47 L58.12 31.87 L56.71 33.40 L55.41 35.04 L54.24 36.79 L53.21 38.64 L52.32 40.57 L51.58 42.57 L51.00 44.63 L50.59 46.73 L50.33 48.86 L50.25 51.00 L50.33 53.14 L50.59 55.27 L51.00 57.37 L51.58 59.43 L52.32 61.43 L53.21 63.36 L54.24 65.21 L55.41 66.96 L56.71 68.60 L58.12 70.13 L59.64 71.53 L61.25 72.80 L62.94 73.93 L64.69 74.91 L66.50 75.75 L68.35 76.43 L70.23 76.96 L72.12 77.33 L74.00 77.56 L75.87 77.63 L77.72 77.56 L79.52 77.34 L81.27 77.00 L82.96 76.52 L84.57 75.93 L86.10 75.22 L87.54 74.42 L88.88 73.52 L90.12 72.54 L91.25 71.50 L92.27 70.40 L93.17 69.26 L93.96 68.08 L94.63 66.88 L95.18 65.68 L95.63 64.47 L95.96 63.28 L96.20 62.11 L96.33 60.97 L96.38 59.88 L96.33 58.83 L96.22 57.84 L96.03 56.91 L95.79 56.04 L95.50 55.25 L95.16 54.52 L94.80 53.88 L94.42 53.30 L94.02 52.80 L93.63 52.37 L93.24 52.01 L92.87 51.72 L92.52 51.49 L92.20 51.31 L91.92 51.18 L91.69 51.09 L91.50 51.04 L91.36 51.01 L91.28 51.00 L91.25 51.00Z" fill="#ff3000" stroke="#ff3000" stroke-width="3.20" stroke-linejoin="round"/><circle cx="40.00" cy="51.00" r="10.25" fill="#ff3000" stroke="#ff3000" stroke-width="3.20"/><circle cx="75.97" cy="20.46" r="3.90" fill="#ff3000" stroke="#ff3000" stroke-width="3.20"/><circle cx="75.97" cy="81.54" r="3.90" fill="#ff3000" stroke="#ff3000" stroke-width="3.20"/><circle cx="27.26" cy="51.00" r="2.38" fill="#ff3000" stroke="#ff3000" stroke-width="3.20"/><circle cx="92.57" cy="29.27" r="1.80" fill="#ff3000" stroke="#ff3000" stroke-width="3.20"/><circle cx="92.57" cy="72.73" r="1.80" fill="#ff3000" stroke="#ff3000" stroke-width="3.20"/><circle cx="60.32" cy="27.93" r="1.52" fill="#ff3000" stroke="#ff3000" stroke-width="3.20"/><circle cx="60.32" cy="74.07" r="1.52" fill="#ff3000" stroke="#ff3000" stroke-width="3.20"/><circle cx="96.56" cy="37.27" r="1.23" fill="#ff3000" stroke="#ff3000" stroke-width="3.20"/><circle cx="96.56" cy="64.73" r="1.23" fill="#ff3000" stroke="#ff3000" stroke-width="3.20"/><path d="M91.25 51.00 L91.28 51.00 L91.36 50.99 L91.50 50.96 L91.69 50.91 L91.92 50.82 L92.20 50.69 L92.52 50.51 L92.87 50.28 L93.24 49.99 L93.63 49.63 L94.02 49.20 L94.42 48.70 L94.80 48.12 L95.16 47.48 L95.50 46.75 L95.79 45.96 L96.03 45.09 L96.22 44.16 L96.33 43.17 L96.38 42.12 L96.33 41.03 L96.20 39.89 L95.96 38.72 L95.63 37.53 L95.18 36.32 L94.63 35.12 L93.96 33.92 L93.17 32.74 L92.27 31.60 L91.25 30.50 L90.12 29.46 L88.88 28.48 L87.54 27.58 L86.10 26.78 L84.57 26.07 L82.96 25.48 L81.27 25.00 L79.52 24.66 L77.72 24.44 L75.88 24.37 L74.00 24.44 L72.12 24.67 L70.23 25.04 L68.35 25.57 L66.50 26.25 L64.69 27.09 L62.94 28.07 L61.25 29.20 L59.64 30.47 L58.12 31.87 L56.71 33.40 L55.41 35.04 L54.24 36.79 L53.21 38.64 L52.32 40.57 L51.58 42.57 L51.00 44.63 L50.59 46.73 L50.33 48.86 L50.25 51.00 L50.33 53.14 L50.59 55.27 L51.00 57.37 L51.58 59.43 L52.32 61.43 L53.21 63.36 L54.24 65.21 L55.41 66.96 L56.71 68.60 L58.12 70.13 L59.64 71.53 L61.25 72.80 L62.94 73.93 L64.69 74.91 L66.50 75.75 L68.35 76.43 L70.23 76.96 L72.12 77.33 L74.00 77.56 L75.87 77.63 L77.72 77.56 L79.52 77.34 L81.27 77.00 L82.96 76.52 L84.57 75.93 L86.10 75.22 L87.54 74.42 L88.88 73.52 L90.12 72.54 L91.25 71.50 L92.27 70.40 L93.17 69.26 L93.96 68.08 L94.63 66.88 L95.18 65.68 L95.63 64.47 L95.96 63.28 L96.20 62.11 L96.33 60.97 L96.38 59.88 L96.33 58.83 L96.22 57.84 L96.03 56.91 L95.79 56.04 L95.50 55.25 L95.16 54.52 L94.80 53.88 L94.42 53.30 L94.02 52.80 L93.63 52.37 L93.24 52.01 L92.87 51.72 L92.52 51.49 L92.20 51.31 L91.92 51.18 L91.69 51.09 L91.50 51.04 L91.36 51.01 L91.28 51.00 L91.25 51.00Z" fill="#700000" stroke="#700000" stroke-width="1.40" stroke-linejoin="round"/><circle cx="40.00" cy="51.00" r="10.25" fill="#700000" stroke="#700000" stroke-width="1.40"/><circle cx="75.97" cy="20.46" r="3.90" fill="#700000" stroke="#700000" stroke-width="1.40"/><circle cx="75.97" cy="81.54" r="3.90" fill="#700000" stroke="#700000" stroke-width="1.40"/><circle cx="27.26" cy="51.00" r="2.38" fill="#700000" stroke="#700000" stroke-width="1.40"/><circle cx="92.57" cy="29.27" r="1.80" fill="#700000" stroke="#700000" stroke-width="1.40"/><circle cx="92.57" cy="72.73" r="1.80" fill="#700000" stroke="#700000" stroke-width="1.40"/><circle cx="60.32" cy="27.93" r="1.52" fill="#700000" stroke="#700000" stroke-width="1.40"/><circle cx="60.32" cy="74.07" r="1.52" fill="#700000" stroke="#700000" stroke-width="1.40"/><circle cx="96.56" cy="37.27" r="1.23" fill="#700000" stroke="#700000" stroke-width="1.40"/><circle cx="96.56" cy="64.73" r="1.23" fill="#700000" stroke="#700000" stroke-width="1.40"/><path d="M91.25 51.00 L91.28 51.00 L91.36 50.99 L91.50 50.96 L91.69 50.91 L91.92 50.82 L92.20 50.69 L92.52 50.51 L92.87 50.28 L93.24 49.99 L93.63 49.63 L94.02 49.20 L94.42 48.70 L94.80 48.12 L95.16 47.48 L95.50 46.75 L95.79 45.96 L96.03 45.09 L96.22 44.16 L96.33 43.17 L96.38 42.12 L96.33 41.03 L96.20 39.89 L95.96 38.72 L95.63 37.53 L95.18 36.32 L94.63 35.12 L93.96 33.92 L93.17 32.74 L92.27 31.60 L91.25 30.50 L90.12 29.46 L88.88 28.48 L87.54 27.58 L86.10 26.78 L84.57 26.07 L82.96 25.48 L81.27 25.00 L79.52 24.66 L77.72 24.44 L75.88 24.37 L74.00 24.44 L72.12 24.67 L70.23 25.04 L68.35 25.57 L66.50 26.25 L64.69 27.09 L62.94 28.07 L61.25 29.20 L59.64 30.47 L58.12 31.87 L56.71 33.40 L55.41 35.04 L54.24 36.79 L53.21 38.64 L52.32 40.57 L51.58 42.57 L51.00 44.63 L50.59 46.73 L50.33 48.86 L50.25 51.00 L50.33 53.14 L50.59 55.27 L51.00 57.37 L51.58 59.43 L52.32 61.43 L53.21 63.36 L54.24 65.21 L55.41 66.96 L56.71 68.60 L58.12 70.13 L59.64 71.53 L61.25 72.80 L62.94 73.93 L64.69 74.91 L66.50 75.75 L68.35 76.43 L70.23 76.96 L72.12 77.33 L74.00 77.56 L75.87 77.63 L77.72 77.56 L79.52 77.34 L81.27 77.00 L82.96 76.52 L84.57 75.93 L86.10 75.22 L87.54 74.42 L88.88 73.52 L90.12 72.54 L91.25 71.50 L92.27 70.40 L93.17 69.26 L93.96 68.08 L94.63 66.88 L95.18 65.68 L95.63 64.47 L95.96 63.28 L96.20 62.11 L96.33 60.97 L96.38 59.88 L96.33 58.83 L96.22 57.84 L96.03 56.91 L95.79 56.04 L95.50 55.25 L95.16 54.52 L94.80 53.88 L94.42 53.30 L94.02 52.80 L93.63 52.37 L93.24 52.01 L92.87 51.72 L92.52 51.49 L92.20 51.31 L91.92 51.18 L91.69 51.09 L91.50 51.04 L91.36 51.01 L91.28 51.00 L91.25 51.00Z" fill="#000"/><circle cx="40.00" cy="51.00" r="10.25" fill="#000"/><circle cx="75.97" cy="20.46" r="3.90" fill="#000"/><circle cx="75.97" cy="81.54" r="3.90" fill="#000"/><circle cx="27.26" cy="51.00" r="2.38" fill="#000"/><circle cx="92.57" cy="29.27" r="1.80" fill="#000"/><circle cx="92.57" cy="72.73" r="1.80" fill="#000"/><circle cx="60.32" cy="27.93" r="1.52" fill="#000"/><circle cx="60.32" cy="74.07" r="1.52" fill="#000"/><circle cx="96.56" cy="37.27" r="1.23" fill="#000"/><circle cx="96.56" cy="64.73" r="1.23" fill="#000"/></g>
<rect x="1475.00" y="186.00" width="42.70" height="11.70" fill="#fd8d3c"/>
<rect x="1536.00" y="186.00" width="42.60" height="11.70" fill="#fc4e2a"/>
<rect x="1596.00" y="186.00" width="42.50" height="11.70" fill="#b10026"/>
<rect x="1219.25" y="432.60" width="173.25" height="259.00" fill="#e5e5e5"/>
<line x1="1046" y1="433" x2="1046" y2="692" stroke="#a0a0a0" stroke-width="1.8" stroke-dasharray="6.5 5"/>
<path d="M852.5 581.7 L854.1 579.1 L855.7 574.7 L857.3 574.4 L858.9 572.2 L860.5 570.3 L862.1 569.0 L863.7 569.9 L865.3 568.9 L866.9 568.2 L868.5 564.9 L870.1 562.3 L871.7 559.5 L873.3 558.6 L874.9 553.6 L876.5 559.6 L878.1 561.5 L879.7 563.2 L881.3 566.1 L882.9 566.1 L884.5 565.8 L886.1 566.1 L887.7 562.3 L889.3 565.2 L890.9 563.9 L892.5 563.7 L894.1 560.7 L895.7 558.8 L897.3 559.5 L898.9 555.1 L900.5 551.7 L902.1 550.0 L903.7 549.7 L905.3 542.6 L906.9 543.9 L908.5 541.8 L910.1 540.6 L911.7 538.8 L913.3 540.7 L914.9 544.4 L916.5 544.2 L918.1 543.8 L919.7 544.5 L921.3 544.5 L922.9 546.4 L924.5 546.5 L926.1 545.4 L927.7 546.9 L929.3 544.7 L930.9 542.9 L932.5 548.2 L934.1 546.4 L935.7 549.3 L937.3 548.3 L938.9 547.7 L940.5 548.8 L942.1 547.3 L943.7 546.8 L945.3 547.9 L946.9 548.6 L948.5 551.0 L950.1 554.5 L951.7 551.8 L953.3 551.0 L954.9 553.5 L956.5 555.3 L958.1 558.2 L959.7 557.6 L961.3 560.1 L962.9 561.1 L964.5 558.9 L966.1 561.0 L967.7 559.0 L969.3 561.5 L970.9 561.4 L972.5 561.9 L974.1 566.1 L975.7 567.5 L977.3 572.5 L978.9 578.2 L980.5 582.4 L982.1 588.8 L983.7 592.9 L985.3 594.6 L986.9 591.8 L988.5 590.6 L990.1 588.6 L991.7 588.1 L993.3 583.7 L994.9 580.5 L996.5 581.2 L998.1 583.2 L999.7 586.3 L1001.3 589.1 L1002.9 588.1 L1004.5 585.9 L1006.1 588.9 L1007.7 585.4 L1009.3 583.6 L1010.9 576.4 L1012.5 575.2 L1014.1 573.5 L1015.7 570.0 L1017.3 572.5 L1018.9 574.7 L1020.5 577.1 L1022.1 580.9 L1023.7 584.0 L1025.3 586.4 L1026.9 585.8 L1028.5 583.9 L1030.1 583.0 L1031.7 581.8 L1033.3 578.9 L1034.9 578.8 L1036.5 579.1 L1038.1 576.7 L1039.7 575.8 L1041.3 579.6 L1042.9 580.5 L1044.5 580.8 L1046.1 583.9 L1047.7 583.0 L1049.3 585.5 L1050.9 585.7 L1052.5 586.9 L1054.1 589.5 L1055.7 591.1 L1057.3 588.9 L1058.9 583.1 L1060.5 582.0 L1062.1 579.6 L1063.7 580.9 L1065.3 581.9 L1066.9 582.9 L1068.5 588.5 L1070.1 593.9 L1071.7 598.2 L1073.3 595.4 L1074.9 595.3 L1076.5 592.8 L1078.1 589.6 L1079.7 589.1 L1081.3 590.9 L1082.9 590.2 L1084.5 587.8 L1086.1 591.7 L1087.7 592.5 L1089.3 593.9 L1090.9 593.3 L1092.5 591.4 L1094.1 588.9 L1095.7 581.7 L1097.3 577.7 L1098.9 572.8 L1100.5 569.4 L1102.1 568.9 L1103.7 568.8 L1105.3 566.0 L1106.9 567.3 L1108.5 564.0 L1110.1 565.5 L1111.7 565.2 L1113.3 564.0 L1114.9 561.3 L1116.5 559.5 L1118.1 555.5 L1119.7 556.2 L1121.3 555.9 L1122.9 556.3 L1124.5 556.7 L1126.1 555.1 L1127.7 552.6 L1129.3 552.5 L1130.9 550.1 L1132.5 548.1 L1134.1 544.4 L1135.7 545.2 L1137.3 542.3 L1138.9 544.5 L1140.5 540.7 L1142.1 538.7 L1143.7 537.9 L1145.3 535.7 L1146.9 532.9 L1148.5 535.7 L1150.1 539.1 L1151.7 543.4 L1153.3 539.4 L1154.9 532.6 L1156.5 524.9 L1158.1 517.9 L1159.7 517.6 L1161.3 522.2 L1162.9 526.8 L1164.5 530.5 L1166.1 534.2 L1167.7 535.1 L1169.3 535.6 L1170.9 539.8 L1172.5 540.3 L1174.1 542.0 L1175.7 542.0 L1177.3 546.9 L1178.9 549.2 L1180.5 553.6 L1182.1 558.3 L1183.7 560.4 L1185.3 561.4 L1186.9 562.7 L1188.5 568.7 L1190.1 570.0 L1191.7 572.2 L1193.3 573.5 L1194.9 569.1 L1196.5 573.1 L1198.1 576.0 L1199.7 578.4 L1201.3 582.0 L1202.9 586.3 L1204.5 588.3 L1206.1 593.7 L1207.7 596.6 L1209.3 600.9 L1210.9 607.3 L1212.5 610.3 L1214.1 611.6 L1215.7 616.8 L1217.3 619.2 L1218.9 625.3 L1220.5 631.3 L1222.1 630.5 L1223.7 632.2 L1225.3 632.7 L1226.9 635.3 L1228.5 640.6 L1230.1 646.5 L1231.7 651.5 L1233.3 652.4 L1234.9 655.1 L1236.5 658.5 L1238.1 663.6 L1239.7 663.1 L1241.3 667.6 L1242.9 667.7 L1244.5 666.7 L1246.1 671.8 L1247.7 673.3 L1249.3 672.6 L1250.9 676.3 L1252.5 681.3 L1254.1 682.7 L1255.7 688.1 L1257.3 686.8 L1258.9 689.1 L1260.5 688.4 L1262.1 686.7 L1263.7 687.6 L1265.3 688.3 L1266.9 689.3 L1268.5 686.9 L1270.1 686.5 L1271.7 688.4 L1273.3 688.2 L1274.9 687.7 L1276.5 686.8 L1278.1 682.2 L1279.7 683.6 L1281.3 678.9 L1282.9 677.0 L1284.5 674.8 L1286.1 674.7 L1287.7 671.7 L1289.3 668.7 L1290.9 669.3 L1292.5 671.2 L1294.1 671.4 L1295.7 675.3 L1297.3 675.8 L1298.9 677.4 L1300.5 678.0 L1302.1 676.6 L1303.7 673.4 L1305.3 674.0 L1306.9 670.7 L1308.5 669.1 L1310.1 669.8 L1311.7 668.9 L1313.3 664.7 L1314.9 663.1 L1316.5 660.8 L1318.1 662.2 L1319.7 660.0 L1321.3 658.9 L1322.9 656.6 L1324.5 655.1 L1326.1 655.6 L1327.7 652.7 L1329.3 652.2 L1330.9 650.5 L1332.5 649.3 L1334.1 646.6 L1335.7 648.4 L1337.3 644.5 L1338.9 642.6 L1340.5 642.4 L1342.1 642.7 L1343.7 641.1 L1345.3 638.4 L1346.9 638.3 L1348.5 637.0 L1350.1 636.3 L1351.7 641.5 L1353.3 639.8 L1354.9 643.0 L1356.5 646.2 L1358.1 647.7 L1359.7 649.5 L1361.3 652.4 L1362.9 651.3 L1364.5 648.1 L1366.1 648.3 L1367.7 649.5 L1369.3 648.8 L1370.9 648.0 L1372.5 648.5 L1374.1 647.6 L1375.7 647.9 L1377.3 648.7 L1378.9 646.9 L1380.5 644.3 L1382.1 647.2 L1383.7 646.7 L1385.3 643.5 L1386.9 640.0 L1388.5 639.6 L1390.1 639.0 L1391.7 638.1 L1393.3 636.4 L1394.9 633.3 L1396.5 630.8 L1398.1 626.8 L1399.7 624.9 L1401.3 624.2 L1402.9 627.3 L1404.5 625.4 L1406.1 629.5 L1407.7 630.4 L1409.3 628.9 L1410.9 628.2 L1412.5 630.1 L1414.1 631.9 L1415.7 633.9 L1417.3 631.8 L1418.9 633.3 L1420.5 636.0 L1422.1 637.7 L1423.7 637.8 L1425.3 637.0 L1426.9 637.2 L1428.5 636.0 L1430.1 638.8 L1431.7 638.3 L1433.3 636.1 L1434.9 632.7 L1436.5 630.9 L1438.1 629.8 L1439.7 628.1 L1441.3 628.8 L1442.9 629.1 L1444.5 626.9 L1446.1 621.7 L1447.7 620.9 L1449.3 617.9 L1450.9 616.4 L1452.5 617.1 L1454.1 610.6 L1455.7 606.6 L1457.3 604.4 L1458.9 604.3 L1460.5 601.4 L1462.1 597.2 L1463.7 598.5 L1465.3 599.3 L1466.9 600.3 L1468.5 598.7 L1470.1 599.1 L1471.7 596.3 L1473.3 596.7 L1474.9 597.0 L1476.5 594.5 L1478.1 592.7 L1479.7 593.7 L1481.3 590.9 L1482.9 588.0 L1484.5 587.1 L1486.1 586.7 L1487.7 586.3 L1489.3 583.2 L1490.9 582.3 L1492.5 579.6 L1494.1 577.4 L1495.7 581.4 L1497.3 578.3 L1498.9 575.0 L1500.5 575.7 L1502.1 574.1 L1503.7 575.1 L1505.3 570.3 L1506.9 569.4 L1508.5 572.0 L1510.1 571.8 L1511.7 569.5 L1513.3 571.6 L1514.9 571.7 L1516.5 569.3 L1518.1 569.8 L1519.7 569.0 L1521.3 565.3 L1522.9 564.7 L1524.5 566.1 L1526.1 565.1 L1527.7 563.9 L1529.3 565.1 L1530.9 567.9 L1532.5 568.2 L1534.1 566.2 L1535.7 562.7 L1537.3 565.6 L1538.9 565.4 L1540.5 566.7 L1542.1 566.2 L1543.7 566.2 L1545.3 567.6 L1546.9 567.3 L1548.5 567.7 L1550.1 567.8 L1551.7 566.2 L1553.3 570.7 L1554.9 573.5 L1556.5 572.9 L1558.1 573.2 L1559.7 577.9 L1561.3 578.1 L1562.9 576.0 L1564.5 573.0 L1566.1 575.5 L1567.7 575.8 L1569.3 572.4 L1570.9 572.5 L1572.5 569.5 L1574.1 568.2 L1575.7 569.0 L1577.3 566.9 L1578.9 564.5 L1580.5 561.5 L1582.1 562.2 L1583.7 558.9 L1585.3 554.1 L1586.9 555.1 L1588.5 550.0 L1590.1 546.6 L1591.7 546.0 L1593.3 543.9 L1594.9 542.5 L1596.5 541.6 L1598.1 539.0 L1599.7 536.2 L1601.3 534.9 L1602.9 535.5 L1604.5 533.5 L1606.1 534.2 L1607.7 532.8 L1609.3 532.3 L1610.9 534.5 L1612.5 535.8 L1614.1 536.8 L1615.7 538.5 L1617.3 541.7 L1618.9 542.6 L1620.5 542.2 L1622.1 541.9 L1623.7 542.3 L1625.3 542.7 L1626.9 542.4 L1628.5 539.9 L1630.1 541.0 L1631.7 541.2 L1633.3 541.2 L1634.9 534.3 L1636.5 535.5 L1638.1 535.7 L1639.7 531.5 L1641.3 535.3 L1642.9 532.5 L1644.5 533.2 L1646.1 534.6 L1647.7 536.8 L1649.3 536.2 L1650.9 535.4 L1652.5 533.3 L1654.1 534.7 L1655.7 536.9 L1657.3 535.1 L1658.9 538.8 L1660.5 534.2 L1662.1 535.2 L1663.7 539.9 L1665.3 545.8 L1666.9 551.7 L1668.5 555.6 L1670.1 554.9 L1671.7 553.4 L1673.3 553.7 L1674.9 555.5 L1676.5 556.1 L1678.1 557.8 L1679.7 559.3 L1681.3 560.6 L1682.9 563.0 L1684.5 563.8 L1686.1 561.8 L1687.7 561.9 L1689.3 562.6 L1690.9 563.3 L1692.5 566.0 L1694.1 566.4 L1695.7 565.2 L1697.3 566.1 L1698.9 562.3 L1700.5 561.2 L1702.1 562.0 L1703.7 560.2 L1705.3 557.8 L1706.9 555.7 L1708.5 556.9 L1710.1 556.7 L1711.7 557.9 L1713.3 557.1 L1714.9 551.1 L1716.5 544.9" fill="none" stroke="#7fcdbb" stroke-width="5.4" stroke-linejoin="round" stroke-linecap="round"/>
<path d="M852.5 609.6 L854.1 611.7 L855.7 612.2 L857.3 617.4 L858.9 615.8 L860.5 618.3 L862.1 621.9 L863.7 621.6 L865.3 619.9 L866.9 615.6 L868.5 616.8 L870.1 612.6 L871.7 610.5 L873.3 608.5 L874.9 606.6 L876.5 604.4 L878.1 606.0 L879.7 604.0 L881.3 603.8 L882.9 599.2 L884.5 599.5 L886.1 598.3 L887.7 598.7 L889.3 598.5 L890.9 598.6 L892.5 597.7 L894.1 597.3 L895.7 597.0 L897.3 596.9 L898.9 596.3 L900.5 595.2 L902.1 595.6 L903.7 593.7 L905.3 596.9 L906.9 596.7 L908.5 598.2 L910.1 597.9 L911.7 596.6 L913.3 596.3 L914.9 598.0 L916.5 597.6 L918.1 596.5 L919.7 595.3 L921.3 595.3 L922.9 590.1 L924.5 593.5 L926.1 591.9 L927.7 591.4 L929.3 587.8 L930.9 588.6 L932.5 586.0 L934.1 586.4 L935.7 585.2 L937.3 583.5 L938.9 581.1 L940.5 578.7 L942.1 576.5 L943.7 577.6 L945.3 578.9 L946.9 580.6 L948.5 585.5 L950.1 585.4 L951.7 585.3 L953.3 584.5 L954.9 585.0 L956.5 590.4 L958.1 595.8 L959.7 596.3 L961.3 597.3 L962.9 600.3 L964.5 603.3 L966.1 607.1 L967.7 608.4 L969.3 609.4 L970.9 612.9 L972.5 613.3 L974.1 613.7 L975.7 615.4 L977.3 616.8 L978.9 617.6 L980.5 618.9 L982.1 619.8 L983.7 624.1 L985.3 623.6 L986.9 619.1 L988.5 617.4 L990.1 618.7 L991.7 617.7 L993.3 621.5 L994.9 619.5 L996.5 618.7 L998.1 619.8 L999.7 620.3 L1001.3 622.1 L1002.9 622.2 L1004.5 623.5 L1006.1 622.9 L1007.7 618.0 L1009.3 619.4 L1010.9 621.6 L1012.5 618.2 L1014.1 616.4 L1015.7 617.0 L1017.3 615.1 L1018.9 614.7 L1020.5 613.6 L1022.1 613.9 L1023.7 612.6 L1025.3 614.8 L1026.9 613.2 L1028.5 612.4 L1030.1 610.3 L1031.7 611.7 L1033.3 611.1 L1034.9 613.3 L1036.5 613.7 L1038.1 613.7 L1039.7 606.7 L1041.3 602.6 L1042.9 600.1 L1044.5 593.1 L1046.1 592.8 L1047.7 593.5 L1049.3 590.3 L1050.9 587.3 L1052.5 588.1 L1054.1 587.1 L1055.7 586.3 L1057.3 586.6 L1058.9 584.1 L1060.5 586.7 L1062.1 583.4 L1063.7 580.5 L1065.3 577.3 L1066.9 572.2 L1068.5 572.3 L1070.1 574.7 L1071.7 576.9 L1073.3 580.3 L1074.9 584.8 L1076.5 584.6 L1078.1 582.0 L1079.7 579.4 L1081.3 580.7 L1082.9 578.0 L1084.5 577.0 L1086.1 578.3 L1087.7 577.8 L1089.3 578.2 L1090.9 579.3 L1092.5 577.7 L1094.1 579.0 L1095.7 568.7 L1097.3 558.3 L1098.9 546.4 L1100.5 540.3 L1102.1 538.5 L1103.7 539.0 L1105.3 535.9 L1106.9 533.6 L1108.5 535.8 L1110.1 537.3 L1111.7 537.6 L1113.3 538.7 L1114.9 539.8 L1116.5 540.1 L1118.1 539.8 L1119.7 542.0 L1121.3 538.6 L1122.9 541.9 L1124.5 540.7 L1126.1 538.5 L1127.7 538.7 L1129.3 538.5 L1130.9 534.3 L1132.5 533.6 L1134.1 533.6 L1135.7 533.1 L1137.3 531.0 L1138.9 527.5 L1140.5 527.3 L1142.1 530.7 L1143.7 527.6 L1145.3 531.8 L1146.9 529.3 L1148.5 527.7 L1150.1 526.0 L1151.7 525.9 L1153.3 524.0 L1154.9 519.9 L1156.5 521.2 L1158.1 519.6 L1159.7 516.3 L1161.3 510.9 L1162.9 509.9 L1164.5 510.5 L1166.1 512.5 L1167.7 512.3 L1169.3 510.9 L1170.9 511.7 L1172.5 513.2 L1174.1 516.8 L1175.7 521.6 L1177.3 523.2 L1178.9 524.3 L1180.5 531.1 L1182.1 536.7 L1183.7 538.4 L1185.3 544.2 L1186.9 547.4 L1188.5 551.5 L1190.1 554.7 L1191.7 554.6 L1193.3 556.3 L1194.9 559.6 L1196.5 559.2 L1198.1 559.8 L1199.7 561.1 L1201.3 563.3 L1202.9 565.7 L1204.5 567.2 L1206.1 569.8 L1207.7 574.4 L1209.3 576.9 L1210.9 579.0 L1212.5 579.5 L1214.1 580.7 L1215.7 581.5 L1217.3 583.4 L1218.9 584.0 L1220.5 587.8 L1222.1 590.5 L1223.7 592.5 L1225.3 595.4 L1226.9 599.2 L1228.5 606.5 L1230.1 612.3 L1231.7 617.1 L1233.3 619.9 L1234.9 622.0 L1236.5 626.3 L1238.1 626.6 L1239.7 627.5 L1241.3 632.8 L1242.9 636.2 L1244.5 639.0 L1246.1 642.6 L1247.7 643.0 L1249.3 644.4 L1250.9 646.1 L1252.5 645.4 L1254.1 647.3 L1255.7 649.0 L1257.3 649.3 L1258.9 648.8 L1260.5 648.8 L1262.1 647.0 L1263.7 648.7 L1265.3 653.6 L1266.9 656.7 L1268.5 656.9 L1270.1 656.5 L1271.7 659.8 L1273.3 662.2 L1274.9 663.5 L1276.5 663.0 L1278.1 665.8 L1279.7 668.2 L1281.3 668.2 L1282.9 668.0 L1284.5 667.3 L1286.1 667.6 L1287.7 667.9 L1289.3 667.9 L1290.9 667.2 L1292.5 666.1 L1294.1 666.9 L1295.7 668.2 L1297.3 667.4 L1298.9 667.7 L1300.5 666.5 L1302.1 664.8 L1303.7 664.2 L1305.3 664.1 L1306.9 661.9 L1308.5 662.6 L1310.1 662.2 L1311.7 663.7 L1313.3 665.6 L1314.9 665.9 L1316.5 665.4 L1318.1 666.3 L1319.7 664.9 L1321.3 666.8 L1322.9 669.2 L1324.5 669.6 L1326.1 671.3 L1327.7 669.6 L1329.3 666.8 L1330.9 668.3 L1332.5 670.5 L1334.1 666.5 L1335.7 667.3 L1337.3 664.0 L1338.9 664.7 L1340.5 661.2 L1342.1 659.2 L1343.7 658.6 L1345.3 654.6 L1346.9 655.8 L1348.5 656.3 L1350.1 658.2 L1351.7 658.3 L1353.3 658.3 L1354.9 658.1 L1356.5 661.1 L1358.1 660.8 L1359.7 660.2 L1361.3 656.5 L1362.9 660.1 L1364.5 657.6 L1366.1 655.5 L1367.7 654.2 L1369.3 651.6 L1370.9 650.9 L1372.5 647.4 L1374.1 645.3 L1375.7 642.7 L1377.3 642.8 L1378.9 642.1 L1380.5 641.8 L1382.1 641.1 L1383.7 640.5 L1385.3 640.6 L1386.9 635.9 L1388.5 631.1 L1390.1 627.9 L1391.7 624.7 L1393.3 623.0 L1394.9 616.7 L1396.5 616.2 L1398.1 611.6 L1399.7 607.1 L1401.3 605.0 L1402.9 602.3 L1404.5 602.2 L1406.1 597.3 L1407.7 599.1 L1409.3 598.5 L1410.9 599.3 L1412.5 596.9 L1414.1 593.1 L1415.7 592.5 L1417.3 591.9 L1418.9 592.6 L1420.5 593.0 L1422.1 588.4 L1423.7 586.2 L1425.3 587.2 L1426.9 586.1 L1428.5 587.7 L1430.1 588.8 L1431.7 590.5 L1433.3 588.3 L1434.9 588.5 L1436.5 587.8 L1438.1 586.5 L1439.7 584.8 L1441.3 586.0 L1442.9 586.0 L1444.5 584.6 L1446.1 583.5 L1447.7 580.3 L1449.3 581.6 L1450.9 581.9 L1452.5 580.1 L1454.1 582.6 L1455.7 581.9 L1457.3 579.0 L1458.9 577.9 L1460.5 575.5 L1462.1 574.2 L1463.7 572.1 L1465.3 572.6 L1466.9 569.3 L1468.5 567.8 L1470.1 567.1 L1471.7 565.4 L1473.3 564.2 L1474.9 561.2 L1476.5 559.2 L1478.1 560.0 L1479.7 559.2 L1481.3 560.6 L1482.9 559.1 L1484.5 558.9 L1486.1 558.0 L1487.7 558.7 L1489.3 555.5 L1490.9 555.8 L1492.5 555.9 L1494.1 554.5 L1495.7 554.4 L1497.3 550.0 L1498.9 545.3 L1500.5 543.4 L1502.1 541.7 L1503.7 541.2 L1505.3 538.5 L1506.9 537.4 L1508.5 539.2 L1510.1 543.9 L1511.7 543.7 L1513.3 545.2 L1514.9 547.0 L1516.5 550.4 L1518.1 548.5 L1519.7 547.3 L1521.3 549.7 L1522.9 550.4 L1524.5 551.3 L1526.1 549.2 L1527.7 553.5 L1529.3 551.2 L1530.9 552.9 L1532.5 554.0 L1534.1 555.0 L1535.7 558.3 L1537.3 557.7 L1538.9 557.0 L1540.5 559.6 L1542.1 562.5 L1543.7 562.5 L1545.3 562.7 L1546.9 565.3 L1548.5 563.8 L1550.1 567.7 L1551.7 565.1 L1553.3 565.0 L1554.9 566.5 L1556.5 566.5 L1558.1 569.3 L1559.7 569.1 L1561.3 569.5 L1562.9 568.7 L1564.5 569.3 L1566.1 567.2 L1567.7 565.1 L1569.3 565.2 L1570.9 561.5 L1572.5 558.5 L1574.1 558.6 L1575.7 559.0 L1577.3 556.7 L1578.9 556.3 L1580.5 556.5 L1582.1 555.5 L1583.7 555.2 L1585.3 554.2 L1586.9 555.5 L1588.5 551.7 L1590.1 553.8 L1591.7 549.3 L1593.3 551.5 L1594.9 553.9 L1596.5 558.7 L1598.1 559.9 L1599.7 556.5 L1601.3 558.4 L1602.9 555.4 L1604.5 555.0 L1606.1 554.4 L1607.7 552.0 L1609.3 547.5 L1610.9 547.4 L1612.5 545.7 L1614.1 547.6 L1615.7 545.4 L1617.3 547.2 L1618.9 548.5 L1620.5 547.8 L1622.1 549.3 L1623.7 549.7 L1625.3 551.7 L1626.9 549.9 L1628.5 549.7 L1630.1 547.9 L1631.7 552.2 L1633.3 552.7 L1634.9 553.8 L1636.5 554.3 L1638.1 558.5 L1639.7 561.1 L1641.3 559.3 L1642.9 558.8 L1644.5 558.9 L1646.1 557.2 L1647.7 556.4 L1649.3 554.3 L1650.9 553.9 L1652.5 554.1 L1654.1 552.7 L1655.7 549.3 L1657.3 549.8 L1658.9 552.1 L1660.5 549.1 L1662.1 549.0 L1663.7 550.8 L1665.3 551.0 L1666.9 551.7 L1668.5 550.9 L1670.1 551.9 L1671.7 554.6 L1673.3 551.7 L1674.9 555.8 L1676.5 555.0 L1678.1 559.6 L1679.7 560.0 L1681.3 560.5 L1682.9 558.6 L1684.5 561.0 L1686.1 560.0 L1687.7 558.0 L1689.3 559.6 L1690.9 560.0 L1692.5 561.5 L1694.1 558.3 L1695.7 557.6 L1697.3 556.1 L1698.9 554.1 L1700.5 553.9 L1702.1 553.8 L1703.7 553.5 L1705.3 552.8 L1706.9 551.6 L1708.5 550.7 L1710.1 549.0 L1711.7 547.6 L1713.3 546.9 L1714.9 548.2 L1716.5 545.4" fill="none" stroke="#41b6c4" stroke-width="5.4" stroke-linejoin="round" stroke-linecap="round"/>
<path d="M852.5 566.5 L854.1 563.3 L855.7 565.2 L857.3 570.0 L858.9 574.4 L860.5 576.9 L862.1 579.1 L863.7 578.8 L865.3 577.8 L866.9 576.5 L868.5 573.5 L870.1 575.4 L871.7 576.2 L873.3 578.3 L874.9 582.2 L876.5 582.0 L878.1 582.7 L879.7 585.2 L881.3 585.2 L882.9 586.0 L884.5 583.8 L886.1 582.8 L887.7 581.0 L889.3 583.8 L890.9 585.6 L892.5 583.9 L894.1 583.4 L895.7 582.9 L897.3 588.5 L898.9 589.6 L900.5 589.1 L902.1 590.5 L903.7 592.9 L905.3 591.2 L906.9 591.3 L908.5 591.0 L910.1 589.6 L911.7 589.6 L913.3 589.8 L914.9 587.9 L916.5 585.9 L918.1 586.3 L919.7 585.1 L921.3 584.4 L922.9 586.0 L924.5 584.1 L926.1 582.6 L927.7 580.4 L929.3 582.0 L930.9 583.0 L932.5 584.0 L934.1 584.8 L935.7 585.4 L937.3 583.7 L938.9 582.1 L940.5 581.3 L942.1 578.5 L943.7 576.0 L945.3 574.0 L946.9 575.5 L948.5 574.1 L950.1 575.4 L951.7 576.9 L953.3 578.8 L954.9 578.1 L956.5 579.6 L958.1 580.7 L959.7 578.1 L961.3 576.5 L962.9 574.3 L964.5 570.8 L966.1 570.3 L967.7 572.9 L969.3 579.9 L970.9 582.0 L972.5 584.1 L974.1 584.6 L975.7 587.3 L977.3 590.0 L978.9 591.8 L980.5 591.4 L982.1 592.4 L983.7 593.2 L985.3 594.9 L986.9 594.3 L988.5 595.0 L990.1 598.3 L991.7 594.6 L993.3 595.0 L994.9 596.0 L996.5 594.7 L998.1 597.9 L999.7 598.0 L1001.3 599.8 L1002.9 603.1 L1004.5 607.4 L1006.1 607.9 L1007.7 609.4 L1009.3 609.3 L1010.9 608.8 L1012.5 613.2 L1014.1 612.4 L1015.7 610.2 L1017.3 612.7 L1018.9 615.8 L1020.5 613.6 L1022.1 613.7 L1023.7 611.7 L1025.3 609.7 L1026.9 611.3 L1028.5 610.7 L1030.1 610.4 L1031.7 612.0 L1033.3 613.4 L1034.9 617.5 L1036.5 625.0 L1038.1 628.7 L1039.7 633.5 L1041.3 640.2 L1042.9 645.2 L1044.5 648.6 L1046.1 649.8 L1047.7 650.3 L1049.3 647.5 L1050.9 647.3 L1052.5 643.7 L1054.1 644.1 L1055.7 639.7 L1057.3 633.0 L1058.9 632.6 L1060.5 629.8 L1062.1 625.8 L1063.7 623.5 L1065.3 620.7 L1066.9 620.3 L1068.5 620.2 L1070.1 624.2 L1071.7 628.2 L1073.3 629.2 L1074.9 634.8 L1076.5 636.6 L1078.1 631.0 L1079.7 632.3 L1081.3 629.0 L1082.9 626.7 L1084.5 624.0 L1086.1 624.7 L1087.7 621.1 L1089.3 617.0 L1090.9 613.7 L1092.5 612.6 L1094.1 611.0 L1095.7 607.1 L1097.3 605.2 L1098.9 598.8 L1100.5 594.4 L1102.1 590.4 L1103.7 585.7 L1105.3 580.9 L1106.9 576.3 L1108.5 571.1 L1110.1 567.6 L1111.7 564.0 L1113.3 557.8 L1114.9 552.4 L1116.5 550.2 L1118.1 543.0 L1119.7 535.6 L1121.3 528.8 L1122.9 523.7 L1124.5 518.1 L1126.1 514.7 L1127.7 509.1 L1129.3 507.7 L1130.9 504.0 L1132.5 498.5 L1134.1 492.6 L1135.7 489.1 L1137.3 486.0 L1138.9 485.6 L1140.5 487.6 L1142.1 488.5 L1143.7 490.5 L1145.3 490.4 L1146.9 493.7 L1148.5 493.3 L1150.1 487.4 L1151.7 482.7 L1153.3 481.1 L1154.9 483.2 L1156.5 482.3 L1158.1 480.3 L1159.7 478.7 L1161.3 474.9 L1162.9 479.0 L1164.5 484.0 L1166.1 491.6 L1167.7 495.9 L1169.3 497.9 L1170.9 500.1 L1172.5 504.1 L1174.1 509.6 L1175.7 508.4 L1177.3 512.6 L1178.9 514.4 L1180.5 520.8 L1182.1 526.3 L1183.7 528.6 L1185.3 533.4 L1186.9 540.2 L1188.5 545.0 L1190.1 545.6 L1191.7 546.8 L1193.3 550.8 L1194.9 555.9 L1196.5 559.1 L1198.1 561.2 L1199.7 563.8 L1201.3 566.4 L1202.9 568.3 L1204.5 568.8 L1206.1 572.6 L1207.7 575.4 L1209.3 578.6 L1210.9 580.1 L1212.5 581.8 L1214.1 588.4 L1215.7 594.5 L1217.3 601.7 L1218.9 603.4 L1220.5 606.4 L1222.1 607.9 L1223.7 613.1 L1225.3 610.0 L1226.9 613.8 L1228.5 612.6 L1230.1 611.1 L1231.7 612.9 L1233.3 613.6 L1234.9 607.9 L1236.5 607.5 L1238.1 609.6 L1239.7 610.9 L1241.3 614.5 L1242.9 614.1 L1244.5 615.2 L1246.1 613.7 L1247.7 617.8 L1249.3 620.0 L1250.9 623.0 L1252.5 623.2 L1254.1 627.9 L1255.7 627.3 L1257.3 630.9 L1258.9 633.6 L1260.5 631.5 L1262.1 632.5 L1263.7 632.4 L1265.3 631.3 L1266.9 635.7 L1268.5 638.3 L1270.1 642.7 L1271.7 646.5 L1273.3 644.7 L1274.9 646.8 L1276.5 650.0 L1278.1 652.6 L1279.7 651.2 L1281.3 648.6 L1282.9 647.5 L1284.5 647.9 L1286.1 644.7 L1287.7 642.4 L1289.3 640.8 L1290.9 640.0 L1292.5 641.7 L1294.1 639.2 L1295.7 638.9 L1297.3 639.0 L1298.9 636.8 L1300.5 632.5 L1302.1 628.2 L1303.7 628.8 L1305.3 631.3 L1306.9 633.5 L1308.5 637.7 L1310.1 641.7 L1311.7 642.9 L1313.3 644.2 L1314.9 647.5 L1316.5 647.1 L1318.1 646.9 L1319.7 645.1 L1321.3 643.3 L1322.9 639.2 L1324.5 637.7 L1326.1 636.2 L1327.7 633.9 L1329.3 633.4 L1330.9 631.5 L1332.5 628.4 L1334.1 627.6 L1335.7 627.3 L1337.3 627.6 L1338.9 623.1 L1340.5 619.0 L1342.1 617.6 L1343.7 617.0 L1345.3 612.2 L1346.9 610.7 L1348.5 607.7 L1350.1 606.8 L1351.7 603.0 L1353.3 600.5 L1354.9 598.4 L1356.5 597.6 L1358.1 595.6 L1359.7 595.8 L1361.3 594.9 L1362.9 598.3 L1364.5 599.2 L1366.1 597.1 L1367.7 597.3 L1369.3 599.2 L1370.9 599.4 L1372.5 600.0 L1374.1 602.8 L1375.7 605.2 L1377.3 602.4 L1378.9 601.0 L1380.5 597.1 L1382.1 593.4 L1383.7 589.3 L1385.3 584.8 L1386.9 579.9 L1388.5 578.7 L1390.1 575.5 L1391.7 570.4 L1393.3 566.5 L1394.9 566.5 L1396.5 569.5 L1398.1 570.6 L1399.7 572.0 L1401.3 573.2 L1402.9 572.9 L1404.5 574.8 L1406.1 579.7 L1407.7 579.6 L1409.3 580.1 L1410.9 582.1 L1412.5 582.9 L1414.1 584.0 L1415.7 585.0 L1417.3 586.6 L1418.9 589.7 L1420.5 588.6 L1422.1 590.1 L1423.7 591.7 L1425.3 595.3 L1426.9 596.4 L1428.5 599.4 L1430.1 599.8 L1431.7 603.3 L1433.3 601.7 L1434.9 606.6 L1436.5 605.5 L1438.1 607.5 L1439.7 608.5 L1441.3 611.0 L1442.9 615.9 L1444.5 618.5 L1446.1 618.8 L1447.7 619.8 L1449.3 622.4 L1450.9 622.4 L1452.5 621.1 L1454.1 621.7 L1455.7 622.2 L1457.3 620.6 L1458.9 622.6 L1460.5 625.5 L1462.1 630.5 L1463.7 632.5 L1465.3 633.8 L1466.9 632.6 L1468.5 634.5 L1470.1 631.0 L1471.7 630.1 L1473.3 627.6 L1474.9 627.1 L1476.5 624.6 L1478.1 622.2 L1479.7 623.3 L1481.3 627.1 L1482.9 628.5 L1484.5 630.2 L1486.1 633.4 L1487.7 635.1 L1489.3 628.6 L1490.9 623.0 L1492.5 620.1 L1494.1 614.1 L1495.7 612.2 L1497.3 609.5 L1498.9 610.2 L1500.5 610.9 L1502.1 610.6 L1503.7 612.5 L1505.3 613.1 L1506.9 614.5 L1508.5 613.1 L1510.1 610.1 L1511.7 609.5 L1513.3 608.3 L1514.9 606.2 L1516.5 604.4 L1518.1 603.3 L1519.7 598.9 L1521.3 598.3 L1522.9 593.9 L1524.5 590.1 L1526.1 587.0 L1527.7 587.9 L1529.3 582.9 L1530.9 578.9 L1532.5 579.9 L1534.1 577.7 L1535.7 576.6 L1537.3 573.4 L1538.9 575.2 L1540.5 574.6 L1542.1 571.2 L1543.7 572.8 L1545.3 571.7 L1546.9 570.3 L1548.5 568.8 L1550.1 573.7 L1551.7 572.6 L1553.3 574.8 L1554.9 574.4 L1556.5 574.0 L1558.1 575.3 L1559.7 574.9 L1561.3 574.1 L1562.9 571.5 L1564.5 570.9 L1566.1 570.2 L1567.7 571.6 L1569.3 571.0 L1570.9 571.7 L1572.5 573.0 L1574.1 569.6 L1575.7 571.9 L1577.3 574.9 L1578.9 574.3 L1580.5 573.2 L1582.1 572.8 L1583.7 572.9 L1585.3 568.2 L1586.9 566.9 L1588.5 566.6 L1590.1 565.9 L1591.7 569.2 L1593.3 568.4 L1594.9 569.7 L1596.5 571.3 L1598.1 574.1 L1599.7 572.6 L1601.3 572.4 L1602.9 572.4 L1604.5 576.6 L1606.1 577.6 L1607.7 579.6 L1609.3 579.8 L1610.9 580.4 L1612.5 575.8 L1614.1 574.3 L1615.7 572.5 L1617.3 567.9 L1618.9 569.9 L1620.5 571.8 L1622.1 568.7 L1623.7 569.7 L1625.3 569.5 L1626.9 569.1 L1628.5 567.8 L1630.1 567.6 L1631.7 572.9 L1633.3 574.4 L1634.9 574.1 L1636.5 575.8 L1638.1 573.4 L1639.7 574.3 L1641.3 573.2 L1642.9 569.4 L1644.5 569.7 L1646.1 572.5 L1647.7 574.1 L1649.3 574.7 L1650.9 574.1 L1652.5 574.3 L1654.1 572.7 L1655.7 574.6 L1657.3 581.0 L1658.9 580.6 L1660.5 580.0 L1662.1 584.1 L1663.7 582.4 L1665.3 581.0 L1666.9 580.4 L1668.5 580.4 L1670.1 577.9 L1671.7 578.2 L1673.3 577.7 L1674.9 575.2 L1676.5 576.1 L1678.1 575.7 L1679.7 574.2 L1681.3 573.1 L1682.9 574.3 L1684.5 568.7 L1686.1 570.7 L1687.7 570.5 L1689.3 571.5 L1690.9 571.8 L1692.5 572.4 L1694.1 574.9 L1695.7 574.0 L1697.3 577.9 L1698.9 575.8 L1700.5 577.8 L1702.1 578.1 L1703.7 581.3 L1705.3 582.1 L1706.9 579.3 L1708.5 580.0 L1710.1 577.0 L1711.7 576.7 L1713.3 575.1 L1714.9 572.2 L1716.5 569.8" fill="none" stroke="#1d91c0" stroke-width="5.4" stroke-linejoin="round" stroke-linecap="round"/>
<path d="M852.5 639.4 L854.1 639.1 L855.7 640.8 L857.3 636.9 L858.9 638.1 L860.5 636.4 L862.1 637.5 L863.7 636.6 L865.3 636.8 L866.9 637.9 L868.5 637.2 L870.1 637.8 L871.7 638.1 L873.3 639.9 L874.9 638.0 L876.5 633.3 L878.1 632.9 L879.7 631.8 L881.3 630.1 L882.9 630.8 L884.5 632.2 L886.1 629.6 L887.7 632.6 L889.3 632.0 L890.9 632.0 L892.5 632.3 L894.1 631.3 L895.7 631.2 L897.3 627.4 L898.9 626.2 L900.5 623.9 L902.1 622.6 L903.7 621.5 L905.3 622.6 L906.9 623.2 L908.5 620.8 L910.1 621.1 L911.7 618.3 L913.3 619.2 L914.9 620.4 L916.5 619.5 L918.1 622.7 L919.7 621.5 L921.3 618.7 L922.9 618.7 L924.5 618.6 L926.1 620.8 L927.7 621.7 L929.3 622.9 L930.9 620.2 L932.5 622.0 L934.1 624.6 L935.7 625.7 L937.3 626.1 L938.9 625.4 L940.5 626.0 L942.1 626.0 L943.7 625.2 L945.3 625.2 L946.9 624.6 L948.5 622.0 L950.1 621.8 L951.7 622.0 L953.3 620.1 L954.9 616.2 L956.5 616.3 L958.1 617.1 L959.7 613.3 L961.3 612.5 L962.9 612.4 L964.5 616.3 L966.1 617.1 L967.7 616.5 L969.3 618.1 L970.9 618.4 L972.5 615.9 L974.1 616.5 L975.7 618.9 L977.3 619.0 L978.9 623.5 L980.5 622.0 L982.1 621.6 L983.7 622.0 L985.3 623.0 L986.9 624.7 L988.5 628.8 L990.1 633.2 L991.7 633.1 L993.3 632.1 L994.9 628.2 L996.5 624.6 L998.1 623.1 L999.7 618.8 L1001.3 614.9 L1002.9 619.2 L1004.5 616.2 L1006.1 614.8 L1007.7 618.3 L1009.3 619.4 L1010.9 619.5 L1012.5 619.1 L1014.1 622.2 L1015.7 624.7 L1017.3 625.5 L1018.9 628.1 L1020.5 628.0 L1022.1 631.4 L1023.7 629.5 L1025.3 631.6 L1026.9 629.9 L1028.5 628.9 L1030.1 629.6 L1031.7 629.5 L1033.3 633.1 L1034.9 633.4 L1036.5 635.8 L1038.1 638.7 L1039.7 638.2 L1041.3 635.6 L1042.9 631.1 L1044.5 630.4 L1046.1 625.4 L1047.7 620.6 L1049.3 618.6 L1050.9 620.5 L1052.5 615.8 L1054.1 614.7 L1055.7 616.6 L1057.3 615.2 L1058.9 612.1 L1060.5 614.4 L1062.1 616.1 L1063.7 616.2 L1065.3 614.9 L1066.9 616.0 L1068.5 616.5 L1070.1 620.3 L1071.7 619.1 L1073.3 617.7 L1074.9 620.6 L1076.5 621.8 L1078.1 625.2 L1079.7 621.8 L1081.3 623.8 L1082.9 625.5 L1084.5 624.2 L1086.1 623.9 L1087.7 621.9 L1089.3 624.0 L1090.9 620.3 L1092.5 618.9 L1094.1 616.5 L1095.7 614.2 L1097.3 613.0 L1098.9 610.0 L1100.5 607.6 L1102.1 606.2 L1103.7 604.6 L1105.3 604.1 L1106.9 600.2 L1108.5 601.3 L1110.1 596.1 L1111.7 592.5 L1113.3 590.7 L1114.9 588.1 L1116.5 588.4 L1118.1 587.6 L1119.7 589.1 L1121.3 594.6 L1122.9 599.4 L1124.5 607.8 L1126.1 608.9 L1127.7 607.2 L1129.3 602.0 L1130.9 599.5 L1132.5 594.2 L1134.1 588.8 L1135.7 583.3 L1137.3 579.8 L1138.9 574.6 L1140.5 572.3 L1142.1 569.0 L1143.7 565.1 L1145.3 561.9 L1146.9 558.2 L1148.5 555.9 L1150.1 552.6 L1151.7 552.3 L1153.3 553.5 L1154.9 554.5 L1156.5 556.9 L1158.1 557.4 L1159.7 556.7 L1161.3 555.6 L1162.9 555.4 L1164.5 552.3 L1166.1 552.6 L1167.7 552.8 L1169.3 548.0 L1170.9 544.7 L1172.5 541.7 L1174.1 536.5 L1175.7 535.6 L1177.3 531.7 L1178.9 531.1 L1180.5 531.6 L1182.1 533.3 L1183.7 531.6 L1185.3 529.0 L1186.9 528.1 L1188.5 526.1 L1190.1 523.5 L1191.7 524.0 L1193.3 521.2 L1194.9 521.2 L1196.5 521.8 L1198.1 517.7 L1199.7 513.4 L1201.3 507.7 L1202.9 509.5 L1204.5 515.4 L1206.1 522.7 L1207.7 527.2 L1209.3 527.7 L1210.9 529.3 L1212.5 531.7 L1214.1 531.3 L1215.7 533.6 L1217.3 535.3 L1218.9 535.1 L1220.5 535.6 L1222.1 535.4 L1223.7 530.7 L1225.3 528.8 L1226.9 532.0 L1228.5 533.2 L1230.1 530.5 L1231.7 527.8 L1233.3 528.2 L1234.9 527.4 L1236.5 526.4 L1238.1 525.8 L1239.7 528.6 L1241.3 527.9 L1242.9 529.3 L1244.5 528.0 L1246.1 527.9 L1247.7 532.6 L1249.3 534.9 L1250.9 536.1 L1252.5 538.9 L1254.1 539.2 L1255.7 539.1 L1257.3 540.0 L1258.9 541.3 L1260.5 543.3 L1262.1 546.0 L1263.7 549.8 L1265.3 552.2 L1266.9 553.3 L1268.5 555.1 L1270.1 555.0 L1271.7 562.2 L1273.3 563.9 L1274.9 569.9 L1276.5 571.8 L1278.1 575.1 L1279.7 579.2 L1281.3 582.3 L1282.9 583.4 L1284.5 582.0 L1286.1 583.6 L1287.7 586.6 L1289.3 586.8 L1290.9 582.2 L1292.5 577.2 L1294.1 579.4 L1295.7 580.1 L1297.3 580.3 L1298.9 577.5 L1300.5 578.8 L1302.1 579.8 L1303.7 582.4 L1305.3 581.6 L1306.9 583.4 L1308.5 582.8 L1310.1 583.4 L1311.7 583.2 L1313.3 586.0 L1314.9 587.0 L1316.5 586.0 L1318.1 585.1 L1319.7 583.8 L1321.3 584.9 L1322.9 586.1 L1324.5 587.0 L1326.1 586.3 L1327.7 587.5 L1329.3 589.0 L1330.9 589.0 L1332.5 588.9 L1334.1 590.1 L1335.7 590.5 L1337.3 592.5 L1338.9 594.0 L1340.5 597.3 L1342.1 597.0 L1343.7 593.7 L1345.3 596.2 L1346.9 592.8 L1348.5 587.2 L1350.1 585.7 L1351.7 583.4 L1353.3 580.1 L1354.9 579.8 L1356.5 580.3 L1358.1 574.2 L1359.7 568.2 L1361.3 568.1 L1362.9 569.1 L1364.5 569.6 L1366.1 571.4 L1367.7 575.0 L1369.3 582.7 L1370.9 586.2 L1372.5 586.2 L1374.1 584.4 L1375.7 585.1 L1377.3 584.3 L1378.9 583.6 L1380.5 586.2 L1382.1 581.4 L1383.7 581.5 L1385.3 578.3 L1386.9 577.5 L1388.5 576.6 L1390.1 573.1 L1391.7 568.6 L1393.3 567.7 L1394.9 572.1 L1396.5 574.7 L1398.1 573.0 L1399.7 570.5 L1401.3 571.3 L1402.9 571.4 L1404.5 573.9 L1406.1 574.2 L1407.7 575.2 L1409.3 572.5 L1410.9 573.4 L1412.5 570.4 L1414.1 567.2 L1415.7 567.9 L1417.3 567.5 L1418.9 564.5 L1420.5 565.3 L1422.1 564.6 L1423.7 562.1 L1425.3 562.4 L1426.9 563.4 L1428.5 562.2 L1430.1 560.5 L1431.7 563.2 L1433.3 563.4 L1434.9 561.2 L1436.5 559.5 L1438.1 559.7 L1439.7 560.8 L1441.3 557.9 L1442.9 559.2 L1444.5 556.9 L1446.1 558.3 L1447.7 554.1 L1449.3 552.7 L1450.9 554.5 L1452.5 554.4 L1454.1 551.2 L1455.7 552.7 L1457.3 551.1 L1458.9 555.6 L1460.5 558.9 L1462.1 557.7 L1463.7 560.1 L1465.3 560.7 L1466.9 564.5 L1468.5 564.6 L1470.1 566.0 L1471.7 563.6 L1473.3 565.2 L1474.9 566.5 L1476.5 569.4 L1478.1 571.6 L1479.7 570.1 L1481.3 569.7 L1482.9 571.4 L1484.5 573.3 L1486.1 578.5 L1487.7 584.5 L1489.3 587.3 L1490.9 591.0 L1492.5 591.8 L1494.1 594.8 L1495.7 594.5 L1497.3 594.4 L1498.9 597.3 L1500.5 598.2 L1502.1 600.4 L1503.7 600.4 L1505.3 599.5 L1506.9 601.7 L1508.5 602.6 L1510.1 606.1 L1511.7 608.6 L1513.3 606.3 L1514.9 610.1 L1516.5 611.2 L1518.1 610.0 L1519.7 610.2 L1521.3 608.0 L1522.9 606.8 L1524.5 607.7 L1526.1 607.2 L1527.7 606.7 L1529.3 603.2 L1530.9 602.1 L1532.5 601.3 L1534.1 602.3 L1535.7 600.1 L1537.3 600.2 L1538.9 602.7 L1540.5 602.1 L1542.1 604.3 L1543.7 604.1 L1545.3 606.6 L1546.9 605.4 L1548.5 605.7 L1550.1 605.7 L1551.7 606.2 L1553.3 601.0 L1554.9 604.0 L1556.5 607.6 L1558.1 605.4 L1559.7 603.2 L1561.3 602.0 L1562.9 599.8 L1564.5 599.8 L1566.1 601.8 L1567.7 599.8 L1569.3 596.9 L1570.9 592.4 L1572.5 591.0 L1574.1 595.3 L1575.7 596.2 L1577.3 593.1 L1578.9 589.2 L1580.5 586.3 L1582.1 583.4 L1583.7 579.3 L1585.3 577.2 L1586.9 574.1 L1588.5 573.9 L1590.1 572.0 L1591.7 570.7 L1593.3 570.3 L1594.9 565.6 L1596.5 564.9 L1598.1 565.0 L1599.7 563.7 L1601.3 561.1 L1602.9 562.2 L1604.5 565.5 L1606.1 565.7 L1607.7 563.4 L1609.3 563.1 L1610.9 565.8 L1612.5 564.6 L1614.1 564.0 L1615.7 561.8 L1617.3 563.3 L1618.9 565.2 L1620.5 564.9 L1622.1 564.2 L1623.7 566.4 L1625.3 567.9 L1626.9 568.4 L1628.5 568.1 L1630.1 569.7 L1631.7 571.0 L1633.3 572.2 L1634.9 569.9 L1636.5 567.3 L1638.1 565.8 L1639.7 566.4 L1641.3 568.0 L1642.9 568.8 L1644.5 567.5 L1646.1 566.8 L1647.7 566.5 L1649.3 567.7 L1650.9 569.8 L1652.5 571.8 L1654.1 574.8 L1655.7 575.7 L1657.3 576.3 L1658.9 579.1 L1660.5 583.5 L1662.1 587.6 L1663.7 594.5 L1665.3 596.6 L1666.9 600.8 L1668.5 600.4 L1670.1 603.5 L1671.7 604.2 L1673.3 604.5 L1674.9 605.2 L1676.5 605.7 L1678.1 609.0 L1679.7 610.7 L1681.3 611.3 L1682.9 612.5 L1684.5 614.8 L1686.1 615.3 L1687.7 614.6 L1689.3 618.3 L1690.9 615.4 L1692.5 616.9 L1694.1 618.0 L1695.7 617.3 L1697.3 616.5 L1698.9 618.0 L1700.5 620.4 L1702.1 620.7 L1703.7 624.4 L1705.3 624.7 L1706.9 623.5 L1708.5 625.6 L1710.1 624.6 L1711.7 624.5 L1713.3 630.0 L1714.9 631.9 L1716.5 629.1" fill="none" stroke="#225ea8" stroke-width="5.4" stroke-linejoin="round" stroke-linecap="round"/>
<path d="M852.5 646.5 L854.1 645.8 L855.7 645.6 L857.3 642.1 L858.9 641.8 L860.5 646.1 L862.1 642.8 L863.7 642.3 L865.3 643.1 L866.9 640.0 L868.5 641.6 L870.1 644.0 L871.7 643.2 L873.3 641.1 L874.9 641.8 L876.5 640.6 L878.1 641.4 L879.7 641.4 L881.3 641.1 L882.9 639.6 L884.5 642.6 L886.1 642.4 L887.7 643.0 L889.3 642.6 L890.9 641.7 L892.5 642.3 L894.1 643.5 L895.7 645.3 L897.3 646.8 L898.9 647.5 L900.5 648.5 L902.1 643.3 L903.7 639.0 L905.3 631.5 L906.9 633.9 L908.5 630.3 L910.1 630.8 L911.7 632.9 L913.3 633.5 L914.9 635.9 L916.5 633.3 L918.1 633.0 L919.7 632.7 L921.3 635.2 L922.9 638.9 L924.5 637.2 L926.1 637.5 L927.7 637.4 L929.3 640.6 L930.9 642.3 L932.5 643.8 L934.1 642.7 L935.7 643.2 L937.3 642.9 L938.9 643.0 L940.5 643.7 L942.1 645.3 L943.7 643.2 L945.3 647.0 L946.9 648.7 L948.5 653.4 L950.1 656.0 L951.7 656.6 L953.3 658.1 L954.9 660.8 L956.5 659.8 L958.1 662.5 L959.7 662.9 L961.3 664.0 L962.9 663.8 L964.5 665.1 L966.1 665.0 L967.7 665.3 L969.3 666.0 L970.9 665.8 L972.5 664.1 L974.1 659.7 L975.7 658.3 L977.3 656.1 L978.9 655.6 L980.5 655.6 L982.1 656.0 L983.7 657.8 L985.3 658.0 L986.9 658.8 L988.5 658.8 L990.1 658.3 L991.7 658.3 L993.3 655.7 L994.9 656.6 L996.5 656.2 L998.1 655.3 L999.7 656.1 L1001.3 653.6 L1002.9 657.2 L1004.5 659.3 L1006.1 660.2 L1007.7 659.5 L1009.3 661.7 L1010.9 662.3 L1012.5 661.3 L1014.1 662.1 L1015.7 662.6 L1017.3 661.2 L1018.9 661.5 L1020.5 667.1 L1022.1 663.1 L1023.7 663.0 L1025.3 659.1 L1026.9 655.1 L1028.5 653.4 L1030.1 648.2 L1031.7 643.6 L1033.3 642.6 L1034.9 643.0 L1036.5 642.4 L1038.1 644.1 L1039.7 642.7 L1041.3 642.6 L1042.9 639.7 L1044.5 644.0 L1046.1 645.2 L1047.7 647.5 L1049.3 650.7 L1050.9 651.8 L1052.5 655.0 L1054.1 657.2 L1055.7 660.1 L1057.3 658.8 L1058.9 660.1 L1060.5 661.5 L1062.1 661.9 L1063.7 661.9 L1065.3 666.5 L1066.9 667.6 L1068.5 670.0 L1070.1 674.7 L1071.7 678.2 L1073.3 678.3 L1074.9 679.1 L1076.5 679.0 L1078.1 682.0 L1079.7 683.5 L1081.3 686.8 L1082.9 684.2 L1084.5 684.5 L1086.1 682.9 L1087.7 682.1 L1089.3 679.5 L1090.9 684.2 L1092.5 683.5 L1094.1 682.9 L1095.7 681.6 L1097.3 678.7 L1098.9 676.6 L1100.5 674.8 L1102.1 676.1 L1103.7 674.1 L1105.3 673.8 L1106.9 673.3 L1108.5 671.9 L1110.1 669.6 L1111.7 667.8 L1113.3 669.4 L1114.9 670.4 L1116.5 669.7 L1118.1 672.8 L1119.7 674.7 L1121.3 675.9 L1122.9 672.7 L1124.5 667.0 L1126.1 665.0 L1127.7 658.7 L1129.3 653.5 L1130.9 648.8 L1132.5 646.7 L1134.1 642.9 L1135.7 637.0 L1137.3 633.0 L1138.9 628.3 L1140.5 626.2 L1142.1 623.1 L1143.7 617.3 L1145.3 612.9 L1146.9 608.7 L1148.5 605.5 L1150.1 601.8 L1151.7 597.7 L1153.3 593.7 L1154.9 589.1 L1156.5 584.2 L1158.1 581.2 L1159.7 578.6 L1161.3 576.2 L1162.9 569.8 L1164.5 565.5 L1166.1 561.3 L1167.7 558.6 L1169.3 554.7 L1170.9 552.5 L1172.5 548.9 L1174.1 546.1 L1175.7 544.3 L1177.3 539.4 L1178.9 535.9 L1180.5 530.5 L1182.1 525.8 L1183.7 519.6 L1185.3 512.6 L1186.9 505.6 L1188.5 500.0 L1190.1 495.6 L1191.7 486.6 L1193.3 483.7 L1194.9 481.7 L1196.5 478.2 L1198.1 475.0 L1199.7 473.7 L1201.3 472.9 L1202.9 472.5 L1204.5 471.2 L1206.1 469.3 L1207.7 471.0 L1209.3 464.6 L1210.9 460.9 L1212.5 461.9 L1214.1 459.9 L1215.7 457.1 L1217.3 454.5 L1218.9 456.4 L1220.5 454.2 L1222.1 450.9 L1223.7 447.0 L1225.3 444.7 L1226.9 439.2 L1228.5 439.4 L1230.1 442.3 L1231.7 445.8 L1233.3 447.3 L1234.9 450.6 L1236.5 447.9 L1238.1 447.7 L1239.7 440.0 L1241.3 436.1 L1242.9 432.5 L1244.5 440.3 L1246.1 439.7 L1247.7 440.8 L1249.3 445.3 L1250.9 448.4 L1252.5 446.7 L1254.1 450.8 L1255.7 452.2 L1257.3 453.6 L1258.9 453.7 L1260.5 452.9 L1262.1 461.9 L1263.7 463.3 L1265.3 467.0 L1266.9 470.6 L1268.5 473.0 L1270.1 469.5 L1271.7 466.5 L1273.3 465.7 L1274.9 464.4 L1276.5 464.0 L1278.1 464.6 L1279.7 465.8 L1281.3 465.8 L1282.9 465.7 L1284.5 470.8 L1286.1 477.8 L1287.7 483.7 L1289.3 489.3 L1290.9 493.9 L1292.5 496.6 L1294.1 500.2 L1295.7 504.2 L1297.3 506.9 L1298.9 506.6 L1300.5 506.3 L1302.1 507.8 L1303.7 508.2 L1305.3 509.5 L1306.9 511.6 L1308.5 511.4 L1310.1 510.8 L1311.7 511.9 L1313.3 513.0 L1314.9 516.3 L1316.5 518.5 L1318.1 522.2 L1319.7 523.4 L1321.3 525.5 L1322.9 525.2 L1324.5 529.2 L1326.1 529.0 L1327.7 530.1 L1329.3 533.4 L1330.9 533.3 L1332.5 536.4 L1334.1 540.2 L1335.7 537.1 L1337.3 538.4 L1338.9 541.5 L1340.5 542.7 L1342.1 540.6 L1343.7 541.0 L1345.3 542.8 L1346.9 542.0 L1348.5 541.6 L1350.1 544.1 L1351.7 547.8 L1353.3 550.4 L1354.9 555.0 L1356.5 557.2 L1358.1 559.9 L1359.7 563.5 L1361.3 563.2 L1362.9 557.4 L1364.5 553.7 L1366.1 550.9 L1367.7 545.4 L1369.3 544.5 L1370.9 543.2 L1372.5 541.1 L1374.1 543.3 L1375.7 544.9 L1377.3 549.9 L1378.9 553.1 L1380.5 554.5 L1382.1 555.0 L1383.7 556.1 L1385.3 554.7 L1386.9 557.2 L1388.5 558.0 L1390.1 559.5 L1391.7 561.4 L1393.3 558.9 L1394.9 562.1 L1396.5 564.9 L1398.1 565.4 L1399.7 565.6 L1401.3 565.8 L1402.9 568.7 L1404.5 566.2 L1406.1 566.7 L1407.7 567.8 L1409.3 574.0 L1410.9 570.1 L1412.5 572.3 L1414.1 575.9 L1415.7 578.8 L1417.3 581.3 L1418.9 581.8 L1420.5 579.4 L1422.1 581.5 L1423.7 584.7 L1425.3 588.2 L1426.9 591.1 L1428.5 594.4 L1430.1 597.1 L1431.7 600.4 L1433.3 598.9 L1434.9 602.5 L1436.5 606.9 L1438.1 608.1 L1439.7 610.0 L1441.3 606.2 L1442.9 609.8 L1444.5 610.7 L1446.1 611.3 L1447.7 614.8 L1449.3 613.3 L1450.9 617.4 L1452.5 613.8 L1454.1 614.5 L1455.7 614.5 L1457.3 615.6 L1458.9 617.7 L1460.5 617.8 L1462.1 618.8 L1463.7 616.4 L1465.3 616.1 L1466.9 617.5 L1468.5 620.2 L1470.1 621.4 L1471.7 618.2 L1473.3 617.2 L1474.9 616.6 L1476.5 615.9 L1478.1 614.9 L1479.7 612.3 L1481.3 610.3 L1482.9 610.8 L1484.5 607.0 L1486.1 608.7 L1487.7 606.5 L1489.3 603.9 L1490.9 602.3 L1492.5 599.4 L1494.1 597.1 L1495.7 596.9 L1497.3 593.7 L1498.9 595.7 L1500.5 594.5 L1502.1 593.7 L1503.7 593.0 L1505.3 591.6 L1506.9 589.6 L1508.5 585.5 L1510.1 584.9 L1511.7 584.2 L1513.3 582.5 L1514.9 580.3 L1516.5 579.5 L1518.1 578.1 L1519.7 575.1 L1521.3 573.8 L1522.9 572.7 L1524.5 572.1 L1526.1 573.1 L1527.7 573.1 L1529.3 574.2 L1530.9 573.5 L1532.5 575.3 L1534.1 573.7 L1535.7 573.6 L1537.3 572.1 L1538.9 572.1 L1540.5 569.4 L1542.1 571.5 L1543.7 572.9 L1545.3 573.7 L1546.9 573.5 L1548.5 573.2 L1550.1 572.9 L1551.7 570.9 L1553.3 574.0 L1554.9 575.9 L1556.5 579.5 L1558.1 579.5 L1559.7 578.2 L1561.3 580.3 L1562.9 584.3 L1564.5 586.1 L1566.1 584.2 L1567.7 584.9 L1569.3 587.6 L1570.9 587.7 L1572.5 589.6 L1574.1 591.1 L1575.7 594.4 L1577.3 595.0 L1578.9 599.9 L1580.5 601.0 L1582.1 600.3 L1583.7 602.2 L1585.3 602.1 L1586.9 603.3 L1588.5 606.1 L1590.1 605.6 L1591.7 606.3 L1593.3 604.6 L1594.9 602.9 L1596.5 598.6 L1598.1 596.7 L1599.7 595.0 L1601.3 593.1 L1602.9 591.2 L1604.5 592.3 L1606.1 594.0 L1607.7 595.4 L1609.3 595.4 L1610.9 597.8 L1612.5 595.3 L1614.1 594.5 L1615.7 593.6 L1617.3 593.8 L1618.9 597.1 L1620.5 596.6 L1622.1 599.1 L1623.7 598.9 L1625.3 599.3 L1626.9 598.1 L1628.5 598.5 L1630.1 598.2 L1631.7 600.3 L1633.3 597.2 L1634.9 596.2 L1636.5 594.5 L1638.1 592.9 L1639.7 588.5 L1641.3 590.6 L1642.9 586.1 L1644.5 587.3 L1646.1 583.1 L1647.7 581.6 L1649.3 579.7 L1650.9 579.4 L1652.5 580.1 L1654.1 580.7 L1655.7 583.1 L1657.3 580.0 L1658.9 581.3 L1660.5 582.8 L1662.1 579.7 L1663.7 581.0 L1665.3 580.8 L1666.9 583.6 L1668.5 584.8 L1670.1 588.6 L1671.7 587.8 L1673.3 591.8 L1674.9 593.3 L1676.5 595.8 L1678.1 591.9 L1679.7 592.1 L1681.3 593.4 L1682.9 594.6 L1684.5 597.0 L1686.1 594.6 L1687.7 597.0 L1689.3 597.7 L1690.9 599.2 L1692.5 598.1 L1694.1 597.8 L1695.7 597.5 L1697.3 598.9 L1698.9 596.8 L1700.5 593.7 L1702.1 594.6 L1703.7 599.3 L1705.3 600.7 L1706.9 602.2 L1708.5 602.0 L1710.1 603.2 L1711.7 600.7 L1713.3 597.0 L1714.9 596.0 L1716.5 593.2" fill="none" stroke="#0c2c84" stroke-width="5.4" stroke-linejoin="round" stroke-linecap="round"/>
<line x1="853.75" y1="432.50" x2="853.75" y2="703.00" stroke="#262626" stroke-width="5"/>
<line x1="851.50" y1="693.75" x2="1717.50" y2="693.75" stroke="#262626" stroke-width="5"/>
<line x1="845.00" y1="485.00" x2="855.00" y2="485.00" stroke="#262626" stroke-width="5"/>
<text x="838.3" y="502.8" font-size="36.5" fill="#262626" text-anchor="end">0.1</text>
<line x1="845.00" y1="537.30" x2="855.00" y2="537.30" stroke="#262626" stroke-width="5"/>
<line x1="845.00" y1="589.60" x2="855.00" y2="589.60" stroke="#262626" stroke-width="5"/>
<text x="834.8" y="607.4" font-size="36.5" fill="#262626" text-anchor="end">0</text>
<line x1="845.00" y1="641.90" x2="855.00" y2="641.90" stroke="#262626" stroke-width="5"/>
<line x1="853.50" y1="692.00" x2="853.50" y2="703.00" stroke="#262626" stroke-width="5"/>
<text x="858.25" y="741" font-size="37" fill="#262626" text-anchor="middle">-0.2</text>
<line x1="1046.00" y1="692.00" x2="1046.00" y2="703.00" stroke="#262626" stroke-width="5"/>
<text x="1048.0" y="741" font-size="37" fill="#262626" text-anchor="middle">0</text>
<line x1="1238.50" y1="692.00" x2="1238.50" y2="703.00" stroke="#262626" stroke-width="5"/>
<text x="1242.2" y="741" font-size="37" fill="#262626" text-anchor="middle">0.2</text>
<line x1="1431.00" y1="692.00" x2="1431.00" y2="703.00" stroke="#262626" stroke-width="5"/>
<text x="1432.1" y="741" font-size="37" fill="#262626" text-anchor="middle">0.4</text>
<line x1="1623.50" y1="692.00" x2="1623.50" y2="703.00" stroke="#262626" stroke-width="5"/>
<text x="1625.3" y="741" font-size="37" fill="#262626" text-anchor="middle">0.6</text>
<text x="1245.7" y="778.9" font-size="37.3" fill="#262626" text-anchor="middle">Time (s)</text>
<text transform="translate(764.5,538) rotate(-90)" font-size="36.6" fill="#262626" text-anchor="middle">norm. imps/s</text>
<text x="1561" y="456.5" font-size="36.4" fill="#000" text-anchor="middle">Bids</text>
<rect x="1500.90" y="463.30" width="24.60" height="29.70" fill="#7fcdbb"/>
<rect x="1525.24" y="463.30" width="24.60" height="29.70" fill="#41b6c4"/>
<rect x="1549.58" y="463.30" width="24.60" height="29.70" fill="#1d91c0"/>
<rect x="1573.92" y="463.30" width="24.60" height="29.70" fill="#225ea8"/>
<rect x="1598.26" y="463.30" width="24.60" height="29.70" fill="#0c2c84"/>
<text x="1478.5" y="491.7" font-size="37" fill="#000">L</text>
<text x="1626.5" y="491.7" font-size="37" fill="#000">H</text>
<line x1="851.25" y1="847.00" x2="851.25" y2="1158.00" stroke="#262626" stroke-width="5"/>
<line x1="849.00" y1="1156.00" x2="1201.00" y2="1156.00" stroke="#262626" stroke-width="5"/>
<line x1="843.00" y1="903.45" x2="853.00" y2="903.45" stroke="#262626" stroke-width="5"/>
<text x="837.8" y="917.45" font-size="36" fill="#262626" text-anchor="end">0.4</text>
<line x1="843.00" y1="974.85" x2="853.00" y2="974.85" stroke="#262626" stroke-width="5"/>
<text x="837.8" y="988.85" font-size="36" fill="#262626" text-anchor="end">0.2</text>
<line x1="843.00" y1="1046.25" x2="853.00" y2="1046.25" stroke="#262626" stroke-width="5"/>
<text x="837.8" y="1060.25" font-size="36" fill="#262626" text-anchor="end">0</text>
<line x1="843.00" y1="1117.65" x2="853.00" y2="1117.65" stroke="#262626" stroke-width="5"/>
<text x="837.8" y="1131.65" font-size="36" fill="#262626" text-anchor="end">-0.2</text>
<line x1="916.60" y1="1154.00" x2="916.60" y2="1163.50" stroke="#262626" stroke-width="5"/>
<text x="917.6" y="1202.7" font-size="36.5" fill="#262626" text-anchor="middle">L</text>
<line x1="1028.30" y1="1154.00" x2="1028.30" y2="1163.50" stroke="#262626" stroke-width="5"/>
<text x="1028.3" y="1202.7" font-size="36.5" fill="#262626" text-anchor="middle">M</text>
<line x1="1140.40" y1="1154.00" x2="1140.40" y2="1163.50" stroke="#262626" stroke-width="5"/>
<text x="1141.4" y="1202.7" font-size="36.5" fill="#262626" text-anchor="middle">H</text>
<text x="1036.2" y="1240.7" font-size="36.2" fill="#262626" text-anchor="middle">Reward magnitude</text>
<text transform="translate(764.5,1002.2) rotate(-90)" font-size="36.6" fill="#262626" text-anchor="middle">norm. imps/s</text>
<text x="872" y="882" font-size="33.1" fill="#262626">Monk. U</text>
<text x="873.5" y="919.5" font-size="33.1" fill="#262626">Monk. V</text>
<rect x="996.80" y="898.00" width="9.30" height="20.80" fill="#fd8d3c"/>
<rect x="1006.10" y="898.00" width="9.90" height="20.80" fill="#fc4e2a"/>
<rect x="1016.00" y="898.00" width="9.00" height="20.80" fill="#b10026"/>
<rect x="997.00" y="859.00" width="2.05" height="20.90" fill="#fd8d3c"/>
<rect x="999.05" y="859.00" width="3.95" height="20.90" fill="#000"/>
<rect x="1004.20" y="859.00" width="1.70" height="20.90" fill="#fd8d3c"/>
<rect x="1005.90" y="859.00" width="2.20" height="20.90" fill="#fc4e2a"/>
<rect x="1008.10" y="859.00" width="5.00" height="20.90" fill="#000"/>
<rect x="1013.10" y="859.00" width="2.90" height="20.90" fill="#fc4e2a"/>
<rect x="1016.00" y="859.00" width="2.00" height="20.90" fill="#b10026"/>
<rect x="1018.00" y="859.00" width="5.00" height="20.90" fill="#000"/>
<rect x="1023.00" y="859.00" width="1.90" height="20.90" fill="#b10026"/>
<rect x="997.00" y="865.80" width="27.90" height="1.30" fill="#fff"/>
<line x1="891.50" y1="1023.75" x2="891.50" y2="1041.25" stroke="#fd8d3c" stroke-width="5.5"/>
<line x1="891.50" y1="1056.00" x2="891.50" y2="1066.00" stroke="#fd8d3c" stroke-width="5.5"/>
<rect x="876.50" y="1018.75" width="30.00" height="5.00" fill="#fd8d3c"/>
<line x1="891.50" y1="1099.00" x2="891.50" y2="1120.00" stroke="#fd8d3c" stroke-width="5.5"/>
<line x1="891.50" y1="1134.00" x2="891.50" y2="1141.00" stroke="#fd8d3c" stroke-width="5.5"/>
<rect x="876.70" y="1139.10" width="29.60" height="5.00" fill="#fd8d3c"/>
<rect x="869.50" y="1066.00" width="44.20" height="33.40" fill="#fd8d3c"/>
<rect x="869.50" y="1085.20" width="44.20" height="3.60" fill="#fff"/>
<line x1="939.50" y1="1028.00" x2="939.50" y2="1048.80" stroke="#fd8d3c" stroke-width="5.5"/>
<line x1="939.50" y1="1063.00" x2="939.50" y2="1069.00" stroke="#fd8d3c" stroke-width="5.5"/>
<rect x="924.50" y="1026.20" width="30.00" height="5.00" fill="#fd8d3c"/>
<line x1="939.50" y1="1098.00" x2="939.50" y2="1117.40" stroke="#fd8d3c" stroke-width="5.5"/>
<line x1="939.50" y1="1133.00" x2="939.50" y2="1140.00" stroke="#fd8d3c" stroke-width="5.5"/>
<rect x="924.70" y="1138.50" width="29.60" height="5.00" fill="#fd8d3c"/>
<rect x="918.30" y="1069.20" width="42.70" height="29.60" fill="#fd8d3c"/>
<rect x="920.20" y="1069.20" width="4.80" height="29.60" fill="#000"/>
<rect x="930.10" y="1069.20" width="4.80" height="29.60" fill="#000"/>
<rect x="940.00" y="1069.20" width="4.80" height="29.60" fill="#000"/>
<rect x="949.90" y="1069.20" width="4.80" height="29.60" fill="#000"/>
<rect x="959.80" y="1069.20" width="1.20" height="29.60" fill="#000"/>
<rect x="918.30" y="1083.60" width="42.70" height="5.10" fill="#fff"/>
<rect x="918.30" y="1084.50" width="42.70" height="1.00" fill="#000"/>
<line x1="1004.00" y1="1009.50" x2="1004.00" y2="1028.00" stroke="#fc4e2a" stroke-width="5.5"/>
<rect x="989.00" y="1004.30" width="30.00" height="5.00" fill="#fc4e2a"/>
<line x1="1004.00" y1="1074.80" x2="1004.00" y2="1094.50" stroke="#fc4e2a" stroke-width="5.5"/>
<rect x="989.10" y="1108.70" width="29.80" height="5.00" fill="#fc4e2a"/>
<rect x="982.20" y="1039.10" width="43.50" height="35.70" fill="#fc4e2a"/>
<rect x="982.20" y="1058.10" width="43.50" height="3.60" fill="#fff"/>
<line x1="998.70" y1="984.80" x2="1008.70" y2="984.80" stroke="#fc4e2a" stroke-width="2.6"/>
<line x1="1003.70" y1="979.80" x2="1003.70" y2="989.80" stroke="#fc4e2a" stroke-width="2.6"/>
<line x1="1053.00" y1="1000.00" x2="1053.00" y2="1018.70" stroke="#fc4e2a" stroke-width="5.5"/>
<line x1="1053.00" y1="1033.00" x2="1053.00" y2="1044.00" stroke="#fc4e2a" stroke-width="5.5"/>
<rect x="1038.00" y="995.00" width="30.00" height="5.00" fill="#fc4e2a"/>
<line x1="1053.00" y1="1079.70" x2="1053.00" y2="1090.30" stroke="#fc4e2a" stroke-width="5.5"/>
<line x1="1053.00" y1="1106.00" x2="1053.00" y2="1124.00" stroke="#fc4e2a" stroke-width="5.5"/>
<rect x="1038.20" y="1123.90" width="29.60" height="5.00" fill="#fc4e2a"/>
<rect x="1032.00" y="1043.10" width="42.80" height="36.60" fill="#fc4e2a"/>
<rect x="1037.70" y="1043.10" width="4.80" height="36.60" fill="#000"/>
<rect x="1047.60" y="1043.10" width="4.80" height="36.60" fill="#000"/>
<rect x="1057.50" y="1043.10" width="4.80" height="36.60" fill="#000"/>
<rect x="1067.40" y="1043.10" width="4.80" height="36.60" fill="#000"/>
<rect x="1032.00" y="1043.10" width="1.30" height="36.60" fill="#000"/>
<rect x="1032.00" y="1058.10" width="42.80" height="3.60" fill="#fff"/>
<line x1="1116.00" y1="923.00" x2="1116.00" y2="941.60" stroke="#b10026" stroke-width="5.5"/>
<line x1="1116.00" y1="956.00" x2="1116.00" y2="975.60" stroke="#b10026" stroke-width="5.5"/>
<rect x="1101.00" y="918.00" width="30.00" height="5.00" fill="#b10026"/>
<line x1="1116.00" y1="1024.50" x2="1116.00" y2="1044.80" stroke="#b10026" stroke-width="5.5"/>
<rect x="1101.00" y="1048.80" width="30.00" height="5.00" fill="#b10026"/>
<rect x="1094.00" y="981.00" width="43.90" height="43.50" fill="#b10026"/>
<rect x="1094.00" y="1001.10" width="43.90" height="3.60" fill="#fff"/>
<line x1="1110.90" y1="862.40" x2="1120.90" y2="862.40" stroke="#b10026" stroke-width="2.6"/>
<line x1="1115.90" y1="857.40" x2="1115.90" y2="867.40" stroke="#b10026" stroke-width="2.6"/>
<line x1="1168.00" y1="913.00" x2="1168.00" y2="935.80" stroke="#b10026" stroke-width="5.5"/>
<line x1="1168.00" y1="951.00" x2="1168.00" y2="964.00" stroke="#b10026" stroke-width="5.5"/>
<rect x="1153.00" y="913.00" width="30.00" height="5.00" fill="#b10026"/>
<line x1="1168.00" y1="1022.70" x2="1168.00" y2="1039.80" stroke="#b10026" stroke-width="5.5"/>
<line x1="1168.00" y1="1054.30" x2="1168.00" y2="1074.40" stroke="#b10026" stroke-width="5.5"/>
<rect x="1153.20" y="1073.80" width="29.60" height="5.00" fill="#b10026"/>
<rect x="1146.00" y="964.00" width="42.80" height="58.70" fill="#b10026"/>
<rect x="1146.00" y="964.00" width="4.80" height="58.70" fill="#000"/>
<rect x="1155.90" y="964.00" width="4.80" height="58.70" fill="#000"/>
<rect x="1165.80" y="964.00" width="4.80" height="58.70" fill="#000"/>
<rect x="1175.70" y="964.00" width="4.80" height="58.70" fill="#000"/>
<rect x="1185.60" y="964.00" width="3.20" height="58.70" fill="#000"/>
<rect x="1146.00" y="986.20" width="42.80" height="3.60" fill="#fff"/>
<rect x="1146.00" y="964.70" width="42.80" height="1.60" fill="#fff"/>
<line x1="1333.50" y1="845.50" x2="1333.50" y2="1156.00" stroke="#262626" stroke-width="5"/>
<line x1="1331.50" y1="1153.25" x2="1727.00" y2="1153.25" stroke="#262626" stroke-width="5"/>
<line x1="1324.50" y1="846.05" x2="1335.00" y2="846.05" stroke="#262626" stroke-width="5"/>
<text x="1318.8" y="860.15" font-size="36" fill="#262626" text-anchor="end">0.8</text>
<line x1="1324.50" y1="893.35" x2="1335.00" y2="893.35" stroke="#262626" stroke-width="5"/>
<text x="1318.8" y="907.45" font-size="36" fill="#262626" text-anchor="end">0.6</text>
<line x1="1324.50" y1="940.65" x2="1335.00" y2="940.65" stroke="#262626" stroke-width="5"/>
<text x="1318.8" y="954.75" font-size="36" fill="#262626" text-anchor="end">0.4</text>
<line x1="1324.50" y1="987.95" x2="1335.00" y2="987.95" stroke="#262626" stroke-width="5"/>
<text x="1318.8" y="1002.0500000000001" font-size="36" fill="#262626" text-anchor="end">0.2</text>
<line x1="1324.50" y1="1035.25" x2="1335.00" y2="1035.25" stroke="#262626" stroke-width="5"/>
<text x="1318.8" y="1049.35" font-size="36" fill="#262626" text-anchor="end">0</text>
<line x1="1324.50" y1="1082.55" x2="1335.00" y2="1082.55" stroke="#262626" stroke-width="5"/>
<text x="1318.8" y="1096.6499999999999" font-size="36" fill="#262626" text-anchor="end">-0.2</text>
<line x1="1324.50" y1="1129.85" x2="1335.00" y2="1129.85" stroke="#262626" stroke-width="5"/>
<text x="1318.8" y="1143.9499999999998" font-size="36" fill="#262626" text-anchor="end">-0.4</text>
<line x1="1334.00" y1="1151.00" x2="1334.00" y2="1166.00" stroke="#262626" stroke-width="5"/>
<text x="1334.0" y="1201" font-size="36.5" fill="#262626" text-anchor="middle">0</text>
<line x1="1431.32" y1="1151.00" x2="1431.32" y2="1166.00" stroke="#262626" stroke-width="5"/>
<line x1="1528.64" y1="1151.00" x2="1528.64" y2="1166.00" stroke="#262626" stroke-width="5"/>
<text x="1528.6399999999999" y="1201" font-size="36.5" fill="#262626" text-anchor="middle">0.6</text>
<line x1="1625.96" y1="1151.00" x2="1625.96" y2="1166.00" stroke="#262626" stroke-width="5"/>
<line x1="1723.28" y1="1151.00" x2="1723.28" y2="1166.00" stroke="#262626" stroke-width="5"/>
<text x="1723.28" y="1201" font-size="36.5" fill="#262626" text-anchor="middle">1.2</text>
<text x="1529.5" y="1240" font-size="36.7" fill="#262626" text-anchor="middle">Bid (mL H<tspan font-size="24" dy="9">2</tspan><tspan dy="-9">O)</tspan></text>
<text transform="translate(1246.3,1001.8) rotate(-90)" font-size="36.6" fill="#262626" text-anchor="middle">norm. imps/s</text>
<text x="1369.8" y="873" font-size="36.4" fill="#000">R<tspan font-size="23.5" dy="-11.4">2</tspan><tspan font-size="25" dy="20.3">U</tspan><tspan dy="-8.9"> = 0.93</tspan></text>
<text x="1369.8" y="917" font-size="36.4" fill="#000">R<tspan font-size="23.5" dy="-11.4">2</tspan><tspan font-size="25" dy="20.3">V</tspan><tspan dy="-8.9"> = 0.88</tspan></text>
<text x="1698.5" y="1108.25" font-size="33.2" fill="#262626" text-anchor="end">Monk. U</text>
<text x="1698.5" y="1142" font-size="33.2" fill="#262626" text-anchor="end">Monk. V</text>
<rect x="1704.50" y="1087.00" width="21.30" height="21.30" fill="#0f2a87"/>
<rect x="1704.50" y="1120.70" width="21.30" height="21.30" fill="#2196c9"/>
<line x1="1340.75" y1="1150.75" x2="1716.25" y2="974.50" stroke="#2196c9" stroke-width="4.1"/>
<line x1="1357.00" y1="1144.50" x2="1715.70" y2="899.00" stroke="#0f2a87" stroke-width="4.4"/>
<line x1="1340.75" y1="1104.00" x2="1340.75" y2="1140.00" stroke="#2196c9" stroke-width="4.1"/>
<line x1="1357.00" y1="1118.50" x2="1357.00" y2="1150.50" stroke="#2196c9" stroke-width="4.1"/>
<line x1="1372.00" y1="1115.75" x2="1372.00" y2="1141.75" stroke="#2196c9" stroke-width="4.1"/>
<line x1="1403.75" y1="1125.50" x2="1403.75" y2="1149.50" stroke="#2196c9" stroke-width="4.1"/>
<line x1="1419.50" y1="1058.00" x2="1419.50" y2="1096.00" stroke="#2196c9" stroke-width="4.1"/>
<line x1="1435.00" y1="1094.00" x2="1435.00" y2="1124.00" stroke="#2196c9" stroke-width="4.1"/>
<line x1="1450.75" y1="1124.75" x2="1450.75" y2="1146.75" stroke="#2196c9" stroke-width="4.1"/>
<line x1="1466.50" y1="1084.50" x2="1466.50" y2="1104.50" stroke="#2196c9" stroke-width="4.1"/>
<line x1="1482.00" y1="1083.50" x2="1482.00" y2="1111.50" stroke="#2196c9" stroke-width="4.1"/>
<line x1="1497.50" y1="1102.25" x2="1497.50" y2="1134.25" stroke="#2196c9" stroke-width="4.1"/>
<line x1="1513.25" y1="1093.25" x2="1513.25" y2="1123.25" stroke="#2196c9" stroke-width="4.1"/>
<line x1="1528.75" y1="1052.75" x2="1528.75" y2="1088.75" stroke="#2196c9" stroke-width="4.1"/>
<line x1="1544.50" y1="1041.50" x2="1544.50" y2="1077.50" stroke="#2196c9" stroke-width="4.1"/>
<line x1="1560.00" y1="1035.50" x2="1560.00" y2="1069.50" stroke="#2196c9" stroke-width="4.1"/>
<line x1="1575.25" y1="1029.50" x2="1575.25" y2="1059.50" stroke="#2196c9" stroke-width="4.1"/>
<line x1="1591.25" y1="1016.25" x2="1591.25" y2="1044.25" stroke="#2196c9" stroke-width="4.1"/>
<line x1="1607.00" y1="1016.25" x2="1607.00" y2="1044.25" stroke="#2196c9" stroke-width="4.1"/>
<line x1="1622.50" y1="980.00" x2="1622.50" y2="1004.00" stroke="#2196c9" stroke-width="4.1"/>
<line x1="1638.00" y1="994.75" x2="1638.00" y2="1020.75" stroke="#2196c9" stroke-width="4.1"/>
<line x1="1653.75" y1="984.75" x2="1653.75" y2="1010.75" stroke="#2196c9" stroke-width="4.1"/>
<line x1="1669.50" y1="963.00" x2="1669.50" y2="991.00" stroke="#2196c9" stroke-width="4.1"/>
<line x1="1684.50" y1="969.00" x2="1684.50" y2="999.00" stroke="#2196c9" stroke-width="4.1"/>
<line x1="1700.25" y1="968.50" x2="1700.25" y2="996.50" stroke="#2196c9" stroke-width="4.1"/>
<line x1="1716.25" y1="934.75" x2="1716.25" y2="976.75" stroke="#2196c9" stroke-width="4.1"/>
<circle cx="1340.75" cy="1122" r="5.2" fill="#2196c9" stroke="#17729c" stroke-width="1"/>
<circle cx="1357" cy="1134.5" r="5.2" fill="#2196c9" stroke="#17729c" stroke-width="1"/>
<circle cx="1372" cy="1128.75" r="5.2" fill="#2196c9" stroke="#17729c" stroke-width="1"/>
<circle cx="1403.75" cy="1137.5" r="5.2" fill="#2196c9" stroke="#17729c" stroke-width="1"/>
<circle cx="1419.5" cy="1077" r="5.2" fill="#2196c9" stroke="#17729c" stroke-width="1"/>
<circle cx="1435" cy="1109" r="5.2" fill="#2196c9" stroke="#17729c" stroke-width="1"/>
<circle cx="1450.75" cy="1135.75" r="5.2" fill="#2196c9" stroke="#17729c" stroke-width="1"/>
<circle cx="1466.5" cy="1094.5" r="5.2" fill="#2196c9" stroke="#17729c" stroke-width="1"/>
<circle cx="1482" cy="1097.5" r="5.2" fill="#2196c9" stroke="#17729c" stroke-width="1"/>
<circle cx="1497.5" cy="1118.25" r="5.2" fill="#2196c9" stroke="#17729c" stroke-width="1"/>
<circle cx="1513.25" cy="1108.25" r="5.2" fill="#2196c9" stroke="#17729c" stroke-width="1"/>
<circle cx="1528.75" cy="1070.75" r="5.2" fill="#2196c9" stroke="#17729c" stroke-width="1"/>
<circle cx="1544.5" cy="1059.5" r="5.2" fill="#2196c9" stroke="#17729c" stroke-width="1"/>
<circle cx="1560" cy="1052.5" r="5.2" fill="#2196c9" stroke="#17729c" stroke-width="1"/>
<circle cx="1575.25" cy="1044.5" r="5.2" fill="#2196c9" stroke="#17729c" stroke-width="1"/>
<circle cx="1591.25" cy="1030.25" r="5.2" fill="#2196c9" stroke="#17729c" stroke-width="1"/>
<circle cx="1607" cy="1030.25" r="5.2" fill="#2196c9" stroke="#17729c" stroke-width="1"/>
<circle cx="1622.5" cy="992" r="5.2" fill="#2196c9" stroke="#17729c" stroke-width="1"/>
<circle cx="1638" cy="1007.75" r="5.2" fill="#2196c9" stroke="#17729c" stroke-width="1"/>
<circle cx="1653.75" cy="997.75" r="5.2" fill="#2196c9" stroke="#17729c" stroke-width="1"/>
<circle cx="1669.5" cy="977" r="5.2" fill="#2196c9" stroke="#17729c" stroke-width="1"/>
<circle cx="1684.5" cy="984" r="5.2" fill="#2196c9" stroke="#17729c" stroke-width="1"/>
<circle cx="1700.25" cy="982.5" r="5.2" fill="#2196c9" stroke="#17729c" stroke-width="1"/>
<circle cx="1716.25" cy="955.75" r="5.2" fill="#2196c9" stroke="#17729c" stroke-width="1"/>
<line x1="1357.00" y1="1086.25" x2="1357.00" y2="1140.25" stroke="#0f2a87" stroke-width="4.1"/>
<line x1="1372.00" y1="1101.75" x2="1372.00" y2="1135.75" stroke="#0f2a87" stroke-width="4.1"/>
<line x1="1387.75" y1="1076.25" x2="1387.75" y2="1114.25" stroke="#0f2a87" stroke-width="4.1"/>
<line x1="1403.75" y1="1091.75" x2="1403.75" y2="1119.75" stroke="#0f2a87" stroke-width="4.1"/>
<line x1="1419.50" y1="1107.50" x2="1419.50" y2="1131.50" stroke="#0f2a87" stroke-width="4.1"/>
<line x1="1435.00" y1="1073.50" x2="1435.00" y2="1099.50" stroke="#0f2a87" stroke-width="4.1"/>
<line x1="1450.75" y1="1075.50" x2="1450.75" y2="1099.50" stroke="#0f2a87" stroke-width="4.1"/>
<line x1="1466.50" y1="1072.00" x2="1466.50" y2="1102.00" stroke="#0f2a87" stroke-width="4.1"/>
<line x1="1482.00" y1="1076.25" x2="1482.00" y2="1100.25" stroke="#0f2a87" stroke-width="4.1"/>
<line x1="1497.50" y1="1044.50" x2="1497.50" y2="1074.50" stroke="#0f2a87" stroke-width="4.1"/>
<line x1="1513.25" y1="1029.00" x2="1513.25" y2="1059.00" stroke="#0f2a87" stroke-width="4.1"/>
<line x1="1528.75" y1="1021.00" x2="1528.75" y2="1057.00" stroke="#0f2a87" stroke-width="4.1"/>
<line x1="1544.50" y1="997.50" x2="1544.50" y2="1041.50" stroke="#0f2a87" stroke-width="4.1"/>
<line x1="1560.00" y1="998.25" x2="1560.00" y2="1042.25" stroke="#0f2a87" stroke-width="4.1"/>
<line x1="1575.25" y1="986.50" x2="1575.25" y2="1022.50" stroke="#0f2a87" stroke-width="4.1"/>
<line x1="1591.25" y1="974.25" x2="1591.25" y2="1022.25" stroke="#0f2a87" stroke-width="4.1"/>
<line x1="1607.00" y1="974.25" x2="1607.00" y2="1018.25" stroke="#0f2a87" stroke-width="4.1"/>
<line x1="1622.50" y1="956.50" x2="1622.50" y2="1008.50" stroke="#0f2a87" stroke-width="4.1"/>
<line x1="1638.00" y1="923.00" x2="1638.00" y2="981.00" stroke="#0f2a87" stroke-width="4.1"/>
<line x1="1653.80" y1="891.60" x2="1653.80" y2="947.60" stroke="#0f2a87" stroke-width="4.1"/>
<line x1="1669.30" y1="865.30" x2="1669.30" y2="927.30" stroke="#0f2a87" stroke-width="4.1"/>
<line x1="1684.70" y1="844.70" x2="1684.70" y2="930.70" stroke="#0f2a87" stroke-width="4.1"/>
<line x1="1700.90" y1="907.30" x2="1700.90" y2="975.30" stroke="#0f2a87" stroke-width="4.1"/>
<line x1="1715.70" y1="828.70" x2="1715.70" y2="900.70" stroke="#0f2a87" stroke-width="4.1"/>
<circle cx="1357" cy="1113.25" r="5.4" fill="#0f2a87"/>
<circle cx="1372" cy="1118.75" r="5.4" fill="#0f2a87"/>
<circle cx="1387.75" cy="1095.25" r="5.4" fill="#0f2a87"/>
<circle cx="1403.75" cy="1105.75" r="5.4" fill="#0f2a87"/>
<circle cx="1419.5" cy="1119.5" r="5.4" fill="#0f2a87"/>
<circle cx="1435" cy="1086.5" r="5.4" fill="#0f2a87"/>
<circle cx="1450.75" cy="1087.5" r="5.4" fill="#0f2a87"/>
<circle cx="1466.5" cy="1087" r="5.4" fill="#0f2a87"/>
<circle cx="1482" cy="1088.25" r="5.4" fill="#0f2a87"/>
<circle cx="1497.5" cy="1059.5" r="5.4" fill="#0f2a87"/>
<circle cx="1513.25" cy="1044" r="5.4" fill="#0f2a87"/>
<circle cx="1528.75" cy="1039" r="5.4" fill="#0f2a87"/>
<circle cx="1544.5" cy="1019.5" r="5.4" fill="#0f2a87"/>
<circle cx="1560" cy="1020.25" r="5.4" fill="#0f2a87"/>
<circle cx="1575.25" cy="1004.5" r="5.4" fill="#0f2a87"/>
<circle cx="1591.25" cy="998.25" r="5.4" fill="#0f2a87"/>
<circle cx="1607" cy="996.25" r="5.4" fill="#0f2a87"/>
<circle cx="1622.5" cy="982.5" r="5.4" fill="#0f2a87"/>
<circle cx="1638" cy="952" r="5.4" fill="#0f2a87"/>
<circle cx="1653.8" cy="919.6" r="5.4" fill="#0f2a87"/>
<circle cx="1669.3" cy="896.3" r="5.4" fill="#0f2a87"/>
<circle cx="1684.7" cy="887.7" r="5.4" fill="#0f2a87"/>
<circle cx="1700.9" cy="941.3" r="5.4" fill="#0f2a87"/>
<circle cx="1715.7" cy="864.7" r="5.4" fill="#0f2a87"/></svg></body></html>
